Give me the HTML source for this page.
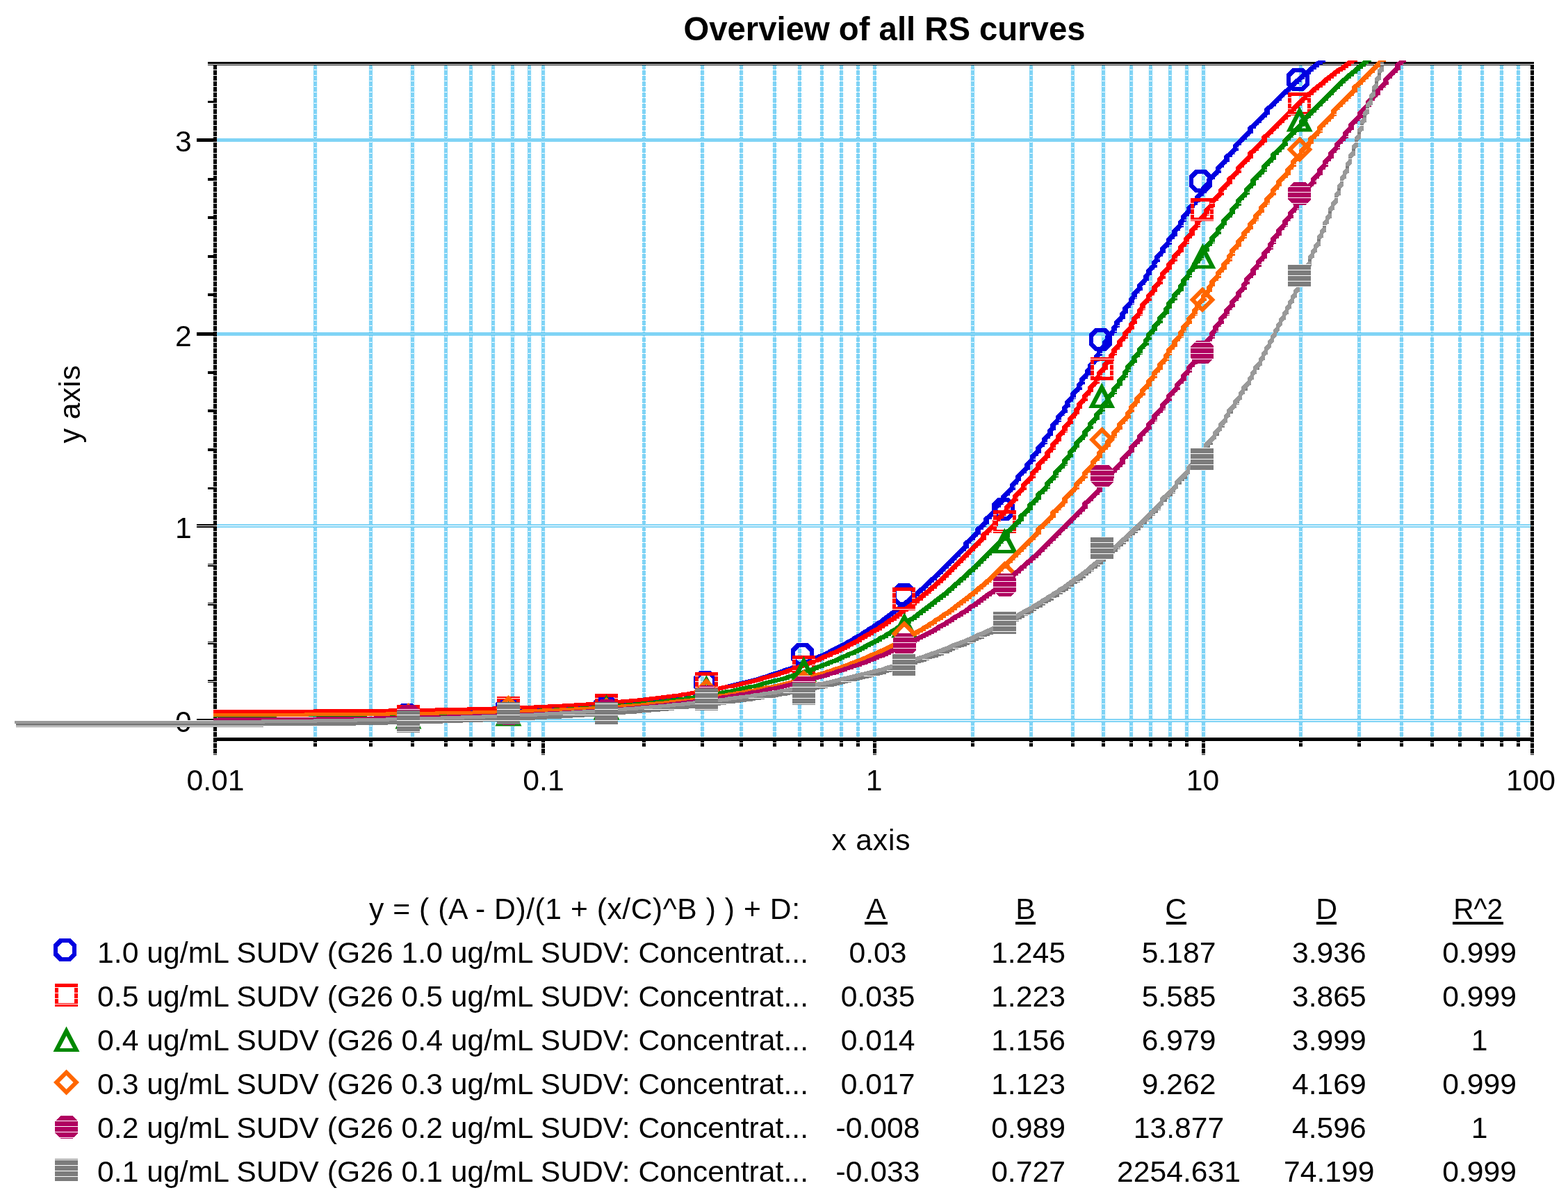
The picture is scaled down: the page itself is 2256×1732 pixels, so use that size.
<!DOCTYPE html>
<html lang="en"><head><meta charset="utf-8"><title>Overview of all RS curves</title>
<style>html,body{margin:0;padding:0;background:#fff}body{width:2256px;height:1732px;overflow:hidden}svg{display:block}text{font-family:"Liberation Sans", Arial, Helvetica, sans-serif;fill:#000}</style></head><body>
<svg xmlns="http://www.w3.org/2000/svg" width="2256" height="1732" viewBox="0 0 2256 1732">
<defs>
<pattern id="pg" width="2" height="8" patternUnits="userSpaceOnUse"><g fill="#00a8ec" shape-rendering="crispEdges"><rect x="0" y="0" width="1" height="1"/><rect x="1" y="1" width="1" height="1"/><rect x="0" y="2" width="1" height="1"/><rect x="1" y="3" width="1" height="1"/><rect x="1" y="5" width="1" height="1"/><rect x="0" y="6" width="1" height="1"/><rect x="1" y="7" width="1" height="1"/></g></pattern>
<pattern id="hk" width="8" height="8" patternUnits="userSpaceOnUse"><g shape-rendering="crispEdges"><rect width="8" height="8" fill="#fff"/><rect width="8" height="4" fill="#000"/><rect y="5" width="8" height="3" fill="#000"/></g></pattern>
<pattern id="hred" width="8" height="8" patternUnits="userSpaceOnUse"><g shape-rendering="crispEdges"><rect width="8" height="8" fill="#fff"/><rect width="8" height="4" fill="#ff0000"/><rect y="5" width="8" height="3" fill="#ff0000"/></g></pattern>
<pattern id="hpurple" width="8" height="8" patternUnits="userSpaceOnUse"><g shape-rendering="crispEdges"><rect width="8" height="8" fill="#fff"/><rect width="8" height="4" fill="#b00060"/><rect y="5" width="8" height="3" fill="#b00060"/></g></pattern>
<pattern id="hgray" width="8" height="8" patternUnits="userSpaceOnUse"><g shape-rendering="crispEdges"><rect width="8" height="8" fill="#fff"/><rect width="8" height="4" fill="#7c7c7c"/><rect y="5" width="8" height="3" fill="#7c7c7c"/></g></pattern>
<clipPath id="cp"><rect x="0" y="87" width="2256" height="1000"/></clipPath>
</defs>
<rect width="2256" height="1732" fill="#fff"/>
<g fill="url(#pg)" shape-rendering="crispEdges">
<rect x="451" y="94" width="5" height="967"/>
<rect x="531" y="94" width="5" height="967"/>
<rect x="591" y="94" width="5" height="967"/>
<rect x="639" y="94" width="5" height="967"/>
<rect x="675" y="94" width="5" height="967"/>
<rect x="707" y="94" width="5" height="967"/>
<rect x="735" y="94" width="5" height="967"/>
<rect x="759" y="94" width="5" height="967"/>
<rect x="779" y="94" width="5" height="967"/>
<rect x="924" y="94" width="5" height="967"/>
<rect x="1008" y="94" width="5" height="967"/>
<rect x="1064" y="94" width="5" height="967"/>
<rect x="1112" y="94" width="5" height="967"/>
<rect x="1148" y="94" width="5" height="967"/>
<rect x="1180" y="94" width="5" height="967"/>
<rect x="1208" y="94" width="5" height="967"/>
<rect x="1232" y="94" width="5" height="967"/>
<rect x="1256" y="94" width="5" height="967"/>
<rect x="1397" y="94" width="5" height="967"/>
<rect x="1481" y="94" width="5" height="967"/>
<rect x="1541" y="94" width="5" height="967"/>
<rect x="1585" y="94" width="5" height="967"/>
<rect x="1625" y="94" width="5" height="967"/>
<rect x="1653" y="94" width="5" height="967"/>
<rect x="1681" y="94" width="5" height="967"/>
<rect x="1705" y="94" width="5" height="967"/>
<rect x="1729" y="94" width="5" height="967"/>
<rect x="1869" y="94" width="5" height="967"/>
<rect x="1953" y="94" width="5" height="967"/>
<rect x="2014" y="94" width="5" height="967"/>
<rect x="2058" y="94" width="5" height="967"/>
<rect x="2098" y="94" width="5" height="967"/>
<rect x="2130" y="94" width="5" height="967"/>
<rect x="2158" y="94" width="5" height="967"/>
<rect x="2182" y="94" width="5" height="967"/>
<rect x="312" y="199" width="1890" height="5"/>
<rect x="312" y="478" width="1890" height="5"/>
<rect x="312" y="754" width="1890" height="5"/>
<rect x="312" y="1034" width="1890" height="5"/>
</g>
<g fill="url(#hk)" shape-rendering="crispEdges">
<rect x="299" y="89" width="1908" height="5"/>
<rect x="307" y="94" width="5" height="992"/>
<rect x="2202" y="94" width="5" height="992"/>
<rect x="307" y="1061" width="1900" height="5"/>
<rect x="283" y="1034" width="24" height="5"/>
<rect x="299" y="978" width="8" height="4"/>
<rect x="299" y="923" width="8" height="4"/>
<rect x="299" y="867" width="8" height="4"/>
<rect x="299" y="811" width="8" height="4"/>
<rect x="283" y="754" width="24" height="5"/>
<rect x="299" y="700" width="8" height="4"/>
<rect x="299" y="645" width="8" height="4"/>
<rect x="299" y="589" width="8" height="4"/>
<rect x="299" y="534" width="8" height="4"/>
<rect x="283" y="478" width="24" height="5"/>
<rect x="299" y="422" width="8" height="4"/>
<rect x="299" y="367" width="8" height="4"/>
<rect x="299" y="311" width="8" height="4"/>
<rect x="299" y="256" width="8" height="4"/>
<rect x="283" y="199" width="24" height="5"/>
<rect x="299" y="145" width="8" height="4"/>
<rect x="451" y="1066" width="5" height="8"/>
<rect x="531" y="1066" width="5" height="8"/>
<rect x="591" y="1066" width="5" height="8"/>
<rect x="639" y="1066" width="5" height="8"/>
<rect x="675" y="1066" width="5" height="8"/>
<rect x="707" y="1066" width="5" height="8"/>
<rect x="735" y="1066" width="5" height="8"/>
<rect x="759" y="1066" width="5" height="8"/>
<rect x="779" y="1066" width="5" height="20"/>
<rect x="924" y="1066" width="5" height="8"/>
<rect x="1008" y="1066" width="5" height="8"/>
<rect x="1064" y="1066" width="5" height="8"/>
<rect x="1112" y="1066" width="5" height="8"/>
<rect x="1148" y="1066" width="5" height="8"/>
<rect x="1180" y="1066" width="5" height="8"/>
<rect x="1208" y="1066" width="5" height="8"/>
<rect x="1232" y="1066" width="5" height="8"/>
<rect x="1256" y="1066" width="5" height="20"/>
<rect x="1397" y="1066" width="5" height="8"/>
<rect x="1481" y="1066" width="5" height="8"/>
<rect x="1541" y="1066" width="5" height="8"/>
<rect x="1585" y="1066" width="5" height="8"/>
<rect x="1625" y="1066" width="5" height="8"/>
<rect x="1653" y="1066" width="5" height="8"/>
<rect x="1681" y="1066" width="5" height="8"/>
<rect x="1705" y="1066" width="5" height="8"/>
<rect x="1729" y="1066" width="5" height="20"/>
<rect x="1869" y="1066" width="5" height="8"/>
<rect x="1953" y="1066" width="5" height="8"/>
<rect x="2014" y="1066" width="5" height="8"/>
<rect x="2058" y="1066" width="5" height="8"/>
<rect x="2098" y="1066" width="5" height="8"/>
<rect x="2130" y="1066" width="5" height="8"/>
<rect x="2158" y="1066" width="5" height="8"/>
<rect x="2182" y="1066" width="5" height="8"/>
</g>
<g font-size="42.67">
<text x="275.7" y="218" text-anchor="end">3</text>
<text x="275.7" y="498" text-anchor="end">2</text>
<text x="275.7" y="774" text-anchor="end">1</text>
<text x="275.7" y="1053" text-anchor="end">0</text>
</g>
<g>
<g clip-path="url(#cp)" shape-rendering="crispEdges">
<path d="M307 1023h8v5h-8zM311 1023h8v5h-8zM315 1023h8v5h-8zM319 1022h8v5h-8zM324 1022h8v5h-8zM328 1022h8v5h-8zM332 1022h8v5h-8zM336 1022h8v5h-8zM340 1022h8v5h-8zM345 1022h8v5h-8zM349 1022h8v5h-8zM353 1022h8v5h-8zM357 1022h8v5h-8zM361 1022h8v5h-8zM365 1022h8v5h-8zM370 1022h8v5h-8zM374 1022h8v5h-8zM378 1022h8v5h-8zM382 1022h8v5h-8zM386 1022h8v5h-8zM390 1022h8v5h-8zM395 1022h8v5h-8zM399 1022h8v5h-8zM403 1022h8v5h-8zM407 1022h8v5h-8zM411 1022h8v5h-8zM415 1022h8v5h-8zM420 1022h8v5h-8zM424 1022h8v5h-8zM428 1022h8v5h-8zM432 1022h8v5h-8zM436 1022h8v5h-8zM440 1022h8v5h-8zM445 1022h8v5h-8zM449 1022h8v5h-8zM453 1022h8v5h-8zM457 1022h8v5h-8zM461 1022h8v5h-8zM465 1022h8v5h-8zM469 1022h8v5h-8zM474 1022h8v5h-8zM478 1022h8v5h-8zM482 1022h8v5h-8zM486 1022h8v5h-8zM490 1022h8v5h-8zM495 1022h8v5h-8zM499 1022h8v5h-8zM503 1021h8v5h-8zM507 1021h8v5h-8zM511 1021h8v5h-8zM515 1021h8v5h-8zM520 1021h8v5h-8zM524 1021h8v5h-8zM528 1021h8v5h-8zM532 1021h8v5h-8zM536 1021h8v5h-8zM540 1021h8v5h-8zM545 1021h8v5h-8zM549 1021h8v5h-8zM553 1021h8v5h-8zM557 1021h8v5h-8zM561 1021h8v5h-8zM565 1021h8v5h-8zM569 1021h8v5h-8zM574 1021h8v5h-8zM578 1021h8v5h-8zM582 1021h8v5h-8zM586 1021h8v5h-8zM590 1020h8v5h-8zM595 1020h8v5h-8zM599 1020h8v5h-8zM603 1020h8v5h-8zM607 1020h8v5h-8zM611 1020h8v5h-8zM615 1020h8v5h-8zM619 1020h8v5h-8zM624 1020h8v5h-8zM628 1020h8v5h-8zM632 1020h8v5h-8zM636 1020h8v5h-8zM640 1020h8v5h-8zM645 1019h8v5h-8zM649 1019h8v5h-8zM653 1019h8v5h-8zM657 1019h8v5h-8zM661 1019h8v5h-8zM665 1019h8v5h-8zM669 1019h8v5h-8zM674 1019h8v5h-8zM678 1019h8v5h-8zM682 1019h8v5h-8zM686 1019h8v5h-8zM690 1018h8v5h-8zM695 1018h8v5h-8zM699 1018h8v5h-8zM703 1018h8v5h-8zM707 1018h8v5h-8zM711 1018h8v5h-8zM715 1018h8v5h-8zM720 1017h8v5h-8zM724 1017h8v5h-8zM728 1017h8v5h-8zM732 1017h8v5h-8zM736 1017h8v5h-8zM740 1017h8v5h-8zM745 1017h8v5h-8zM749 1016h8v5h-8zM753 1016h8v5h-8zM757 1016h8v5h-8zM761 1016h8v5h-8zM765 1016h8v5h-8zM770 1016h8v5h-8zM774 1015h8v5h-8zM778 1015h8v5h-8zM782 1015h8v5h-8zM786 1015h8v5h-8zM790 1015h8v5h-8zM795 1014h8v5h-8zM799 1014h8v5h-8zM803 1014h8v5h-8zM807 1014h8v5h-8zM811 1013h8v5h-8zM815 1013h8v5h-8zM819 1013h8v5h-8zM824 1013h8v5h-8zM828 1012h8v5h-8zM832 1012h8v5h-8zM836 1012h8v5h-8zM840 1012h8v5h-8zM845 1011h8v5h-8zM849 1011h8v5h-8zM853 1011h8v5h-8zM857 1010h8v5h-8zM861 1010h8v5h-8zM865 1010h8v5h-8zM869 1010h8v5h-8zM874 1009h8v5h-8zM878 1009h8v5h-8zM882 1008h8v5h-8zM886 1008h8v5h-8zM890 1008h8v5h-8zM895 1007h8v5h-8zM899 1007h8v5h-8zM903 1007h8v5h-8zM907 1006h8v5h-8zM911 1006h8v5h-8zM915 1005h8v5h-8zM919 1005h8v5h-8zM924 1004h8v5h-8zM928 1004h8v5h-8zM932 1003h8v5h-8zM936 1003h8v5h-8zM940 1002h8v5h-8zM945 1002h8v5h-8zM949 1001h8v5h-8zM953 1001h8v5h-8zM957 1000h8v5h-8zM961 1000h8v5h-8zM965 999h8v5h-8zM969 999h8v5h-8zM974 998h8v5h-8zM978 997h8v5h-8zM982 997h8v5h-8zM986 996h8v5h-8zM990 995h8v5h-8zM995 995h8v5h-8zM999 994h8v5h-8zM1003 993h8v5h-8zM1007 992h8v5h-8zM1011 992h8v5h-8zM1015 991h8v5h-8zM1019 990h8v5h-8zM1024 989h8v5h-8zM1028 988h8v5h-8zM1032 988h8v5h-8zM1036 987h8v5h-8zM1040 986h8v5h-8zM1045 985h8v5h-8zM1049 984h8v5h-8zM1053 983h8v5h-8zM1057 982h8v5h-8zM1061 981h8v5h-8zM1065 980h8v5h-8zM1069 979h8v5h-8zM1074 978h8v5h-8zM1078 977h8v5h-8zM1082 976h8v5h-8zM1086 975h8v5h-8zM1090 974h8v5h-8zM1095 972h8v5h-8zM1099 971h8v5h-8zM1103 970h8v5h-8zM1107 968h8v5h-8zM1111 967h8v5h-8zM1115 966h8v5h-8zM1120 964h8v5h-8zM1124 963h8v5h-8zM1128 961h8v5h-8zM1132 960h8v5h-8zM1136 959h8v5h-8zM1140 957h8v5h-8zM1145 955h8v5h-8zM1149 954h8v5h-8zM1153 952h8v5h-8zM1157 950h8v5h-8zM1161 949h8v5h-8zM1165 947h8v5h-8zM1170 945h8v5h-8zM1174 943h8v5h-8zM1178 941h8v5h-8zM1182 940h8v5h-8zM1186 938h8v5h-8zM1190 936h8v5h-8zM1195 933h8v5h-8zM1199 931h8v5h-8zM1203 929h8v5h-8zM1207 927h8v5h-8zM1211 925h8v5h-8zM1215 923h8v5h-8zM1220 920h8v5h-8zM1224 918h8v5h-8zM1228 915h8v5h-8zM1232 913h8v5h-8zM1236 911h8v5h-8zM1240 908h8v5h-8zM1245 905h8v5h-8zM1249 902h8v5h-8zM1253 900h8v5h-8zM1257 897h8v5h-8zM1261 894h8v5h-8zM1265 892h8v5h-8zM1270 888h8v5h-8zM1274 885h8v5h-8zM1278 882h8v5h-8zM1282 879h8v5h-8zM1286 876h8v5h-8zM1290 873h8v5h-8zM1295 869h8v5h-8zM1299 866h8v5h-8zM1303 863h8v5h-8zM1307 859h8v5h-8zM1311 856h8v5h-8zM1315 853h8v5h-8zM1320 848h8v5h-8zM1324 845h8v5h-8zM1328 841h8v5h-8zM1332 837h8v5h-8zM1336 833h8v5h-8zM1340 830h8v5h-8zM1345 825h8v5h-8zM1349 821h8v5h-8zM1353 817h8v5h-8zM1357 813h8v5h-8zM1361 809h8v5h-8zM1365 805h8v5h-8zM1369 801h8v5h-8zM1374 796h8v5h-8zM1378 792h8v5h-8zM1382 788h8v5h-8zM1386 780h8v9h-8zM1390 777h8v5h-8zM1395 772h8v5h-8zM1399 768h8v5h-8zM1403 760h8v9h-8zM1407 757h8v5h-8zM1411 753h8v5h-8zM1415 745h8v9h-8zM1419 742h8v5h-8zM1424 737h8v5h-8zM1428 729h8v9h-8zM1432 725h8v5h-8zM1436 721h8v5h-8zM1440 713h8v9h-8zM1445 708h8v5h-8zM1449 704h8v5h-8zM1453 696h8v9h-8zM1457 692h8v5h-8zM1461 684h8v9h-8zM1465 680h8v5h-8zM1469 676h8v5h-8zM1474 667h8v9h-8zM1478 663h8v5h-8zM1482 655h8v9h-8zM1486 651h8v5h-8zM1490 643h8v9h-8zM1495 638h8v5h-8zM1499 630h8v9h-8zM1503 626h8v5h-8zM1507 618h8v9h-8zM1511 610h8v9h-8zM1515 606h8v5h-8zM1519 598h8v9h-8zM1524 593h8v5h-8zM1528 585h8v9h-8zM1532 577h8v9h-8zM1536 573h8v5h-8zM1540 565h8v9h-8zM1545 560h8v5h-8zM1549 552h8v9h-8zM1553 544h8v9h-8zM1557 540h8v5h-8zM1561 532h8v9h-8zM1565 524h8v9h-8zM1569 520h8v5h-8zM1574 511h8v9h-8zM1578 503h8v9h-8zM1582 499h8v5h-8zM1586 491h8v9h-8zM1590 483h8v9h-8zM1595 478h8v5h-8zM1599 470h8v9h-8zM1603 462h8v9h-8zM1607 458h8v5h-8zM1611 450h8v9h-8zM1615 442h8v9h-8zM1619 438h8v5h-8zM1624 429h8v9h-8zM1628 421h8v9h-8zM1632 417h8v5h-8zM1636 409h8v9h-8zM1640 405h8v5h-8zM1645 396h8v9h-8zM1649 388h8v9h-8zM1653 384h8v5h-8zM1657 376h8v9h-8zM1661 368h8v9h-8zM1665 364h8v5h-8zM1669 356h8v9h-8zM1674 351h8v5h-8zM1678 343h8v9h-8zM1682 339h8v5h-8zM1686 331h8v9h-8zM1690 327h8v5h-8zM1695 318h8v9h-8zM1699 310h8v9h-8zM1703 306h8v5h-8zM1707 298h8v9h-8zM1711 294h8v5h-8zM1715 290h8v5h-8zM1719 282h8v9h-8zM1724 277h8v5h-8zM1728 269h8v9h-8zM1732 265h8v5h-8zM1736 257h8v9h-8zM1740 253h8v5h-8zM1745 248h8v5h-8zM1749 240h8v9h-8zM1753 236h8v5h-8zM1757 232h8v5h-8zM1761 224h8v9h-8zM1765 221h8v5h-8zM1769 217h8v5h-8zM1774 208h8v9h-8zM1778 204h8v5h-8zM1782 200h8v5h-8zM1786 196h8v5h-8zM1790 192h8v5h-8zM1795 183h8v9h-8zM1799 180h8v5h-8zM1803 176h8v5h-8zM1807 172h8v5h-8zM1811 168h8v5h-8zM1815 164h8v5h-8zM1819 156h8v9h-8zM1824 152h8v5h-8zM1828 148h8v5h-8zM1832 144h8v5h-8zM1836 140h8v5h-8zM1840 136h8v5h-8zM1845 131h8v5h-8zM1849 128h8v5h-8zM1853 124h8v5h-8zM1857 120h8v5h-8zM1861 116h8v5h-8zM1865 113h8v5h-8zM1869 109h8v5h-8zM1874 105h8v5h-8zM1878 102h8v5h-8zM1882 98h8v5h-8zM1886 95h8v5h-8zM1890 92h8v5h-8zM1895 88h8v5h-8zM1899 85h8v5h-8z" fill="#0000e0"/>
<path d="M590 1020h5v1h-5zM595 1020h4v1h-4zM599 1020h4v1h-4zM603 1020h4v1h-4zM607 1020h4v1h-4zM611 1020h4v1h-4zM615 1020h4v1h-4zM619 1020h5v1h-5zM624 1020h4v1h-4zM628 1020h4v1h-4zM632 1020h4v1h-4zM636 1020h4v1h-4zM645 1020h4v1h-4zM649 1020h4v1h-4zM653 1020h4v1h-4zM657 1020h4v1h-4zM661 1020h4v1h-4zM665 1020h4v1h-4zM669 1020h5v1h-5zM674 1020h4v1h-4zM678 1020h4v1h-4zM682 1020h4v1h-4zM690 1020h5v1h-5zM695 1020h4v1h-4zM699 1020h4v1h-4zM703 1020h4v1h-4zM707 1020h4v1h-4zM711 1020h4v1h-4zM720 1020h4v1h-4zM724 1020h4v1h-4zM728 1020h4v1h-4zM732 1020h4v1h-4zM736 1020h4v1h-4zM740 1020h5v1h-5zM749 1020h4v1h-4zM753 1020h4v1h-4zM757 1020h4v1h-4zM761 1020h4v1h-4zM765 1020h5v1h-5zM828 1012h4v1h-4zM832 1012h4v1h-4zM836 1012h4v1h-4zM845 1012h4v1h-4zM849 1012h4v1h-4zM857 1012h4v1h-4zM861 1012h4v1h-4zM865 1012h4v1h-4zM874 1012h4v1h-4zM882 1012h4v1h-4zM886 1012h4v1h-4zM924 1004h4v1h-4zM932 1004h4v1h-4zM940 1004h5v1h-5zM949 1004h4v1h-4zM957 1004h4v1h-4zM990 996h5v1h-5zM1007 996h4v1h-4zM1028 988h4v1h-4zM1330 844h6v1h-6zM1347 828h6v1h-6zM1355 820h6v1h-6zM1363 812h6v1h-6zM1371 804h6v1h-6zM1379 796h7v1h-7zM1392 780h6v1h-6zM1400 772h7v1h-7zM1413 756h6v1h-6zM1426 740h6v1h-6zM1430 732h6v1h-6zM1438 724h6v1h-6zM1442 716h6v1h-6zM1450 708h7v1h-7zM1454 700h7v1h-7zM1461 692h8v1h-8zM1466 684h7v1h-7zM1482 660h8v1h-8zM1494 644h4v1h-4zM1499 636h8v1h-8zM1506 628h5v1h-5zM1510 620h5v1h-5zM1514 612h5v1h-5zM1519 604h8v1h-8zM1526 596h6v1h-6zM1530 588h6v1h-6zM1534 580h6v1h-6zM1540 572h8v1h-8zM1546 564h7v1h-7zM1550 556h7v1h-7zM1554 548h7v1h-7zM1561 540h8v1h-8zM1565 532h8v1h-8zM1570 524h7v1h-7zM1574 516h8v1h-8zM1578 508h8v1h-8zM1594 484h4v1h-4zM1599 476h8v1h-8zM1603 468h8v1h-8zM1610 460h5v1h-5zM1614 452h5v1h-5zM1618 444h5v1h-5zM1624 436h8v1h-8zM1628 428h8v1h-8zM1634 420h6v1h-6zM1638 412h6v1h-6zM1645 404h8v1h-8zM1649 396h8v1h-8zM1654 388h7v1h-7zM1658 380h7v1h-7zM1662 372h7v1h-7zM1669 364h8v1h-8zM1678 348h8v1h-8zM1695 324h8v1h-8zM1699 316h8v1h-8zM1706 308h5v1h-5zM1710 300h5v1h-5zM1718 292h5v1h-5zM1722 284h5v1h-5zM1728 276h8v1h-8zM1734 268h6v1h-6zM1738 260h6v1h-6zM1746 252h7v1h-7zM1750 244h7v1h-7zM1758 236h7v1h-7zM1771 220h6v1h-6zM1775 212h7v1h-7zM1783 204h7v1h-7zM1791 196h7v1h-7zM1804 180h7v1h-7zM1812 172h7v1h-7zM1825 156h7v1h-7zM1833 148h7v1h-7zM1841 140h7v1h-7zM1850 132h7v1h-7zM1858 124h7v1h-7zM1867 116h6v1h-6z" fill="#fff"/>
<path d="M307 1023h9v5h-9zM311 1023h9v5h-9zM315 1023l4 -1h5v5l-4 1h-5zM319 1022h10v5h-10zM324 1022h9v5h-9zM328 1022h9v5h-9zM332 1022h9v5h-9zM336 1022h9v5h-9zM340 1022h10v5h-10zM345 1022h9v5h-9zM349 1022h9v5h-9zM353 1022h9v5h-9zM357 1022h9v5h-9zM361 1022h9v5h-9zM365 1022h10v5h-10zM370 1022h9v5h-9zM374 1022h9v5h-9zM378 1022h9v5h-9zM382 1022h9v5h-9zM386 1022h9v5h-9zM390 1022h10v5h-10zM395 1022h9v5h-9zM399 1022h9v5h-9zM403 1022h9v5h-9zM407 1022h9v5h-9zM411 1022h9v5h-9zM415 1022h10v5h-10zM420 1022h9v5h-9zM424 1022h9v5h-9zM428 1022h9v5h-9zM432 1022h9v5h-9zM436 1022h9v5h-9zM440 1022h10v5h-10zM445 1022h9v5h-9zM449 1022h9v5h-9zM453 1022h9v5h-9zM457 1022h9v5h-9zM461 1022h9v5h-9zM465 1022h9v5h-9zM469 1022h10v5h-10zM474 1022h9v5h-9zM478 1022h9v5h-9zM482 1022h9v5h-9zM486 1022h9v5h-9zM490 1022h10v5h-10zM495 1022h9v5h-9zM499 1022l4 -1h5v5l-4 1h-5zM503 1021h9v5h-9zM507 1021h9v5h-9zM511 1021h9v5h-9zM515 1021h10v5h-10zM520 1021h9v5h-9zM524 1021h9v5h-9zM528 1021h9v5h-9zM532 1021h9v5h-9zM536 1021h9v5h-9zM540 1021h10v5h-10zM545 1021h9v5h-9zM549 1021h9v5h-9zM553 1021h9v5h-9zM557 1021h9v5h-9zM561 1021h9v5h-9zM565 1021h9v5h-9zM569 1021h10v5h-10zM574 1021h9v5h-9zM578 1021h9v5h-9zM582 1021h9v5h-9zM586 1021l4 -1h5v5l-4 1h-5zM590 1020h10v5h-10zM595 1020h9v5h-9zM599 1020h9v5h-9zM603 1020h9v5h-9zM607 1020h9v5h-9zM611 1020h9v5h-9zM615 1020h9v5h-9zM619 1020h10v5h-10zM624 1020h9v5h-9zM628 1020h9v5h-9zM632 1020h9v5h-9zM636 1020h9v5h-9zM640 1020l5 -1h5v5l-5 1h-5zM645 1019h9v5h-9zM649 1019h9v5h-9zM653 1019h9v5h-9zM657 1019h9v5h-9zM661 1019h9v5h-9zM665 1019h9v5h-9zM669 1019h10v5h-10zM674 1019h9v5h-9zM678 1019h9v5h-9zM682 1019h9v5h-9zM686 1019l4 -1h5v5l-4 1h-5zM690 1018h10v5h-10zM695 1018h9v5h-9zM699 1018h9v5h-9zM703 1018h9v5h-9zM707 1018h9v5h-9zM711 1018h9v5h-9zM715 1018l5 -1h5v5l-5 1h-5zM720 1017h9v5h-9zM724 1017h9v5h-9zM728 1017h9v5h-9zM732 1017h9v5h-9zM736 1017h9v5h-9zM740 1017h10v5h-10zM745 1017l4 -1h5v5l-4 1h-5zM749 1016h9v5h-9zM753 1016h9v5h-9zM757 1016h9v5h-9zM761 1016h9v5h-9zM765 1016h10v5h-10zM770 1016l4 -1h5v5l-4 1h-5zM774 1015h9v5h-9zM778 1015h9v5h-9zM782 1015h9v5h-9zM786 1015h9v5h-9zM790 1015l5 -1h5v5l-5 1h-5zM795 1014h9v5h-9zM799 1014h9v5h-9zM803 1014h9v5h-9zM807 1014l4 -1h5v5l-4 1h-5zM811 1013h9v5h-9zM815 1013h9v5h-9zM819 1013h10v5h-10zM824 1013l4 -1h5v5l-4 1h-5zM828 1012h9v5h-9zM832 1012h9v5h-9zM836 1012h9v5h-9zM840 1012l5 -1h5v5l-5 1h-5zM845 1011h9v5h-9zM849 1011h9v5h-9zM853 1011l4 -1h5v5l-4 1h-5zM857 1010h9v5h-9zM861 1010h9v5h-9zM865 1010h9v5h-9zM869 1010l5 -1h5v5l-5 1h-5zM874 1009h9v5h-9zM878 1009l4 -1h5v5l-4 1h-5zM882 1008h9v5h-9zM886 1008h9v5h-9zM890 1008l5 -1h5v5l-5 1h-5zM895 1007h9v5h-9zM899 1007h9v5h-9zM903 1007l4 -1h5v5l-4 1h-5zM907 1006h9v5h-9zM911 1006l4 -1h5v5l-4 1h-5zM915 1005h9v5h-9zM919 1005l5 -1h5v5l-5 1h-5zM924 1004h9v5h-9zM928 1004l4 -1h5v5l-4 1h-5zM932 1003h9v5h-9zM936 1003l4 -1h5v5l-4 1h-5zM940 1002h10v5h-10zM945 1002l4 -1h5v5l-4 1h-5zM949 1001h9v5h-9zM953 1001l4 -1h5v5l-4 1h-5zM957 1000h9v5h-9zM961 1000l4 -1h5v5l-4 1h-5zM965 999h9v5h-9zM969 999l5 -1h5v5l-5 1h-5zM974 998l4 -1h5v5l-4 1h-5zM978 997h9v5h-9zM982 997l4 -1h5v5l-4 1h-5zM986 996l4 -1h5v5l-4 1h-5zM990 995h10v5h-10zM995 995l4 -1h5v5l-4 1h-5zM999 994l4 -1h5v5l-4 1h-5zM1003 993l4 -1h5v5l-4 1h-5zM1007 992h9v5h-9zM1011 992l4 -1h5v5l-4 1h-5zM1015 991l4 -1h5v5l-4 1h-5zM1019 990l5 -1h5v5l-5 1h-5zM1024 989l4 -1h5v5l-4 1h-5zM1028 988h9v5h-9zM1032 988l4 -1h5v5l-4 1h-5zM1036 987l4 -1h5v5l-4 1h-5zM1040 986l5 -1h5v5l-5 1h-5zM1045 985l4 -1h5v5l-4 1h-5zM1049 984l4 -1h5v5l-4 1h-5zM1053 983l4 -1h5v5l-4 1h-5zM1057 982l4 -1h5v5l-4 1h-5zM1061 981l4 -1h5v5l-4 1h-5zM1065 980l4 -1h5v5l-4 1h-5zM1069 979l5 -1h5v5l-5 1h-5zM1074 978l4 -1h5v5l-4 1h-5zM1078 977l4 -1h5v5l-4 1h-5zM1082 976l4 -1h5v5l-4 1h-5zM1086 975l4 -1h5v5l-4 1h-5zM1090 974l5 -2h5v5l-5 2h-5zM1095 972l4 -1h5v5l-4 1h-5zM1099 971l4 -1h5v5l-4 1h-5zM1103 970l4 -2h5v5l-4 2h-5zM1107 968l4 -1h5v5l-4 1h-5zM1111 967l4 -1h5v5l-4 1h-5zM1115 966l5 -2h5v5l-5 2h-5zM1120 964l4 -1h5v5l-4 1h-5zM1124 963l4 -2h5v5l-4 2h-5zM1128 961l4 -1h5v5l-4 1h-5zM1132 960l4 -1h5v5l-4 1h-5zM1136 959l4 -2h5v5l-4 2h-5zM1140 957l5 -2h5v5l-5 2h-5zM1145 955l4 -1h5v5l-4 1h-5zM1149 954l4 -2h5v5l-4 2h-5zM1153 952l4 -2h5v5l-4 2h-5zM1157 950l4 -1h5v5l-4 1h-5zM1161 949l4 -2h5v5l-4 2h-5zM1165 947l5 -2h5v5l-5 2h-5zM1170 945l4 -2h5v5l-4 2h-5zM1174 943l4 -2h5v5l-4 2h-5zM1178 941l4 -1h5v5l-4 1h-5zM1182 940l4 -2h5v5l-4 2h-5zM1186 938l4 -2h5v5l-4 2h-5zM1190 936l5 -3h5v5l-5 3h-5zM1195 933l4 -2h5v5l-4 2h-5zM1199 931l4 -2h5v5l-4 2h-5zM1203 929l4 -2h5v5l-4 2h-5zM1207 927l4 -2h5v5l-4 2h-5zM1211 925l4 -2h5v5l-4 2h-5zM1215 923l5 -3h5v5l-5 3h-5zM1220 920l4 -2h5v5l-4 2h-5zM1224 918l4 -3h5v5l-4 3h-5zM1228 915l4 -2h5v5l-4 2h-5zM1232 913l4 -2h5v5l-4 2h-5zM1236 911l4 -3h5v5l-4 3h-5zM1240 908l5 -3h5v5l-5 3h-5zM1245 905l4 -3h5v5l-4 3h-5zM1249 902l4 -2h5v5l-4 2h-5zM1253 900l4 -3h5v5l-4 3h-5zM1257 897l4 -3h5v5l-4 3h-5zM1261 894l4 -2h5v5l-4 2h-5zM1265 892l5 -4h5v5l-5 4h-5zM1270 888l4 -3h5v5l-4 3h-5zM1274 885l4 -3h5v5l-4 3h-5zM1278 882l4 -3h5v5l-4 3h-5zM1282 879l4 -3h5v5l-4 3h-5zM1286 876l4 -3h5v5l-4 3h-5zM1290 873l5 -4h5v5l-5 4h-5zM1295 869l4 -3h5v5l-4 3h-5zM1299 866l4 -3h5v5l-4 3h-5zM1303 863l4 -4h5v5l-4 4h-5zM1307 859l4 -3h5v5l-4 3h-5zM1311 856l4 -3h5v5l-4 3h-5zM1315 853l5 -5h5v5l-5 5h-5zM1320 848l4 -3h5v5l-4 3h-5zM1324 845l4 -4h5v5l-4 4h-5zM1328 841l4 -4h5v5l-4 4h-5zM1332 837l4 -4h5v5l-4 4h-5zM1336 833l4 -3h5v5l-4 3h-5zM1340 830l5 -5h5v5l-5 5h-5zM1345 825l4 -4h5v5l-4 4h-5zM1349 821l4 -4h5v5l-4 4h-5zM1353 817l4 -4h5v5l-4 4h-5zM1357 813l4 -4h5v5l-4 4h-5zM1361 809l4 -4h5v5l-4 4h-5zM1365 805l4 -4h5v5l-4 4h-5zM1369 801l5 -5h5v5l-5 5h-5zM1374 796l4 -4h5v5l-4 4h-5zM1378 792l4 -4h5v5l-4 4h-5zM1382 788l4 -4h5v5l-4 4h-5zM1386 780l4 -3h5v5l-4 3h-5zM1390 777l5 -5h5v5l-5 5h-5zM1395 772l4 -4h5v5l-4 4h-5zM1399 768l4 -4h5v5l-4 4h-5zM1403 760l4 -3h5v5l-4 3h-5zM1407 757l4 -4h5v5l-4 4h-5zM1411 753l4 -4h5v5l-4 4h-5zM1415 745l4 -3h5v5l-4 3h-5zM1419 742l5 -5h5v5l-5 5h-5zM1424 737l4 -4h5v5l-4 4h-5zM1428 729l4 -4h5v5l-4 4h-5zM1432 725l4 -4h5v5l-4 4h-5zM1436 721l4 -4h5v5l-4 4h-5zM1440 713l5 -5h5v5l-5 5h-5zM1445 708l4 -4h5v5l-4 4h-5zM1449 704l4 -4h5v5l-4 4h-5zM1453 696l4 -4h5v5l-4 4h-5zM1457 692l4 -4h5v5l-4 4h-5zM1461 684l4 -4h5v5l-4 4h-5zM1465 680l4 -4h5v5l-4 4h-5zM1469 676l5 -5h5v5l-5 5h-5zM1474 667l4 -4h5v5l-4 4h-5zM1478 663l4 -4h5v5l-4 4h-5zM1482 655l4 -4h5v5l-4 4h-5zM1486 651l4 -4h5v5l-4 4h-5zM1490 643l5 -5h5v5l-5 5h-5zM1495 638l4 -4h5v5l-4 4h-5zM1499 630l4 -4h5v5l-4 4h-5zM1503 626l4 -4h5v5l-4 4h-5zM1507 618l4 -4h5v5l-4 4h-5zM1511 610l4 -4h5v5l-4 4h-5zM1515 606l4 -4h5v5l-4 4h-5zM1519 598l5 -5h5v5l-5 5h-5zM1524 593l4 -4h5v5l-4 4h-5zM1528 585l4 -4h5v5l-4 4h-5zM1532 577l4 -4h5v5l-4 4h-5zM1536 573l4 -4h5v5l-4 4h-5zM1540 565l5 -5h5v5l-5 5h-5zM1545 560l4 -4h5v5l-4 4h-5zM1549 552l4 -4h5v5l-4 4h-5zM1553 544l4 -4h5v5l-4 4h-5zM1557 540l4 -4h5v5l-4 4h-5zM1561 532l4 -4h5v5l-4 4h-5zM1565 524l4 -4h5v5l-4 4h-5zM1569 520l5 -5h5v5l-5 5h-5zM1574 511l4 -4h5v5l-4 4h-5zM1578 503l4 -4h5v5l-4 4h-5zM1582 499l4 -4h5v5l-4 4h-5zM1586 491l4 -4h5v5l-4 4h-5zM1590 483l5 -5h5v5l-5 5h-5zM1595 478l4 -4h5v5l-4 4h-5zM1599 470l4 -4h5v5l-4 4h-5zM1603 462l4 -4h5v5l-4 4h-5zM1607 458l4 -4h5v5l-4 4h-5zM1611 450l4 -4h5v5l-4 4h-5zM1615 442l4 -4h5v5l-4 4h-5zM1619 438l5 -5h5v5l-5 5h-5zM1624 429l4 -4h5v5l-4 4h-5zM1628 421l4 -4h5v5l-4 4h-5zM1632 417l4 -4h5v5l-4 4h-5zM1636 409l4 -4h5v5l-4 4h-5zM1640 405l5 -5h5v5l-5 5h-5zM1645 396l4 -4h5v5l-4 4h-5zM1649 388l4 -4h5v5l-4 4h-5zM1653 384l4 -4h5v5l-4 4h-5zM1657 376l4 -4h5v5l-4 4h-5zM1661 368l4 -4h5v5l-4 4h-5zM1665 364l4 -4h5v5l-4 4h-5zM1669 356l5 -5h5v5l-5 5h-5zM1674 351l4 -4h5v5l-4 4h-5zM1678 343l4 -4h5v5l-4 4h-5zM1682 339l4 -4h5v5l-4 4h-5zM1686 331l4 -4h5v5l-4 4h-5zM1690 327l5 -5h5v5l-5 5h-5zM1695 318l4 -4h5v5l-4 4h-5zM1699 310l4 -4h5v5l-4 4h-5zM1703 306l4 -4h5v5l-4 4h-5zM1707 298l4 -4h5v5l-4 4h-5zM1711 294l4 -4h5v5l-4 4h-5zM1715 290l4 -4h5v5l-4 4h-5zM1719 282l5 -5h5v5l-5 5h-5zM1724 277l4 -4h5v5l-4 4h-5zM1728 269l4 -4h5v5l-4 4h-5zM1732 265l4 -4h5v5l-4 4h-5zM1736 257l4 -4h5v5l-4 4h-5zM1740 253l5 -5h5v5l-5 5h-5zM1745 248l4 -4h5v5l-4 4h-5zM1749 240l4 -4h5v5l-4 4h-5zM1753 236l4 -4h5v5l-4 4h-5zM1757 232l4 -4h5v5l-4 4h-5zM1761 224l4 -3h5v5l-4 3h-5zM1765 221l4 -4h5v5l-4 4h-5zM1769 217l5 -5h5v5l-5 5h-5zM1774 208l4 -4h5v5l-4 4h-5zM1778 204l4 -4h5v5l-4 4h-5zM1782 200l4 -4h5v5l-4 4h-5zM1786 196l4 -4h5v5l-4 4h-5zM1790 192l5 -5h5v5l-5 5h-5zM1795 183l4 -3h5v5l-4 3h-5zM1799 180l4 -4h5v5l-4 4h-5zM1803 176l4 -4h5v5l-4 4h-5zM1807 172l4 -4h5v5l-4 4h-5zM1811 168l4 -4h5v5l-4 4h-5zM1815 164l4 -4h5v5l-4 4h-5zM1819 156l5 -4h5v5l-5 4h-5zM1824 152l4 -4h5v5l-4 4h-5zM1828 148l4 -4h5v5l-4 4h-5zM1832 144l4 -4h5v5l-4 4h-5zM1836 140l4 -4h5v5l-4 4h-5zM1840 136l5 -5h5v5l-5 5h-5zM1845 131l4 -3h5v5l-4 3h-5zM1849 128l4 -4h5v5l-4 4h-5zM1853 124l4 -4h5v5l-4 4h-5zM1857 120l4 -4h5v5l-4 4h-5zM1861 116l4 -3h5v5l-4 3h-5zM1865 113l4 -4h5v5l-4 4h-5zM1869 109l5 -4h5v5l-5 4h-5zM1874 105l4 -3h5v5l-4 3h-5zM1878 102l4 -4h5v5l-4 4h-5zM1882 98l4 -3h5v5l-4 3h-5zM1886 95l4 -3h5v5l-4 3h-5zM1890 92l5 -4h5v5l-5 4h-5zM1895 88l4 -3h5v5l-4 3h-5z" fill="#0000e0"/>
</g>
<path fill="#0000e0" fill-rule="evenodd" shape-rendering="crispEdges" d="M1859.5 98h16l8.5 8.5v16l-8.5 8.5h-16l-8.5 -8.5v-16zM1863 104h9l6 6v9l-6 6h-9l-6 -6v-9z"/>
<path fill="#0000e0" fill-rule="evenodd" shape-rendering="crispEdges" d="M1719.7 244.3h16l8.5 8.5v16l-8.5 8.5h-16l-8.5 -8.5v-16zM1723.2 250.3h9l6 6v9l-6 6h-9l-6 -6v-9z"/>
<path fill="#0000e0" fill-rule="evenodd" shape-rendering="crispEdges" d="M1575.7 472.3h16l8.5 8.5v16l-8.5 8.5h-16l-8.5 -8.5v-16zM1579.2 478.3h9l6 6v9l-6 6h-9l-6 -6v-9z"/>
<path fill="#0000e0" fill-rule="evenodd" shape-rendering="crispEdges" d="M1435.5 716h16l8.5 8.5v16l-8.5 8.5h-16l-8.5 -8.5v-16zM1439 722h9l6 6v9l-6 6h-9l-6 -6v-9z"/>
<path fill="#0000e0" fill-rule="evenodd" shape-rendering="crispEdges" d="M1292 839h16l8.5 8.5v16l-8.5 8.5h-16l-8.5 -8.5v-16zM1295.5 845h9l6 6v9l-6 6h-9l-6 -6v-9z"/>
<path fill="#0000e0" fill-rule="evenodd" shape-rendering="crispEdges" d="M1146.6 925.2h16l8.5 8.5v16l-8.5 8.5h-16l-8.5 -8.5v-16zM1150.1 931.2h9l6 6v9l-6 6h-9l-6 -6v-9z"/>
<path fill="#0000e0" fill-rule="evenodd" shape-rendering="crispEdges" d="M1006.6 965.1h16l8.5 8.5v16l-8.5 8.5h-16l-8.5 -8.5v-16zM1010.1 971.1h9l6 6v9l-6 6h-9l-6 -6v-9z"/>
<path fill="#0000e0" fill-rule="evenodd" shape-rendering="crispEdges" d="M862.6 999.5h16l8.5 8.5v16l-8.5 8.5h-16l-8.5 -8.5v-16zM866.1 1005.5h9l6 6v9l-6 6h-9l-6 -6v-9z"/>
<path fill="#0000e0" fill-rule="evenodd" shape-rendering="crispEdges" d="M721.5 1002.5h16l8.5 8.5v16l-8.5 8.5h-16l-8.5 -8.5v-16zM725 1008.5h9l6 6v9l-6 6h-9l-6 -6v-9z"/>
<path fill="#0000e0" fill-rule="evenodd" shape-rendering="crispEdges" d="M577.5 1012.1h16l8.5 8.5v16l-8.5 8.5h-16l-8.5 -8.5v-16zM581 1018.1h9l6 6v9l-6 6h-9l-6 -6v-9z"/>
</g>
<g>
<g clip-path="url(#cp)" shape-rendering="crispEdges">
<path d="M307 1021h8v5h-8zM311 1021h8v5h-8zM315 1021h8v5h-8zM319 1021h8v5h-8zM324 1021h8v5h-8zM328 1021h8v5h-8zM332 1021h8v5h-8zM336 1021h8v5h-8zM340 1021h8v5h-8zM345 1021h8v5h-8zM349 1021h8v5h-8zM353 1021h8v5h-8zM357 1021h8v5h-8zM361 1021h8v5h-8zM365 1021h8v5h-8zM370 1021h8v5h-8zM374 1021h8v5h-8zM378 1021h8v5h-8zM382 1021h8v5h-8zM386 1021h8v5h-8zM390 1021h8v5h-8zM395 1021h8v5h-8zM399 1021h8v5h-8zM403 1021h8v5h-8zM407 1021h8v5h-8zM411 1021h8v5h-8zM415 1021h8v5h-8zM420 1021h8v5h-8zM424 1021h8v5h-8zM428 1021h8v5h-8zM432 1021h8v5h-8zM436 1021h8v5h-8zM440 1021h8v5h-8zM445 1021h8v5h-8zM449 1021h8v5h-8zM453 1020h8v5h-8zM457 1020h8v5h-8zM461 1020h8v5h-8zM465 1020h8v5h-8zM469 1020h8v5h-8zM474 1020h8v5h-8zM478 1020h8v5h-8zM482 1020h8v5h-8zM486 1020h8v5h-8zM490 1020h8v5h-8zM495 1020h8v5h-8zM499 1020h8v5h-8zM503 1020h8v5h-8zM507 1020h8v5h-8zM511 1020h8v5h-8zM515 1020h8v5h-8zM520 1020h8v5h-8zM524 1020h8v5h-8zM528 1020h8v5h-8zM532 1020h8v5h-8zM536 1020h8v5h-8zM540 1020h8v5h-8zM545 1020h8v5h-8zM549 1020h8v5h-8zM553 1020h8v5h-8zM557 1020h8v5h-8zM561 1019h8v5h-8zM565 1019h8v5h-8zM569 1019h8v5h-8zM574 1019h8v5h-8zM578 1019h8v5h-8zM582 1019h8v5h-8zM586 1019h8v5h-8zM590 1019h8v5h-8zM595 1019h8v5h-8zM599 1019h8v5h-8zM603 1019h8v5h-8zM607 1019h8v5h-8zM611 1019h8v5h-8zM615 1019h8v5h-8zM619 1019h8v5h-8zM624 1019h8v5h-8zM628 1018h8v5h-8zM632 1018h8v5h-8zM636 1018h8v5h-8zM640 1018h8v5h-8zM645 1018h8v5h-8zM649 1018h8v5h-8zM653 1018h8v5h-8zM657 1018h8v5h-8zM661 1018h8v5h-8zM665 1018h8v5h-8zM669 1018h8v5h-8zM674 1017h8v5h-8zM678 1017h8v5h-8zM682 1017h8v5h-8zM686 1017h8v5h-8zM690 1017h8v5h-8zM695 1017h8v5h-8zM699 1017h8v5h-8zM703 1017h8v5h-8zM707 1017h8v5h-8zM711 1016h8v5h-8zM715 1016h8v5h-8zM720 1016h8v5h-8zM724 1016h8v5h-8zM728 1016h8v5h-8zM732 1016h8v5h-8zM736 1016h8v5h-8zM740 1016h8v5h-8zM745 1015h8v5h-8zM749 1015h8v5h-8zM753 1015h8v5h-8zM757 1015h8v5h-8zM761 1015h8v5h-8zM765 1015h8v5h-8zM770 1014h8v5h-8zM774 1014h8v5h-8zM778 1014h8v5h-8zM782 1014h8v5h-8zM786 1014h8v5h-8zM790 1013h8v5h-8zM795 1013h8v5h-8zM799 1013h8v5h-8zM803 1013h8v5h-8zM807 1013h8v5h-8zM811 1012h8v5h-8zM815 1012h8v5h-8zM819 1012h8v5h-8zM824 1012h8v5h-8zM828 1011h8v5h-8zM832 1011h8v5h-8zM836 1011h8v5h-8zM840 1011h8v5h-8zM845 1010h8v5h-8zM849 1010h8v5h-8zM853 1010h8v5h-8zM857 1009h8v5h-8zM861 1009h8v5h-8zM865 1009h8v5h-8zM869 1009h8v5h-8zM874 1008h8v5h-8zM878 1008h8v5h-8zM882 1008h8v5h-8zM886 1007h8v5h-8zM890 1007h8v5h-8zM895 1006h8v5h-8zM899 1006h8v5h-8zM903 1006h8v5h-8zM907 1005h8v5h-8zM911 1005h8v5h-8zM915 1005h8v5h-8zM919 1004h8v5h-8zM924 1004h8v5h-8zM928 1003h8v5h-8zM932 1003h8v5h-8zM936 1002h8v5h-8zM940 1002h8v5h-8zM945 1001h8v5h-8zM949 1001h8v5h-8zM953 1000h8v5h-8zM957 1000h8v5h-8zM961 999h8v5h-8zM965 999h8v5h-8zM969 998h8v5h-8zM974 998h8v5h-8zM978 997h8v5h-8zM982 996h8v5h-8zM986 996h8v5h-8zM990 995h8v5h-8zM995 994h8v5h-8zM999 994h8v5h-8zM1003 993h8v5h-8zM1007 992h8v5h-8zM1011 992h8v5h-8zM1015 991h8v5h-8zM1019 990h8v5h-8zM1024 989h8v5h-8zM1028 989h8v5h-8zM1032 988h8v5h-8zM1036 987h8v5h-8zM1040 986h8v5h-8zM1045 985h8v5h-8zM1049 985h8v5h-8zM1053 984h8v5h-8zM1057 983h8v5h-8zM1061 982h8v5h-8zM1065 981h8v5h-8zM1069 980h8v5h-8zM1074 979h8v5h-8zM1078 978h8v5h-8zM1082 977h8v5h-8zM1086 976h8v5h-8zM1090 975h8v5h-8zM1095 973h8v5h-8zM1099 972h8v5h-8zM1103 971h8v5h-8zM1107 970h8v5h-8zM1111 969h8v5h-8zM1115 968h8v5h-8zM1120 966h8v5h-8zM1124 965h8v5h-8zM1128 964h8v5h-8zM1132 962h8v5h-8zM1136 961h8v5h-8zM1140 960h8v5h-8zM1145 958h8v5h-8zM1149 956h8v5h-8zM1153 955h8v5h-8zM1157 953h8v5h-8zM1161 952h8v5h-8zM1165 950h8v5h-8zM1170 948h8v5h-8zM1174 947h8v5h-8zM1178 945h8v5h-8zM1182 943h8v5h-8zM1186 941h8v5h-8zM1190 940h8v5h-8zM1195 937h8v5h-8zM1199 936h8v5h-8zM1203 934h8v5h-8zM1207 932h8v5h-8zM1211 930h8v5h-8zM1215 928h8v5h-8zM1220 925h8v5h-8zM1224 923h8v5h-8zM1228 921h8v5h-8zM1232 919h8v5h-8zM1236 916h8v5h-8zM1240 914h8v5h-8zM1245 911h8v5h-8zM1249 909h8v5h-8zM1253 906h8v5h-8zM1257 904h8v5h-8zM1261 902h8v5h-8zM1265 899h8v5h-8zM1270 896h8v5h-8zM1274 893h8v5h-8zM1278 890h8v5h-8zM1282 888h8v5h-8zM1286 885h8v5h-8zM1290 882h8v5h-8zM1295 878h8v5h-8zM1299 875h8v5h-8zM1303 872h8v5h-8zM1307 869h8v5h-8zM1311 866h8v5h-8zM1315 863h8v5h-8zM1320 859h8v5h-8zM1324 855h8v5h-8zM1328 852h8v5h-8zM1332 849h8v5h-8zM1336 845h8v5h-8zM1340 842h8v5h-8zM1345 837h8v5h-8zM1349 834h8v5h-8zM1353 830h8v5h-8zM1357 826h8v5h-8zM1361 822h8v5h-8zM1365 818h8v5h-8zM1369 814h8v5h-8zM1374 809h8v5h-8zM1378 805h8v5h-8zM1382 801h8v5h-8zM1386 797h8v5h-8zM1390 793h8v5h-8zM1395 788h8v5h-8zM1399 784h8v5h-8zM1403 780h8v5h-8zM1407 776h8v5h-8zM1411 768h8v9h-8zM1415 765h8v5h-8zM1419 761h8v5h-8zM1424 756h8v5h-8zM1428 748h8v9h-8zM1432 745h8v5h-8zM1436 741h8v5h-8zM1440 737h8v5h-8zM1445 728h8v9h-8zM1449 724h8v5h-8zM1453 720h8v5h-8zM1457 712h8v9h-8zM1461 708h8v5h-8zM1465 704h8v5h-8zM1469 696h8v9h-8zM1474 691h8v5h-8zM1478 687h8v5h-8zM1482 679h8v9h-8zM1486 675h8v5h-8zM1490 667h8v9h-8zM1495 662h8v5h-8zM1499 658h8v5h-8zM1503 650h8v9h-8zM1507 646h8v5h-8zM1511 638h8v9h-8zM1515 634h8v5h-8zM1519 626h8v9h-8zM1524 621h8v5h-8zM1528 613h8v9h-8zM1532 609h8v5h-8zM1536 601h8v9h-8zM1540 597h8v5h-8zM1545 588h8v9h-8zM1549 580h8v9h-8zM1553 576h8v5h-8zM1557 568h8v9h-8zM1561 564h8v5h-8zM1565 556h8v9h-8zM1569 552h8v5h-8zM1574 543h8v9h-8zM1578 535h8v9h-8zM1582 531h8v5h-8zM1586 523h8v9h-8zM1590 519h8v5h-8zM1595 510h8v9h-8zM1599 502h8v9h-8zM1603 498h8v5h-8zM1607 490h8v9h-8zM1611 486h8v5h-8zM1615 478h8v9h-8zM1619 474h8v5h-8zM1624 465h8v9h-8zM1628 457h8v9h-8zM1632 453h8v5h-8zM1636 445h8v9h-8zM1640 437h8v9h-8zM1645 432h8v5h-8zM1649 424h8v9h-8zM1653 420h8v5h-8zM1657 412h8v9h-8zM1661 408h8v5h-8zM1665 400h8v9h-8zM1669 392h8v9h-8zM1674 387h8v5h-8zM1678 379h8v9h-8zM1682 375h8v5h-8zM1686 367h8v9h-8zM1690 363h8v5h-8zM1695 354h8v9h-8zM1699 350h8v5h-8zM1703 342h8v9h-8zM1707 338h8v5h-8zM1711 330h8v9h-8zM1715 326h8v5h-8zM1719 318h8v9h-8zM1724 313h8v5h-8zM1728 309h8v5h-8zM1732 301h8v9h-8zM1736 297h8v5h-8zM1740 289h8v9h-8zM1745 284h8v5h-8zM1749 280h8v5h-8zM1753 272h8v9h-8zM1757 268h8v5h-8zM1761 264h8v5h-8zM1765 256h8v9h-8zM1769 253h8v5h-8zM1774 248h8v5h-8zM1778 240h8v9h-8zM1782 236h8v5h-8zM1786 232h8v5h-8zM1790 228h8v5h-8zM1795 219h8v9h-8zM1799 216h8v5h-8zM1803 212h8v5h-8zM1807 208h8v5h-8zM1811 204h8v5h-8zM1815 196h8v9h-8zM1819 193h8v5h-8zM1824 188h8v5h-8zM1828 184h8v5h-8zM1832 180h8v5h-8zM1836 176h8v5h-8zM1840 172h8v5h-8zM1845 167h8v5h-8zM1849 163h8v5h-8zM1853 159h8v5h-8zM1857 155h8v5h-8zM1861 151h8v5h-8zM1865 147h8v5h-8zM1869 143h8v5h-8zM1874 139h8v5h-8zM1878 135h8v5h-8zM1882 132h8v5h-8zM1886 128h8v5h-8zM1890 125h8v5h-8zM1895 121h8v5h-8zM1899 118h8v5h-8zM1903 114h8v5h-8zM1907 111h8v5h-8zM1911 108h8v5h-8zM1915 105h8v5h-8zM1920 101h8v5h-8zM1924 98h8v5h-8zM1928 96h8v5h-8zM1932 93h8v5h-8zM1936 90h8v5h-8zM1940 87h8v5h-8zM1945 84h8v5h-8z" fill="#ff0000"/>
<path d="M453 1020h4v1h-4zM457 1020h4v1h-4zM461 1020h4v1h-4zM465 1020h4v1h-4zM469 1020h5v1h-5zM474 1020h4v1h-4zM478 1020h4v1h-4zM482 1020h4v1h-4zM486 1020h4v1h-4zM490 1020h5v1h-5zM495 1020h4v1h-4zM499 1020h4v1h-4zM503 1020h4v1h-4zM507 1020h4v1h-4zM511 1020h4v1h-4zM515 1020h5v1h-5zM520 1020h4v1h-4zM524 1020h4v1h-4zM528 1020h4v1h-4zM532 1020h4v1h-4zM536 1020h4v1h-4zM540 1020h5v1h-5zM545 1020h4v1h-4zM549 1020h4v1h-4zM553 1020h4v1h-4zM561 1020h4v1h-4zM565 1020h4v1h-4zM569 1020h5v1h-5zM574 1020h4v1h-4zM578 1020h4v1h-4zM582 1020h4v1h-4zM586 1020h4v1h-4zM590 1020h5v1h-5zM595 1020h4v1h-4zM599 1020h4v1h-4zM603 1020h4v1h-4zM607 1020h4v1h-4zM611 1020h4v1h-4zM615 1020h4v1h-4zM619 1020h5v1h-5zM628 1020h4v1h-4zM632 1020h4v1h-4zM636 1020h4v1h-4zM640 1020h5v1h-5zM645 1020h4v1h-4zM649 1020h4v1h-4zM653 1020h4v1h-4zM657 1020h4v1h-4zM661 1020h4v1h-4zM665 1020h4v1h-4zM674 1020h4v1h-4zM678 1020h4v1h-4zM682 1020h4v1h-4zM686 1020h4v1h-4zM690 1020h5v1h-5zM695 1020h4v1h-4zM699 1020h4v1h-4zM703 1020h4v1h-4zM711 1020h4v1h-4zM715 1020h5v1h-5zM720 1020h4v1h-4zM724 1020h4v1h-4zM728 1020h4v1h-4zM732 1020h4v1h-4zM736 1020h4v1h-4zM811 1012h4v1h-4zM815 1012h4v1h-4zM819 1012h5v1h-5zM828 1012h4v1h-4zM832 1012h4v1h-4zM836 1012h4v1h-4zM845 1012h4v1h-4zM849 1012h4v1h-4zM857 1012h4v1h-4zM861 1012h4v1h-4zM865 1012h4v1h-4zM874 1012h4v1h-4zM878 1012h4v1h-4zM919 1004h5v1h-5zM928 1004h4v1h-4zM936 1004h4v1h-4zM945 1004h4v1h-4zM953 1004h4v1h-4zM982 996h4v1h-4zM995 996h4v1h-4zM1007 996h4v1h-4zM1045 988h4v1h-4zM1334 852h6v1h-6zM1343 844h5v1h-5zM1352 836h5v1h-5zM1360 828h5v1h-5zM1368 820h5v1h-5zM1376 812h6v1h-6zM1384 804h6v1h-6zM1392 796h6v1h-6zM1400 788h7v1h-7zM1408 780h7v1h-7zM1421 764h6v1h-6zM1434 748h6v1h-6zM1442 740h6v1h-6zM1446 732h7v1h-7zM1454 724h7v1h-7zM1458 716h7v1h-7zM1466 708h7v1h-7zM1470 700h7v1h-7zM1482 684h8v1h-8zM1494 668h4v1h-4zM1502 660h5v1h-5zM1506 652h5v1h-5zM1511 644h8v1h-8zM1518 636h5v1h-5zM1522 628h5v1h-5zM1528 620h8v1h-8zM1534 612h6v1h-6zM1538 604h6v1h-6zM1545 596h8v1h-8zM1549 588h8v1h-8zM1554 580h7v1h-7zM1558 572h7v1h-7zM1565 564h8v1h-8zM1570 556h7v1h-7zM1574 548h8v1h-8zM1578 540h8v1h-8zM1595 516h8v1h-8zM1599 508h8v1h-8zM1606 500h5v1h-5zM1610 492h5v1h-5zM1615 484h8v1h-8zM1622 476h5v1h-5zM1626 468h6v1h-6zM1630 460h6v1h-6zM1636 452h8v1h-8zM1640 444h8v1h-8zM1646 436h7v1h-7zM1650 428h7v1h-7zM1657 420h8v1h-8zM1662 412h7v1h-7zM1666 404h7v1h-7zM1670 396h7v1h-7zM1686 372h8v1h-8zM1694 364h4v1h-4zM1698 356h5v1h-5zM1703 348h8v1h-8zM1710 340h5v1h-5zM1714 332h5v1h-5zM1719 324h8v1h-8zM1726 316h6v1h-6zM1732 308h8v1h-8zM1738 300h6v1h-6zM1742 292h6v1h-6zM1750 284h7v1h-7zM1754 276h7v1h-7zM1762 268h7v1h-7zM1775 252h7v1h-7zM1779 244h7v1h-7zM1787 236h7v1h-7zM1800 220h7v1h-7zM1808 212h7v1h-7zM1821 196h6v1h-6zM1829 188h7v1h-7zM1837 180h7v1h-7zM1945 84h8v1h-8z" fill="#fff"/>
<path d="M307 1021h9v5h-9zM311 1021h9v5h-9zM315 1021h9v5h-9zM319 1021h10v5h-10zM324 1021h9v5h-9zM328 1021h9v5h-9zM332 1021h9v5h-9zM336 1021h9v5h-9zM340 1021h10v5h-10zM345 1021h9v5h-9zM349 1021h9v5h-9zM353 1021h9v5h-9zM357 1021h9v5h-9zM361 1021h9v5h-9zM365 1021h10v5h-10zM370 1021h9v5h-9zM374 1021h9v5h-9zM378 1021h9v5h-9zM382 1021h9v5h-9zM386 1021h9v5h-9zM390 1021h10v5h-10zM395 1021h9v5h-9zM399 1021h9v5h-9zM403 1021h9v5h-9zM407 1021h9v5h-9zM411 1021h9v5h-9zM415 1021h10v5h-10zM420 1021h9v5h-9zM424 1021h9v5h-9zM428 1021h9v5h-9zM432 1021h9v5h-9zM436 1021h9v5h-9zM440 1021h10v5h-10zM445 1021h9v5h-9zM449 1021l4 -1h5v5l-4 1h-5zM453 1020h9v5h-9zM457 1020h9v5h-9zM461 1020h9v5h-9zM465 1020h9v5h-9zM469 1020h10v5h-10zM474 1020h9v5h-9zM478 1020h9v5h-9zM482 1020h9v5h-9zM486 1020h9v5h-9zM490 1020h10v5h-10zM495 1020h9v5h-9zM499 1020h9v5h-9zM503 1020h9v5h-9zM507 1020h9v5h-9zM511 1020h9v5h-9zM515 1020h10v5h-10zM520 1020h9v5h-9zM524 1020h9v5h-9zM528 1020h9v5h-9zM532 1020h9v5h-9zM536 1020h9v5h-9zM540 1020h10v5h-10zM545 1020h9v5h-9zM549 1020h9v5h-9zM553 1020h9v5h-9zM557 1020l4 -1h5v5l-4 1h-5zM561 1019h9v5h-9zM565 1019h9v5h-9zM569 1019h10v5h-10zM574 1019h9v5h-9zM578 1019h9v5h-9zM582 1019h9v5h-9zM586 1019h9v5h-9zM590 1019h10v5h-10zM595 1019h9v5h-9zM599 1019h9v5h-9zM603 1019h9v5h-9zM607 1019h9v5h-9zM611 1019h9v5h-9zM615 1019h9v5h-9zM619 1019h10v5h-10zM624 1019l4 -1h5v5l-4 1h-5zM628 1018h9v5h-9zM632 1018h9v5h-9zM636 1018h9v5h-9zM640 1018h10v5h-10zM645 1018h9v5h-9zM649 1018h9v5h-9zM653 1018h9v5h-9zM657 1018h9v5h-9zM661 1018h9v5h-9zM665 1018h9v5h-9zM669 1018l5 -1h5v5l-5 1h-5zM674 1017h9v5h-9zM678 1017h9v5h-9zM682 1017h9v5h-9zM686 1017h9v5h-9zM690 1017h10v5h-10zM695 1017h9v5h-9zM699 1017h9v5h-9zM703 1017h9v5h-9zM707 1017l4 -1h5v5l-4 1h-5zM711 1016h9v5h-9zM715 1016h10v5h-10zM720 1016h9v5h-9zM724 1016h9v5h-9zM728 1016h9v5h-9zM732 1016h9v5h-9zM736 1016h9v5h-9zM740 1016l5 -1h5v5l-5 1h-5zM745 1015h9v5h-9zM749 1015h9v5h-9zM753 1015h9v5h-9zM757 1015h9v5h-9zM761 1015h9v5h-9zM765 1015l5 -1h5v5l-5 1h-5zM770 1014h9v5h-9zM774 1014h9v5h-9zM778 1014h9v5h-9zM782 1014h9v5h-9zM786 1014l4 -1h5v5l-4 1h-5zM790 1013h10v5h-10zM795 1013h9v5h-9zM799 1013h9v5h-9zM803 1013h9v5h-9zM807 1013l4 -1h5v5l-4 1h-5zM811 1012h9v5h-9zM815 1012h9v5h-9zM819 1012h10v5h-10zM824 1012l4 -1h5v5l-4 1h-5zM828 1011h9v5h-9zM832 1011h9v5h-9zM836 1011h9v5h-9zM840 1011l5 -1h5v5l-5 1h-5zM845 1010h9v5h-9zM849 1010h9v5h-9zM853 1010l4 -1h5v5l-4 1h-5zM857 1009h9v5h-9zM861 1009h9v5h-9zM865 1009h9v5h-9zM869 1009l5 -1h5v5l-5 1h-5zM874 1008h9v5h-9zM878 1008h9v5h-9zM882 1008l4 -1h5v5l-4 1h-5zM886 1007h9v5h-9zM890 1007l5 -1h5v5l-5 1h-5zM895 1006h9v5h-9zM899 1006h9v5h-9zM903 1006l4 -1h5v5l-4 1h-5zM907 1005h9v5h-9zM911 1005h9v5h-9zM915 1005l4 -1h5v5l-4 1h-5zM919 1004h10v5h-10zM924 1004l4 -1h5v5l-4 1h-5zM928 1003h9v5h-9zM932 1003l4 -1h5v5l-4 1h-5zM936 1002h9v5h-9zM940 1002l5 -1h5v5l-5 1h-5zM945 1001h9v5h-9zM949 1001l4 -1h5v5l-4 1h-5zM953 1000h9v5h-9zM957 1000l4 -1h5v5l-4 1h-5zM961 999h9v5h-9zM965 999l4 -1h5v5l-4 1h-5zM969 998h10v5h-10zM974 998l4 -1h5v5l-4 1h-5zM978 997l4 -1h5v5l-4 1h-5zM982 996h9v5h-9zM986 996l4 -1h5v5l-4 1h-5zM990 995l5 -1h5v5l-5 1h-5zM995 994h9v5h-9zM999 994l4 -1h5v5l-4 1h-5zM1003 993l4 -1h5v5l-4 1h-5zM1007 992h9v5h-9zM1011 992l4 -1h5v5l-4 1h-5zM1015 991l4 -1h5v5l-4 1h-5zM1019 990l5 -1h5v5l-5 1h-5zM1024 989h9v5h-9zM1028 989l4 -1h5v5l-4 1h-5zM1032 988l4 -1h5v5l-4 1h-5zM1036 987l4 -1h5v5l-4 1h-5zM1040 986l5 -1h5v5l-5 1h-5zM1045 985h9v5h-9zM1049 985l4 -1h5v5l-4 1h-5zM1053 984l4 -1h5v5l-4 1h-5zM1057 983l4 -1h5v5l-4 1h-5zM1061 982l4 -1h5v5l-4 1h-5zM1065 981l4 -1h5v5l-4 1h-5zM1069 980l5 -1h5v5l-5 1h-5zM1074 979l4 -1h5v5l-4 1h-5zM1078 978l4 -1h5v5l-4 1h-5zM1082 977l4 -1h5v5l-4 1h-5zM1086 976l4 -1h5v5l-4 1h-5zM1090 975l5 -2h5v5l-5 2h-5zM1095 973l4 -1h5v5l-4 1h-5zM1099 972l4 -1h5v5l-4 1h-5zM1103 971l4 -1h5v5l-4 1h-5zM1107 970l4 -1h5v5l-4 1h-5zM1111 969l4 -1h5v5l-4 1h-5zM1115 968l5 -2h5v5l-5 2h-5zM1120 966l4 -1h5v5l-4 1h-5zM1124 965l4 -1h5v5l-4 1h-5zM1128 964l4 -2h5v5l-4 2h-5zM1132 962l4 -1h5v5l-4 1h-5zM1136 961l4 -1h5v5l-4 1h-5zM1140 960l5 -2h5v5l-5 2h-5zM1145 958l4 -2h5v5l-4 2h-5zM1149 956l4 -1h5v5l-4 1h-5zM1153 955l4 -2h5v5l-4 2h-5zM1157 953l4 -1h5v5l-4 1h-5zM1161 952l4 -2h5v5l-4 2h-5zM1165 950l5 -2h5v5l-5 2h-5zM1170 948l4 -1h5v5l-4 1h-5zM1174 947l4 -2h5v5l-4 2h-5zM1178 945l4 -2h5v5l-4 2h-5zM1182 943l4 -2h5v5l-4 2h-5zM1186 941l4 -1h5v5l-4 1h-5zM1190 940l5 -3h5v5l-5 3h-5zM1195 937l4 -1h5v5l-4 1h-5zM1199 936l4 -2h5v5l-4 2h-5zM1203 934l4 -2h5v5l-4 2h-5zM1207 932l4 -2h5v5l-4 2h-5zM1211 930l4 -2h5v5l-4 2h-5zM1215 928l5 -3h5v5l-5 3h-5zM1220 925l4 -2h5v5l-4 2h-5zM1224 923l4 -2h5v5l-4 2h-5zM1228 921l4 -2h5v5l-4 2h-5zM1232 919l4 -3h5v5l-4 3h-5zM1236 916l4 -2h5v5l-4 2h-5zM1240 914l5 -3h5v5l-5 3h-5zM1245 911l4 -2h5v5l-4 2h-5zM1249 909l4 -3h5v5l-4 3h-5zM1253 906l4 -2h5v5l-4 2h-5zM1257 904l4 -2h5v5l-4 2h-5zM1261 902l4 -3h5v5l-4 3h-5zM1265 899l5 -3h5v5l-5 3h-5zM1270 896l4 -3h5v5l-4 3h-5zM1274 893l4 -3h5v5l-4 3h-5zM1278 890l4 -2h5v5l-4 2h-5zM1282 888l4 -3h5v5l-4 3h-5zM1286 885l4 -3h5v5l-4 3h-5zM1290 882l5 -4h5v5l-5 4h-5zM1295 878l4 -3h5v5l-4 3h-5zM1299 875l4 -3h5v5l-4 3h-5zM1303 872l4 -3h5v5l-4 3h-5zM1307 869l4 -3h5v5l-4 3h-5zM1311 866l4 -3h5v5l-4 3h-5zM1315 863l5 -4h5v5l-5 4h-5zM1320 859l4 -4h5v5l-4 4h-5zM1324 855l4 -3h5v5l-4 3h-5zM1328 852l4 -3h5v5l-4 3h-5zM1332 849l4 -4h5v5l-4 4h-5zM1336 845l4 -3h5v5l-4 3h-5zM1340 842l5 -5h5v5l-5 5h-5zM1345 837l4 -3h5v5l-4 3h-5zM1349 834l4 -4h5v5l-4 4h-5zM1353 830l4 -4h5v5l-4 4h-5zM1357 826l4 -4h5v5l-4 4h-5zM1361 822l4 -4h5v5l-4 4h-5zM1365 818l4 -4h5v5l-4 4h-5zM1369 814l5 -5h5v5l-5 5h-5zM1374 809l4 -4h5v5l-4 4h-5zM1378 805l4 -4h5v5l-4 4h-5zM1382 801l4 -4h5v5l-4 4h-5zM1386 797l4 -4h5v5l-4 4h-5zM1390 793l5 -5h5v5l-5 5h-5zM1395 788l4 -4h5v5l-4 4h-5zM1399 784l4 -4h5v5l-4 4h-5zM1403 780l4 -4h5v5l-4 4h-5zM1407 776l4 -4h5v5l-4 4h-5zM1411 768l4 -3h5v5l-4 3h-5zM1415 765l4 -4h5v5l-4 4h-5zM1419 761l5 -5h5v5l-5 5h-5zM1424 756l4 -4h5v5l-4 4h-5zM1428 748l4 -3h5v5l-4 3h-5zM1432 745l4 -4h5v5l-4 4h-5zM1436 741l4 -4h5v5l-4 4h-5zM1440 737l5 -5h5v5l-5 5h-5zM1445 728l4 -4h5v5l-4 4h-5zM1449 724l4 -4h5v5l-4 4h-5zM1453 720l4 -4h5v5l-4 4h-5zM1457 712l4 -4h5v5l-4 4h-5zM1461 708l4 -4h5v5l-4 4h-5zM1465 704l4 -4h5v5l-4 4h-5zM1469 696l5 -5h5v5l-5 5h-5zM1474 691l4 -4h5v5l-4 4h-5zM1478 687l4 -4h5v5l-4 4h-5zM1482 679l4 -4h5v5l-4 4h-5zM1486 675l4 -4h5v5l-4 4h-5zM1490 667l5 -5h5v5l-5 5h-5zM1495 662l4 -4h5v5l-4 4h-5zM1499 658l4 -4h5v5l-4 4h-5zM1503 650l4 -4h5v5l-4 4h-5zM1507 646l4 -4h5v5l-4 4h-5zM1511 638l4 -4h5v5l-4 4h-5zM1515 634l4 -4h5v5l-4 4h-5zM1519 626l5 -5h5v5l-5 5h-5zM1524 621l4 -4h5v5l-4 4h-5zM1528 613l4 -4h5v5l-4 4h-5zM1532 609l4 -4h5v5l-4 4h-5zM1536 601l4 -4h5v5l-4 4h-5zM1540 597l5 -5h5v5l-5 5h-5zM1545 588l4 -4h5v5l-4 4h-5zM1549 580l4 -4h5v5l-4 4h-5zM1553 576l4 -4h5v5l-4 4h-5zM1557 568l4 -4h5v5l-4 4h-5zM1561 564l4 -4h5v5l-4 4h-5zM1565 556l4 -4h5v5l-4 4h-5zM1569 552l5 -5h5v5l-5 5h-5zM1574 543l4 -4h5v5l-4 4h-5zM1578 535l4 -4h5v5l-4 4h-5zM1582 531l4 -4h5v5l-4 4h-5zM1586 523l4 -4h5v5l-4 4h-5zM1590 519l5 -5h5v5l-5 5h-5zM1595 510l4 -4h5v5l-4 4h-5zM1599 502l4 -4h5v5l-4 4h-5zM1603 498l4 -4h5v5l-4 4h-5zM1607 490l4 -4h5v5l-4 4h-5zM1611 486l4 -4h5v5l-4 4h-5zM1615 478l4 -4h5v5l-4 4h-5zM1619 474l5 -5h5v5l-5 5h-5zM1624 465l4 -4h5v5l-4 4h-5zM1628 457l4 -4h5v5l-4 4h-5zM1632 453l4 -4h5v5l-4 4h-5zM1636 445l4 -4h5v5l-4 4h-5zM1640 437l5 -5h5v5l-5 5h-5zM1645 432l4 -4h5v5l-4 4h-5zM1649 424l4 -4h5v5l-4 4h-5zM1653 420l4 -4h5v5l-4 4h-5zM1657 412l4 -4h5v5l-4 4h-5zM1661 408l4 -4h5v5l-4 4h-5zM1665 400l4 -4h5v5l-4 4h-5zM1669 392l5 -5h5v5l-5 5h-5zM1674 387l4 -4h5v5l-4 4h-5zM1678 379l4 -4h5v5l-4 4h-5zM1682 375l4 -4h5v5l-4 4h-5zM1686 367l4 -4h5v5l-4 4h-5zM1690 363l5 -5h5v5l-5 5h-5zM1695 354l4 -4h5v5l-4 4h-5zM1699 350l4 -4h5v5l-4 4h-5zM1703 342l4 -4h5v5l-4 4h-5zM1707 338l4 -4h5v5l-4 4h-5zM1711 330l4 -4h5v5l-4 4h-5zM1715 326l4 -4h5v5l-4 4h-5zM1719 318l5 -5h5v5l-5 5h-5zM1724 313l4 -4h5v5l-4 4h-5zM1728 309l4 -4h5v5l-4 4h-5zM1732 301l4 -4h5v5l-4 4h-5zM1736 297l4 -4h5v5l-4 4h-5zM1740 289l5 -5h5v5l-5 5h-5zM1745 284l4 -4h5v5l-4 4h-5zM1749 280l4 -4h5v5l-4 4h-5zM1753 272l4 -4h5v5l-4 4h-5zM1757 268l4 -4h5v5l-4 4h-5zM1761 264l4 -4h5v5l-4 4h-5zM1765 256l4 -3h5v5l-4 3h-5zM1769 253l5 -5h5v5l-5 5h-5zM1774 248l4 -4h5v5l-4 4h-5zM1778 240l4 -4h5v5l-4 4h-5zM1782 236l4 -4h5v5l-4 4h-5zM1786 232l4 -4h5v5l-4 4h-5zM1790 228l5 -5h5v5l-5 5h-5zM1795 219l4 -3h5v5l-4 3h-5zM1799 216l4 -4h5v5l-4 4h-5zM1803 212l4 -4h5v5l-4 4h-5zM1807 208l4 -4h5v5l-4 4h-5zM1811 204l4 -4h5v5l-4 4h-5zM1815 196l4 -3h5v5l-4 3h-5zM1819 193l5 -5h5v5l-5 5h-5zM1824 188l4 -4h5v5l-4 4h-5zM1828 184l4 -4h5v5l-4 4h-5zM1832 180l4 -4h5v5l-4 4h-5zM1836 176l4 -4h5v5l-4 4h-5zM1840 172l5 -5h5v5l-5 5h-5zM1845 167l4 -4h5v5l-4 4h-5zM1849 163l4 -4h5v5l-4 4h-5zM1853 159l4 -4h5v5l-4 4h-5zM1857 155l4 -4h5v5l-4 4h-5zM1861 151l4 -4h5v5l-4 4h-5zM1865 147l4 -4h5v5l-4 4h-5zM1869 143l5 -4h5v5l-5 4h-5zM1874 139l4 -4h5v5l-4 4h-5zM1878 135l4 -3h5v5l-4 3h-5zM1882 132l4 -4h5v5l-4 4h-5zM1886 128l4 -3h5v5l-4 3h-5zM1890 125l5 -4h5v5l-5 4h-5zM1895 121l4 -3h5v5l-4 3h-5zM1899 118l4 -4h5v5l-4 4h-5zM1903 114l4 -3h5v5l-4 3h-5zM1907 111l4 -3h5v5l-4 3h-5zM1911 108l4 -3h5v5l-4 3h-5zM1915 105l5 -4h5v5l-5 4h-5zM1920 101l4 -3h5v5l-4 3h-5zM1924 98l4 -2h5v5l-4 2h-5zM1928 96l4 -3h5v5l-4 3h-5zM1932 93l4 -3h5v5l-4 3h-5zM1936 90l4 -3h5v5l-4 3h-5zM1940 87l5 -3h5v5l-5 3h-5z" fill="#ff0000"/>
</g>
<path fill="url(#hred)" fill-rule="evenodd" shape-rendering="crispEdges" d="M1853 133h33v33h-33zM1858 138h23v23h-23z"/>
<path fill="url(#hred)" fill-rule="evenodd" shape-rendering="crispEdges" d="M1713 285h33v33h-33zM1718 290h23v23h-23z"/>
<path fill="url(#hred)" fill-rule="evenodd" shape-rendering="crispEdges" d="M1569 514h33v33h-33zM1574 519h23v23h-23z"/>
<path fill="url(#hred)" fill-rule="evenodd" shape-rendering="crispEdges" d="M1429 734h33v33h-33zM1434 739h23v23h-23z"/>
<path fill="url(#hred)" fill-rule="evenodd" shape-rendering="crispEdges" d="M1284 845h33v33h-33zM1289 850h23v23h-23z"/>
<path fill="url(#hred)" fill-rule="evenodd" shape-rendering="crispEdges" d="M1140 943h33v33h-33zM1145 948h23v23h-23z"/>
<path fill="url(#hred)" fill-rule="evenodd" shape-rendering="crispEdges" d="M1000 967h33v33h-33zM1005 972h23v23h-23z"/>
<path fill="url(#hred)" fill-rule="evenodd" shape-rendering="crispEdges" d="M856 998h33v33h-33zM861 1003h23v23h-23z"/>
<path fill="url(#hred)" fill-rule="evenodd" shape-rendering="crispEdges" d="M715 1002h33v33h-33zM720 1007h23v23h-23z"/>
<path fill="url(#hred)" fill-rule="evenodd" shape-rendering="crispEdges" d="M571 1014h33v33h-33zM576 1019h23v23h-23z"/>
</g>
<g>
<g clip-path="url(#cp)" shape-rendering="crispEdges">
<path d="M307 1027h8v5h-8zM311 1027h8v5h-8zM315 1027h8v5h-8zM319 1027h8v5h-8zM324 1027h8v5h-8zM328 1027h8v5h-8zM332 1027h8v5h-8zM336 1027h8v5h-8zM340 1027h8v5h-8zM345 1027h8v5h-8zM349 1027h8v5h-8zM353 1027h8v5h-8zM357 1027h8v5h-8zM361 1027h8v5h-8zM365 1027h8v5h-8zM370 1027h8v5h-8zM374 1027h8v5h-8zM378 1027h8v5h-8zM382 1027h8v5h-8zM386 1027h8v5h-8zM390 1027h8v5h-8zM395 1026h8v5h-8zM399 1026h8v5h-8zM403 1026h8v5h-8zM407 1026h8v5h-8zM411 1026h8v5h-8zM415 1026h8v5h-8zM420 1026h8v5h-8zM424 1026h8v5h-8zM428 1026h8v5h-8zM432 1026h8v5h-8zM436 1026h8v5h-8zM440 1026h8v5h-8zM445 1026h8v5h-8zM449 1026h8v5h-8zM453 1026h8v5h-8zM457 1026h8v5h-8zM461 1026h8v5h-8zM465 1026h8v5h-8zM469 1026h8v5h-8zM474 1026h8v5h-8zM478 1026h8v5h-8zM482 1026h8v5h-8zM486 1026h8v5h-8zM490 1026h8v5h-8zM495 1026h8v5h-8zM499 1026h8v5h-8zM503 1026h8v5h-8zM507 1026h8v5h-8zM511 1026h8v5h-8zM515 1026h8v5h-8zM520 1026h8v5h-8zM524 1025h8v5h-8zM528 1025h8v5h-8zM532 1025h8v5h-8zM536 1025h8v5h-8zM540 1025h8v5h-8zM545 1025h8v5h-8zM549 1025h8v5h-8zM553 1025h8v5h-8zM557 1025h8v5h-8zM561 1025h8v5h-8zM565 1025h8v5h-8zM569 1025h8v5h-8zM574 1025h8v5h-8zM578 1025h8v5h-8zM582 1025h8v5h-8zM586 1025h8v5h-8zM590 1025h8v5h-8zM595 1025h8v5h-8zM599 1024h8v5h-8zM603 1024h8v5h-8zM607 1024h8v5h-8zM611 1024h8v5h-8zM615 1024h8v5h-8zM619 1024h8v5h-8zM624 1024h8v5h-8zM628 1024h8v5h-8zM632 1024h8v5h-8zM636 1024h8v5h-8zM640 1024h8v5h-8zM645 1024h8v5h-8zM649 1024h8v5h-8zM653 1023h8v5h-8zM657 1023h8v5h-8zM661 1023h8v5h-8zM665 1023h8v5h-8zM669 1023h8v5h-8zM674 1023h8v5h-8zM678 1023h8v5h-8zM682 1023h8v5h-8zM686 1023h8v5h-8zM690 1023h8v5h-8zM695 1022h8v5h-8zM699 1022h8v5h-8zM703 1022h8v5h-8zM707 1022h8v5h-8zM711 1022h8v5h-8zM715 1022h8v5h-8zM720 1022h8v5h-8zM724 1021h8v5h-8zM728 1021h8v5h-8zM732 1021h8v5h-8zM736 1021h8v5h-8zM740 1021h8v5h-8zM745 1021h8v5h-8zM749 1021h8v5h-8zM753 1020h8v5h-8zM757 1020h8v5h-8zM761 1020h8v5h-8zM765 1020h8v5h-8zM770 1020h8v5h-8zM774 1020h8v5h-8zM778 1019h8v5h-8zM782 1019h8v5h-8zM786 1019h8v5h-8zM790 1019h8v5h-8zM795 1019h8v5h-8zM799 1018h8v5h-8zM803 1018h8v5h-8zM807 1018h8v5h-8zM811 1018h8v5h-8zM815 1018h8v5h-8zM819 1017h8v5h-8zM824 1017h8v5h-8zM828 1017h8v5h-8zM832 1017h8v5h-8zM836 1016h8v5h-8zM840 1016h8v5h-8zM845 1016h8v5h-8zM849 1016h8v5h-8zM853 1015h8v5h-8zM857 1015h8v5h-8zM861 1015h8v5h-8zM865 1014h8v5h-8zM869 1014h8v5h-8zM874 1014h8v5h-8zM878 1013h8v5h-8zM882 1013h8v5h-8zM886 1013h8v5h-8zM890 1012h8v5h-8zM895 1012h8v5h-8zM899 1012h8v5h-8zM903 1011h8v5h-8zM907 1011h8v5h-8zM911 1011h8v5h-8zM915 1010h8v5h-8zM919 1010h8v5h-8zM924 1009h8v5h-8zM928 1009h8v5h-8zM932 1009h8v5h-8zM936 1008h8v5h-8zM940 1008h8v5h-8zM945 1007h8v5h-8zM949 1007h8v5h-8zM953 1006h8v5h-8zM957 1006h8v5h-8zM961 1005h8v5h-8zM965 1005h8v5h-8zM969 1004h8v5h-8zM974 1004h8v5h-8zM978 1003h8v5h-8zM982 1003h8v5h-8zM986 1002h8v5h-8zM990 1001h8v5h-8zM995 1001h8v5h-8zM999 1000h8v5h-8zM1003 1000h8v5h-8zM1007 999h8v5h-8zM1011 998h8v5h-8zM1015 998h8v5h-8zM1019 997h8v5h-8zM1024 996h8v5h-8zM1028 995h8v5h-8zM1032 995h8v5h-8zM1036 994h8v5h-8zM1040 993h8v5h-8zM1045 992h8v5h-8zM1049 992h8v5h-8zM1053 991h8v5h-8zM1057 990h8v5h-8zM1061 989h8v5h-8zM1065 988h8v5h-8zM1069 987h8v5h-8zM1074 986h8v5h-8zM1078 985h8v5h-8zM1082 985h8v5h-8zM1086 984h8v5h-8zM1090 983h8v5h-8zM1095 981h8v5h-8zM1099 980h8v5h-8zM1103 979h8v5h-8zM1107 978h8v5h-8zM1111 977h8v5h-8zM1115 976h8v5h-8zM1120 975h8v5h-8zM1124 974h8v5h-8zM1128 973h8v5h-8zM1132 971h8v5h-8zM1136 970h8v5h-8zM1140 969h8v5h-8zM1145 967h8v5h-8zM1149 966h8v5h-8zM1153 965h8v5h-8zM1157 963h8v5h-8zM1161 962h8v5h-8zM1165 961h8v5h-8zM1170 959h8v5h-8zM1174 957h8v5h-8zM1178 956h8v5h-8zM1182 954h8v5h-8zM1186 953h8v5h-8zM1190 951h8v5h-8zM1195 949h8v5h-8zM1199 948h8v5h-8zM1203 946h8v5h-8zM1207 944h8v5h-8zM1211 942h8v5h-8zM1215 941h8v5h-8zM1220 938h8v5h-8zM1224 937h8v5h-8zM1228 935h8v5h-8zM1232 933h8v5h-8zM1236 931h8v5h-8zM1240 929h8v5h-8zM1245 926h8v5h-8zM1249 924h8v5h-8zM1253 922h8v5h-8zM1257 920h8v5h-8zM1261 918h8v5h-8zM1265 915h8v5h-8zM1270 913h8v5h-8zM1274 910h8v5h-8zM1278 908h8v5h-8zM1282 905h8v5h-8zM1286 903h8v5h-8zM1290 900h8v5h-8zM1295 897h8v5h-8zM1299 895h8v5h-8zM1303 892h8v5h-8zM1307 889h8v5h-8zM1311 887h8v5h-8zM1315 884h8v5h-8zM1320 880h8v5h-8zM1324 877h8v5h-8zM1328 874h8v5h-8zM1332 871h8v5h-8zM1336 868h8v5h-8zM1340 865h8v5h-8zM1345 861h8v5h-8zM1349 858h8v5h-8zM1353 855h8v5h-8zM1357 852h8v5h-8zM1361 848h8v5h-8zM1365 845h8v5h-8zM1369 841h8v5h-8zM1374 837h8v5h-8zM1378 833h8v5h-8zM1382 830h8v5h-8zM1386 826h8v5h-8zM1390 822h8v5h-8zM1395 818h8v5h-8zM1399 814h8v5h-8zM1403 810h8v5h-8zM1407 806h8v5h-8zM1411 802h8v5h-8zM1415 798h8v5h-8zM1419 794h8v5h-8zM1424 789h8v5h-8zM1428 785h8v5h-8zM1432 781h8v5h-8zM1436 777h8v5h-8zM1440 773h8v5h-8zM1445 764h8v9h-8zM1449 761h8v5h-8zM1453 757h8v5h-8zM1457 753h8v5h-8zM1461 749h8v5h-8zM1465 741h8v9h-8zM1469 738h8v5h-8zM1474 733h8v5h-8zM1478 725h8v9h-8zM1482 722h8v5h-8zM1486 718h8v5h-8zM1490 710h8v9h-8zM1495 706h8v5h-8zM1499 702h8v5h-8zM1503 694h8v9h-8zM1507 690h8v5h-8zM1511 686h8v5h-8zM1515 678h8v9h-8zM1519 674h8v5h-8zM1524 669h8v5h-8zM1528 661h8v9h-8zM1532 657h8v5h-8zM1536 649h8v9h-8zM1540 645h8v5h-8zM1545 636h8v9h-8zM1549 632h8v5h-8zM1553 628h8v5h-8zM1557 620h8v9h-8zM1561 616h8v5h-8zM1565 608h8v9h-8zM1569 604h8v5h-8zM1574 595h8v9h-8zM1578 591h8v5h-8zM1582 583h8v9h-8zM1586 579h8v5h-8zM1590 571h8v9h-8zM1595 566h8v5h-8zM1599 558h8v9h-8zM1603 554h8v5h-8zM1607 546h8v9h-8zM1611 542h8v5h-8zM1615 534h8v9h-8zM1619 526h8v9h-8zM1624 521h8v5h-8zM1628 513h8v9h-8zM1632 509h8v5h-8zM1636 501h8v9h-8zM1640 497h8v5h-8zM1645 488h8v9h-8zM1649 480h8v9h-8zM1653 476h8v5h-8zM1657 468h8v9h-8zM1661 464h8v5h-8zM1665 456h8v9h-8zM1669 452h8v5h-8zM1674 443h8v9h-8zM1678 435h8v9h-8zM1682 431h8v5h-8zM1686 423h8v9h-8zM1690 419h8v5h-8zM1695 410h8v9h-8zM1699 402h8v9h-8zM1703 398h8v5h-8zM1707 390h8v9h-8zM1711 386h8v5h-8zM1715 378h8v9h-8zM1719 374h8v5h-8zM1724 365h8v9h-8zM1728 361h8v5h-8zM1732 353h8v9h-8zM1736 349h8v5h-8zM1740 341h8v9h-8zM1745 336h8v5h-8zM1749 328h8v9h-8zM1753 324h8v5h-8zM1757 316h8v9h-8zM1761 312h8v5h-8zM1765 308h8v5h-8zM1769 300h8v9h-8zM1774 295h8v5h-8zM1778 287h8v9h-8zM1782 283h8v5h-8zM1786 279h8v5h-8zM1790 271h8v9h-8zM1795 266h8v5h-8zM1799 258h8v9h-8zM1803 254h8v5h-8zM1807 250h8v5h-8zM1811 246h8v5h-8zM1815 238h8v9h-8zM1819 234h8v5h-8zM1824 229h8v5h-8zM1828 221h8v9h-8zM1832 218h8v5h-8zM1836 214h8v5h-8zM1840 210h8v5h-8zM1845 201h8v9h-8zM1849 197h8v5h-8zM1853 193h8v5h-8zM1857 189h8v5h-8zM1861 185h8v5h-8zM1865 181h8v5h-8zM1869 173h8v9h-8zM1874 169h8v5h-8zM1878 165h8v5h-8zM1882 161h8v5h-8zM1886 157h8v5h-8zM1890 153h8v5h-8zM1895 148h8v5h-8zM1899 144h8v5h-8zM1903 140h8v5h-8zM1907 136h8v5h-8zM1911 132h8v5h-8zM1915 128h8v5h-8zM1920 123h8v5h-8zM1924 119h8v5h-8zM1928 115h8v5h-8zM1932 112h8v5h-8zM1936 108h8v5h-8zM1940 105h8v5h-8zM1945 101h8v5h-8zM1949 97h8v5h-8zM1953 94h8v5h-8zM1957 91h8v5h-8zM1961 87h8v5h-8zM1965 84h8v5h-8z" fill="#008800"/>
<path d="M307 1028h4v1h-4zM311 1028h4v1h-4zM315 1028h4v1h-4zM319 1028h5v1h-5zM324 1028h4v1h-4zM328 1028h4v1h-4zM332 1028h4v1h-4zM336 1028h4v1h-4zM340 1028h5v1h-5zM345 1028h4v1h-4zM349 1028h4v1h-4zM353 1028h4v1h-4zM357 1028h4v1h-4zM361 1028h4v1h-4zM365 1028h5v1h-5zM370 1028h4v1h-4zM374 1028h4v1h-4zM378 1028h4v1h-4zM382 1028h4v1h-4zM386 1028h4v1h-4zM395 1028h4v1h-4zM399 1028h4v1h-4zM403 1028h4v1h-4zM407 1028h4v1h-4zM411 1028h4v1h-4zM415 1028h5v1h-5zM420 1028h4v1h-4zM424 1028h4v1h-4zM428 1028h4v1h-4zM432 1028h4v1h-4zM436 1028h4v1h-4zM440 1028h5v1h-5zM445 1028h4v1h-4zM449 1028h4v1h-4zM453 1028h4v1h-4zM457 1028h4v1h-4zM461 1028h4v1h-4zM465 1028h4v1h-4zM469 1028h5v1h-5zM474 1028h4v1h-4zM478 1028h4v1h-4zM482 1028h4v1h-4zM486 1028h4v1h-4zM490 1028h5v1h-5zM495 1028h4v1h-4zM499 1028h4v1h-4zM503 1028h4v1h-4zM507 1028h4v1h-4zM511 1028h4v1h-4zM515 1028h5v1h-5zM524 1028h4v1h-4zM528 1028h4v1h-4zM532 1028h4v1h-4zM536 1028h4v1h-4zM540 1028h5v1h-5zM545 1028h4v1h-4zM549 1028h4v1h-4zM553 1028h4v1h-4zM557 1028h4v1h-4zM561 1028h4v1h-4zM565 1028h4v1h-4zM569 1028h5v1h-5zM574 1028h4v1h-4zM578 1028h4v1h-4zM582 1028h4v1h-4zM586 1028h4v1h-4zM590 1028h5v1h-5zM599 1028h4v1h-4zM603 1028h4v1h-4zM607 1028h4v1h-4zM611 1028h4v1h-4zM615 1028h4v1h-4zM619 1028h5v1h-5zM624 1028h4v1h-4zM628 1028h4v1h-4zM632 1028h4v1h-4zM636 1028h4v1h-4zM640 1028h5v1h-5zM645 1028h4v1h-4zM753 1020h4v1h-4zM757 1020h4v1h-4zM761 1020h4v1h-4zM765 1020h5v1h-5zM770 1020h4v1h-4zM778 1020h4v1h-4zM782 1020h4v1h-4zM786 1020h4v1h-4zM790 1020h5v1h-5zM799 1020h4v1h-4zM803 1020h4v1h-4zM807 1020h4v1h-4zM811 1020h4v1h-4zM819 1020h5v1h-5zM824 1020h4v1h-4zM828 1020h4v1h-4zM836 1020h4v1h-4zM840 1020h5v1h-5zM845 1020h4v1h-4zM890 1012h5v1h-5zM895 1012h4v1h-4zM903 1012h4v1h-4zM907 1012h4v1h-4zM915 1012h4v1h-4zM924 1012h4v1h-4zM928 1012h4v1h-4zM936 1012h4v1h-4zM969 1004h5v1h-5zM978 1004h4v1h-4zM990 1004h5v1h-5zM999 1004h4v1h-4zM1028 996h4v1h-4zM1045 996h4v1h-4zM1078 988h4v1h-4zM1389 828h5v1h-5zM1398 820h5v1h-5zM1406 812h5v1h-5zM1414 804h5v1h-5zM1422 796h5v1h-5zM1430 788h6v1h-6zM1438 780h6v1h-6zM1451 764h6v1h-6zM1459 756h6v1h-6zM1472 740h5v1h-5zM1485 724h5v1h-5zM1498 708h5v1h-5zM1503 700h8v1h-8zM1510 692h5v1h-5zM1515 684h8v1h-8zM1522 676h5v1h-5zM1528 668h8v1h-8zM1534 660h6v1h-6zM1538 652h6v1h-6zM1545 644h8v1h-8zM1550 636h7v1h-7zM1557 628h8v1h-8zM1562 620h7v1h-7zM1566 612h7v1h-7zM1582 588h8v1h-8zM1594 572h4v1h-4zM1599 564h8v1h-8zM1606 556h5v1h-5zM1610 548h5v1h-5zM1615 540h8v1h-8zM1619 532h8v1h-8zM1626 524h6v1h-6zM1630 516h6v1h-6zM1636 508h8v1h-8zM1642 500h6v1h-6zM1646 492h7v1h-7zM1650 484h7v1h-7zM1657 476h8v1h-8zM1662 468h7v1h-7zM1666 460h7v1h-7zM1686 428h8v1h-8zM1694 420h4v1h-4zM1698 412h5v1h-5zM1702 404h5v1h-5zM1707 396h8v1h-8zM1714 388h5v1h-5zM1718 380h5v1h-5zM1724 372h8v1h-8zM1730 364h6v1h-6zM1734 356h6v1h-6zM1740 348h8v1h-8zM1746 340h7v1h-7zM1750 332h7v1h-7zM1757 324h8v1h-8zM1762 316h7v1h-7zM1769 308h8v1h-8zM1778 292h8v1h-8zM1790 276h8v1h-8zM1798 268h5v1h-5zM1802 260h5v1h-5zM1810 252h5v1h-5zM1815 244h8v1h-8zM1822 236h5v1h-5zM1835 220h5v1h-5zM1843 212h5v1h-5zM1847 204h6v1h-6zM1855 196h6v1h-6zM1863 188h6v1h-6zM1876 172h6v1h-6zM1884 164h6v1h-6zM1892 156h6v1h-6zM1900 148h7v1h-7zM1908 140h7v1h-7zM1916 132h7v1h-7zM1933 116h7v1h-7zM1965 84h8v1h-8z" fill="#fff"/>
<path d="M307 1027h9v5h-9zM311 1027h9v5h-9zM315 1027h9v5h-9zM319 1027h10v5h-10zM324 1027h9v5h-9zM328 1027h9v5h-9zM332 1027h9v5h-9zM336 1027h9v5h-9zM340 1027h10v5h-10zM345 1027h9v5h-9zM349 1027h9v5h-9zM353 1027h9v5h-9zM357 1027h9v5h-9zM361 1027h9v5h-9zM365 1027h10v5h-10zM370 1027h9v5h-9zM374 1027h9v5h-9zM378 1027h9v5h-9zM382 1027h9v5h-9zM386 1027h9v5h-9zM390 1027l5 -1h5v5l-5 1h-5zM395 1026h9v5h-9zM399 1026h9v5h-9zM403 1026h9v5h-9zM407 1026h9v5h-9zM411 1026h9v5h-9zM415 1026h10v5h-10zM420 1026h9v5h-9zM424 1026h9v5h-9zM428 1026h9v5h-9zM432 1026h9v5h-9zM436 1026h9v5h-9zM440 1026h10v5h-10zM445 1026h9v5h-9zM449 1026h9v5h-9zM453 1026h9v5h-9zM457 1026h9v5h-9zM461 1026h9v5h-9zM465 1026h9v5h-9zM469 1026h10v5h-10zM474 1026h9v5h-9zM478 1026h9v5h-9zM482 1026h9v5h-9zM486 1026h9v5h-9zM490 1026h10v5h-10zM495 1026h9v5h-9zM499 1026h9v5h-9zM503 1026h9v5h-9zM507 1026h9v5h-9zM511 1026h9v5h-9zM515 1026h10v5h-10zM520 1026l4 -1h5v5l-4 1h-5zM524 1025h9v5h-9zM528 1025h9v5h-9zM532 1025h9v5h-9zM536 1025h9v5h-9zM540 1025h10v5h-10zM545 1025h9v5h-9zM549 1025h9v5h-9zM553 1025h9v5h-9zM557 1025h9v5h-9zM561 1025h9v5h-9zM565 1025h9v5h-9zM569 1025h10v5h-10zM574 1025h9v5h-9zM578 1025h9v5h-9zM582 1025h9v5h-9zM586 1025h9v5h-9zM590 1025h10v5h-10zM595 1025l4 -1h5v5l-4 1h-5zM599 1024h9v5h-9zM603 1024h9v5h-9zM607 1024h9v5h-9zM611 1024h9v5h-9zM615 1024h9v5h-9zM619 1024h10v5h-10zM624 1024h9v5h-9zM628 1024h9v5h-9zM632 1024h9v5h-9zM636 1024h9v5h-9zM640 1024h10v5h-10zM645 1024h9v5h-9zM649 1024l4 -1h5v5l-4 1h-5zM653 1023h9v5h-9zM657 1023h9v5h-9zM661 1023h9v5h-9zM665 1023h9v5h-9zM669 1023h10v5h-10zM674 1023h9v5h-9zM678 1023h9v5h-9zM682 1023h9v5h-9zM686 1023h9v5h-9zM690 1023l5 -1h5v5l-5 1h-5zM695 1022h9v5h-9zM699 1022h9v5h-9zM703 1022h9v5h-9zM707 1022h9v5h-9zM711 1022h9v5h-9zM715 1022h10v5h-10zM720 1022l4 -1h5v5l-4 1h-5zM724 1021h9v5h-9zM728 1021h9v5h-9zM732 1021h9v5h-9zM736 1021h9v5h-9zM740 1021h10v5h-10zM745 1021h9v5h-9zM749 1021l4 -1h5v5l-4 1h-5zM753 1020h9v5h-9zM757 1020h9v5h-9zM761 1020h9v5h-9zM765 1020h10v5h-10zM770 1020h9v5h-9zM774 1020l4 -1h5v5l-4 1h-5zM778 1019h9v5h-9zM782 1019h9v5h-9zM786 1019h9v5h-9zM790 1019h10v5h-10zM795 1019l4 -1h5v5l-4 1h-5zM799 1018h9v5h-9zM803 1018h9v5h-9zM807 1018h9v5h-9zM811 1018h9v5h-9zM815 1018l4 -1h5v5l-4 1h-5zM819 1017h10v5h-10zM824 1017h9v5h-9zM828 1017h9v5h-9zM832 1017l4 -1h5v5l-4 1h-5zM836 1016h9v5h-9zM840 1016h10v5h-10zM845 1016h9v5h-9zM849 1016l4 -1h5v5l-4 1h-5zM853 1015h9v5h-9zM857 1015h9v5h-9zM861 1015l4 -1h5v5l-4 1h-5zM865 1014h9v5h-9zM869 1014h10v5h-10zM874 1014l4 -1h5v5l-4 1h-5zM878 1013h9v5h-9zM882 1013h9v5h-9zM886 1013l4 -1h5v5l-4 1h-5zM890 1012h10v5h-10zM895 1012h9v5h-9zM899 1012l4 -1h5v5l-4 1h-5zM903 1011h9v5h-9zM907 1011h9v5h-9zM911 1011l4 -1h5v5l-4 1h-5zM915 1010h9v5h-9zM919 1010l5 -1h5v5l-5 1h-5zM924 1009h9v5h-9zM928 1009h9v5h-9zM932 1009l4 -1h5v5l-4 1h-5zM936 1008h9v5h-9zM940 1008l5 -1h5v5l-5 1h-5zM945 1007h9v5h-9zM949 1007l4 -1h5v5l-4 1h-5zM953 1006h9v5h-9zM957 1006l4 -1h5v5l-4 1h-5zM961 1005h9v5h-9zM965 1005l4 -1h5v5l-4 1h-5zM969 1004h10v5h-10zM974 1004l4 -1h5v5l-4 1h-5zM978 1003h9v5h-9zM982 1003l4 -1h5v5l-4 1h-5zM986 1002l4 -1h5v5l-4 1h-5zM990 1001h10v5h-10zM995 1001l4 -1h5v5l-4 1h-5zM999 1000h9v5h-9zM1003 1000l4 -1h5v5l-4 1h-5zM1007 999l4 -1h5v5l-4 1h-5zM1011 998h9v5h-9zM1015 998l4 -1h5v5l-4 1h-5zM1019 997l5 -1h5v5l-5 1h-5zM1024 996l4 -1h5v5l-4 1h-5zM1028 995h9v5h-9zM1032 995l4 -1h5v5l-4 1h-5zM1036 994l4 -1h5v5l-4 1h-5zM1040 993l5 -1h5v5l-5 1h-5zM1045 992h9v5h-9zM1049 992l4 -1h5v5l-4 1h-5zM1053 991l4 -1h5v5l-4 1h-5zM1057 990l4 -1h5v5l-4 1h-5zM1061 989l4 -1h5v5l-4 1h-5zM1065 988l4 -1h5v5l-4 1h-5zM1069 987l5 -1h5v5l-5 1h-5zM1074 986l4 -1h5v5l-4 1h-5zM1078 985h9v5h-9zM1082 985l4 -1h5v5l-4 1h-5zM1086 984l4 -1h5v5l-4 1h-5zM1090 983l5 -2h5v5l-5 2h-5zM1095 981l4 -1h5v5l-4 1h-5zM1099 980l4 -1h5v5l-4 1h-5zM1103 979l4 -1h5v5l-4 1h-5zM1107 978l4 -1h5v5l-4 1h-5zM1111 977l4 -1h5v5l-4 1h-5zM1115 976l5 -1h5v5l-5 1h-5zM1120 975l4 -1h5v5l-4 1h-5zM1124 974l4 -1h5v5l-4 1h-5zM1128 973l4 -2h5v5l-4 2h-5zM1132 971l4 -1h5v5l-4 1h-5zM1136 970l4 -1h5v5l-4 1h-5zM1140 969l5 -2h5v5l-5 2h-5zM1145 967l4 -1h5v5l-4 1h-5zM1149 966l4 -1h5v5l-4 1h-5zM1153 965l4 -2h5v5l-4 2h-5zM1157 963l4 -1h5v5l-4 1h-5zM1161 962l4 -1h5v5l-4 1h-5zM1165 961l5 -2h5v5l-5 2h-5zM1170 959l4 -2h5v5l-4 2h-5zM1174 957l4 -1h5v5l-4 1h-5zM1178 956l4 -2h5v5l-4 2h-5zM1182 954l4 -1h5v5l-4 1h-5zM1186 953l4 -2h5v5l-4 2h-5zM1190 951l5 -2h5v5l-5 2h-5zM1195 949l4 -1h5v5l-4 1h-5zM1199 948l4 -2h5v5l-4 2h-5zM1203 946l4 -2h5v5l-4 2h-5zM1207 944l4 -2h5v5l-4 2h-5zM1211 942l4 -1h5v5l-4 1h-5zM1215 941l5 -3h5v5l-5 3h-5zM1220 938l4 -1h5v5l-4 1h-5zM1224 937l4 -2h5v5l-4 2h-5zM1228 935l4 -2h5v5l-4 2h-5zM1232 933l4 -2h5v5l-4 2h-5zM1236 931l4 -2h5v5l-4 2h-5zM1240 929l5 -3h5v5l-5 3h-5zM1245 926l4 -2h5v5l-4 2h-5zM1249 924l4 -2h5v5l-4 2h-5zM1253 922l4 -2h5v5l-4 2h-5zM1257 920l4 -2h5v5l-4 2h-5zM1261 918l4 -3h5v5l-4 3h-5zM1265 915l5 -2h5v5l-5 2h-5zM1270 913l4 -3h5v5l-4 3h-5zM1274 910l4 -2h5v5l-4 2h-5zM1278 908l4 -3h5v5l-4 3h-5zM1282 905l4 -2h5v5l-4 2h-5zM1286 903l4 -3h5v5l-4 3h-5zM1290 900l5 -3h5v5l-5 3h-5zM1295 897l4 -2h5v5l-4 2h-5zM1299 895l4 -3h5v5l-4 3h-5zM1303 892l4 -3h5v5l-4 3h-5zM1307 889l4 -2h5v5l-4 2h-5zM1311 887l4 -3h5v5l-4 3h-5zM1315 884l5 -4h5v5l-5 4h-5zM1320 880l4 -3h5v5l-4 3h-5zM1324 877l4 -3h5v5l-4 3h-5zM1328 874l4 -3h5v5l-4 3h-5zM1332 871l4 -3h5v5l-4 3h-5zM1336 868l4 -3h5v5l-4 3h-5zM1340 865l5 -4h5v5l-5 4h-5zM1345 861l4 -3h5v5l-4 3h-5zM1349 858l4 -3h5v5l-4 3h-5zM1353 855l4 -3h5v5l-4 3h-5zM1357 852l4 -4h5v5l-4 4h-5zM1361 848l4 -3h5v5l-4 3h-5zM1365 845l4 -4h5v5l-4 4h-5zM1369 841l5 -4h5v5l-5 4h-5zM1374 837l4 -4h5v5l-4 4h-5zM1378 833l4 -3h5v5l-4 3h-5zM1382 830l4 -4h5v5l-4 4h-5zM1386 826l4 -4h5v5l-4 4h-5zM1390 822l5 -4h5v5l-5 4h-5zM1395 818l4 -4h5v5l-4 4h-5zM1399 814l4 -4h5v5l-4 4h-5zM1403 810l4 -4h5v5l-4 4h-5zM1407 806l4 -4h5v5l-4 4h-5zM1411 802l4 -4h5v5l-4 4h-5zM1415 798l4 -4h5v5l-4 4h-5zM1419 794l5 -5h5v5l-5 5h-5zM1424 789l4 -4h5v5l-4 4h-5zM1428 785l4 -4h5v5l-4 4h-5zM1432 781l4 -4h5v5l-4 4h-5zM1436 777l4 -4h5v5l-4 4h-5zM1440 773l5 -5h5v5l-5 5h-5zM1445 764l4 -3h5v5l-4 3h-5zM1449 761l4 -4h5v5l-4 4h-5zM1453 757l4 -4h5v5l-4 4h-5zM1457 753l4 -4h5v5l-4 4h-5zM1461 749l4 -4h5v5l-4 4h-5zM1465 741l4 -3h5v5l-4 3h-5zM1469 738l5 -5h5v5l-5 5h-5zM1474 733l4 -4h5v5l-4 4h-5zM1478 725l4 -3h5v5l-4 3h-5zM1482 722l4 -4h5v5l-4 4h-5zM1486 718l4 -4h5v5l-4 4h-5zM1490 710l5 -4h5v5l-5 4h-5zM1495 706l4 -4h5v5l-4 4h-5zM1499 702l4 -4h5v5l-4 4h-5zM1503 694l4 -4h5v5l-4 4h-5zM1507 690l4 -4h5v5l-4 4h-5zM1511 686l4 -4h5v5l-4 4h-5zM1515 678l4 -4h5v5l-4 4h-5zM1519 674l5 -5h5v5l-5 5h-5zM1524 669l4 -4h5v5l-4 4h-5zM1528 661l4 -4h5v5l-4 4h-5zM1532 657l4 -4h5v5l-4 4h-5zM1536 649l4 -4h5v5l-4 4h-5zM1540 645l5 -5h5v5l-5 5h-5zM1545 636l4 -4h5v5l-4 4h-5zM1549 632l4 -4h5v5l-4 4h-5zM1553 628l4 -4h5v5l-4 4h-5zM1557 620l4 -4h5v5l-4 4h-5zM1561 616l4 -4h5v5l-4 4h-5zM1565 608l4 -4h5v5l-4 4h-5zM1569 604l5 -5h5v5l-5 5h-5zM1574 595l4 -4h5v5l-4 4h-5zM1578 591l4 -4h5v5l-4 4h-5zM1582 583l4 -4h5v5l-4 4h-5zM1586 579l4 -4h5v5l-4 4h-5zM1590 571l5 -5h5v5l-5 5h-5zM1595 566l4 -4h5v5l-4 4h-5zM1599 558l4 -4h5v5l-4 4h-5zM1603 554l4 -4h5v5l-4 4h-5zM1607 546l4 -4h5v5l-4 4h-5zM1611 542l4 -4h5v5l-4 4h-5zM1615 534l4 -4h5v5l-4 4h-5zM1619 526l5 -5h5v5l-5 5h-5zM1624 521l4 -4h5v5l-4 4h-5zM1628 513l4 -4h5v5l-4 4h-5zM1632 509l4 -4h5v5l-4 4h-5zM1636 501l4 -4h5v5l-4 4h-5zM1640 497l5 -5h5v5l-5 5h-5zM1645 488l4 -4h5v5l-4 4h-5zM1649 480l4 -4h5v5l-4 4h-5zM1653 476l4 -4h5v5l-4 4h-5zM1657 468l4 -4h5v5l-4 4h-5zM1661 464l4 -4h5v5l-4 4h-5zM1665 456l4 -4h5v5l-4 4h-5zM1669 452l5 -5h5v5l-5 5h-5zM1674 443l4 -4h5v5l-4 4h-5zM1678 435l4 -4h5v5l-4 4h-5zM1682 431l4 -4h5v5l-4 4h-5zM1686 423l4 -4h5v5l-4 4h-5zM1690 419l5 -5h5v5l-5 5h-5zM1695 410l4 -4h5v5l-4 4h-5zM1699 402l4 -4h5v5l-4 4h-5zM1703 398l4 -4h5v5l-4 4h-5zM1707 390l4 -4h5v5l-4 4h-5zM1711 386l4 -4h5v5l-4 4h-5zM1715 378l4 -4h5v5l-4 4h-5zM1719 374l5 -5h5v5l-5 5h-5zM1724 365l4 -4h5v5l-4 4h-5zM1728 361l4 -4h5v5l-4 4h-5zM1732 353l4 -4h5v5l-4 4h-5zM1736 349l4 -4h5v5l-4 4h-5zM1740 341l5 -5h5v5l-5 5h-5zM1745 336l4 -4h5v5l-4 4h-5zM1749 328l4 -4h5v5l-4 4h-5zM1753 324l4 -4h5v5l-4 4h-5zM1757 316l4 -4h5v5l-4 4h-5zM1761 312l4 -4h5v5l-4 4h-5zM1765 308l4 -4h5v5l-4 4h-5zM1769 300l5 -5h5v5l-5 5h-5zM1774 295l4 -4h5v5l-4 4h-5zM1778 287l4 -4h5v5l-4 4h-5zM1782 283l4 -4h5v5l-4 4h-5zM1786 279l4 -4h5v5l-4 4h-5zM1790 271l5 -5h5v5l-5 5h-5zM1795 266l4 -4h5v5l-4 4h-5zM1799 258l4 -4h5v5l-4 4h-5zM1803 254l4 -4h5v5l-4 4h-5zM1807 250l4 -4h5v5l-4 4h-5zM1811 246l4 -4h5v5l-4 4h-5zM1815 238l4 -4h5v5l-4 4h-5zM1819 234l5 -5h5v5l-5 5h-5zM1824 229l4 -4h5v5l-4 4h-5zM1828 221l4 -3h5v5l-4 3h-5zM1832 218l4 -4h5v5l-4 4h-5zM1836 214l4 -4h5v5l-4 4h-5zM1840 210l5 -5h5v5l-5 5h-5zM1845 201l4 -4h5v5l-4 4h-5zM1849 197l4 -4h5v5l-4 4h-5zM1853 193l4 -4h5v5l-4 4h-5zM1857 189l4 -4h5v5l-4 4h-5zM1861 185l4 -4h5v5l-4 4h-5zM1865 181l4 -4h5v5l-4 4h-5zM1869 173l5 -4h5v5l-5 4h-5zM1874 169l4 -4h5v5l-4 4h-5zM1878 165l4 -4h5v5l-4 4h-5zM1882 161l4 -4h5v5l-4 4h-5zM1886 157l4 -4h5v5l-4 4h-5zM1890 153l5 -5h5v5l-5 5h-5zM1895 148l4 -4h5v5l-4 4h-5zM1899 144l4 -4h5v5l-4 4h-5zM1903 140l4 -4h5v5l-4 4h-5zM1907 136l4 -4h5v5l-4 4h-5zM1911 132l4 -4h5v5l-4 4h-5zM1915 128l5 -5h5v5l-5 5h-5zM1920 123l4 -4h5v5l-4 4h-5zM1924 119l4 -4h5v5l-4 4h-5zM1928 115l4 -3h5v5l-4 3h-5zM1932 112l4 -4h5v5l-4 4h-5zM1936 108l4 -3h5v5l-4 3h-5zM1940 105l5 -4h5v5l-5 4h-5zM1945 101l4 -4h5v5l-4 4h-5zM1949 97l4 -3h5v5l-4 3h-5zM1953 94l4 -3h5v5l-4 3h-5zM1957 91l4 -4h5v5l-4 4h-5zM1961 87l4 -3h5v5l-4 3h-5z" fill="#008800"/>
</g>
<path fill="#008800" fill-rule="evenodd" d="M1869.7 153.1L1888.7 189.6L1850.7 189.6zM1869.7 166.6L1860.2 184.6L1879.2 184.6z"/>
<path fill="#008800" fill-rule="evenodd" d="M1730.4 350.1L1749.4 386.6L1711.4 386.6zM1730.4 363.6L1720.9 381.6L1739.9 381.6z"/>
<path fill="#008800" fill-rule="evenodd" d="M1585.2 550.5L1604.2 587L1566.2 587zM1585.2 564L1575.7 582L1594.7 582z"/>
<path fill="#008800" fill-rule="evenodd" d="M1445.4 759.5L1464.4 796L1426.4 796zM1445.4 773L1435.9 791L1454.9 791z"/>
<path fill="#008800" fill-rule="evenodd" d="M1301.2 881L1320.2 917.5L1282.2 917.5zM1301.2 894.5L1291.7 912.5L1310.7 912.5z"/>
<path fill="#008800" fill-rule="evenodd" d="M1156.4 944L1175.4 980.5L1137.4 980.5zM1156.4 957.5L1146.9 975.5L1165.9 975.5z"/>
<path fill="#008800" fill-rule="evenodd" d="M1016.4 971L1035.4 1007.5L997.4 1007.5zM1016.4 984.5L1006.9 1002.5L1025.9 1002.5z"/>
<path fill="#008800" fill-rule="evenodd" d="M872.5 999L891.5 1035.5L853.5 1035.5zM872.5 1012.5L863 1030.5L882 1030.5z"/>
<path fill="#008800" fill-rule="evenodd" d="M731.5 1008L750.5 1044.5L712.5 1044.5zM731.5 1021.5L722 1039.5L741 1039.5z"/>
<path fill="#008800" fill-rule="evenodd" d="M587.5 1012L606.5 1048.5L568.5 1048.5zM587.5 1025.5L578 1043.5L597 1043.5z"/>
</g>
<g>
<g clip-path="url(#cp)" shape-rendering="crispEdges">
<path d="M307 1026h8v5h-8zM311 1026h8v5h-8zM315 1026h8v5h-8zM319 1026h8v5h-8zM324 1026h8v5h-8zM328 1026h8v5h-8zM332 1026h8v5h-8zM336 1026h8v5h-8zM340 1026h8v5h-8zM345 1026h8v5h-8zM349 1026h8v5h-8zM353 1026h8v5h-8zM357 1026h8v5h-8zM361 1026h8v5h-8zM365 1026h8v5h-8zM370 1026h8v5h-8zM374 1026h8v5h-8zM378 1026h8v5h-8zM382 1026h8v5h-8zM386 1026h8v5h-8zM390 1026h8v5h-8zM395 1026h8v5h-8zM399 1026h8v5h-8zM403 1026h8v5h-8zM407 1026h8v5h-8zM411 1026h8v5h-8zM415 1026h8v5h-8zM420 1026h8v5h-8zM424 1026h8v5h-8zM428 1026h8v5h-8zM432 1026h8v5h-8zM436 1026h8v5h-8zM440 1025h8v5h-8zM445 1025h8v5h-8zM449 1025h8v5h-8zM453 1025h8v5h-8zM457 1025h8v5h-8zM461 1025h8v5h-8zM465 1025h8v5h-8zM469 1025h8v5h-8zM474 1025h8v5h-8zM478 1025h8v5h-8zM482 1025h8v5h-8zM486 1025h8v5h-8zM490 1025h8v5h-8zM495 1025h8v5h-8zM499 1025h8v5h-8zM503 1025h8v5h-8zM507 1025h8v5h-8zM511 1025h8v5h-8zM515 1025h8v5h-8zM520 1025h8v5h-8zM524 1025h8v5h-8zM528 1025h8v5h-8zM532 1025h8v5h-8zM536 1025h8v5h-8zM540 1025h8v5h-8zM545 1025h8v5h-8zM549 1025h8v5h-8zM553 1025h8v5h-8zM557 1024h8v5h-8zM561 1024h8v5h-8zM565 1024h8v5h-8zM569 1024h8v5h-8zM574 1024h8v5h-8zM578 1024h8v5h-8zM582 1024h8v5h-8zM586 1024h8v5h-8zM590 1024h8v5h-8zM595 1024h8v5h-8zM599 1024h8v5h-8zM603 1024h8v5h-8zM607 1024h8v5h-8zM611 1024h8v5h-8zM615 1024h8v5h-8zM619 1024h8v5h-8zM624 1024h8v5h-8zM628 1023h8v5h-8zM632 1023h8v5h-8zM636 1023h8v5h-8zM640 1023h8v5h-8zM645 1023h8v5h-8zM649 1023h8v5h-8zM653 1023h8v5h-8zM657 1023h8v5h-8zM661 1023h8v5h-8zM665 1023h8v5h-8zM669 1023h8v5h-8zM674 1023h8v5h-8zM678 1023h8v5h-8zM682 1022h8v5h-8zM686 1022h8v5h-8zM690 1022h8v5h-8zM695 1022h8v5h-8zM699 1022h8v5h-8zM703 1022h8v5h-8zM707 1022h8v5h-8zM711 1022h8v5h-8zM715 1022h8v5h-8zM720 1021h8v5h-8zM724 1021h8v5h-8zM728 1021h8v5h-8zM732 1021h8v5h-8zM736 1021h8v5h-8zM740 1021h8v5h-8zM745 1021h8v5h-8zM749 1021h8v5h-8zM753 1020h8v5h-8zM757 1020h8v5h-8zM761 1020h8v5h-8zM765 1020h8v5h-8zM770 1020h8v5h-8zM774 1020h8v5h-8zM778 1020h8v5h-8zM782 1019h8v5h-8zM786 1019h8v5h-8zM790 1019h8v5h-8zM795 1019h8v5h-8zM799 1019h8v5h-8zM803 1019h8v5h-8zM807 1018h8v5h-8zM811 1018h8v5h-8zM815 1018h8v5h-8zM819 1018h8v5h-8zM824 1018h8v5h-8zM828 1017h8v5h-8zM832 1017h8v5h-8zM836 1017h8v5h-8zM840 1017h8v5h-8zM845 1017h8v5h-8zM849 1016h8v5h-8zM853 1016h8v5h-8zM857 1016h8v5h-8zM861 1016h8v5h-8zM865 1015h8v5h-8zM869 1015h8v5h-8zM874 1015h8v5h-8zM878 1015h8v5h-8zM882 1014h8v5h-8zM886 1014h8v5h-8zM890 1014h8v5h-8zM895 1013h8v5h-8zM899 1013h8v5h-8zM903 1013h8v5h-8zM907 1013h8v5h-8zM911 1012h8v5h-8zM915 1012h8v5h-8zM919 1012h8v5h-8zM924 1011h8v5h-8zM928 1011h8v5h-8zM932 1010h8v5h-8zM936 1010h8v5h-8zM940 1010h8v5h-8zM945 1009h8v5h-8zM949 1009h8v5h-8zM953 1009h8v5h-8zM957 1008h8v5h-8zM961 1008h8v5h-8zM965 1007h8v5h-8zM969 1007h8v5h-8zM974 1006h8v5h-8zM978 1006h8v5h-8zM982 1006h8v5h-8zM986 1005h8v5h-8zM990 1005h8v5h-8zM995 1004h8v5h-8zM999 1004h8v5h-8zM1003 1003h8v5h-8zM1007 1003h8v5h-8zM1011 1002h8v5h-8zM1015 1001h8v5h-8zM1019 1001h8v5h-8zM1024 1000h8v5h-8zM1028 1000h8v5h-8zM1032 999h8v5h-8zM1036 998h8v5h-8zM1040 998h8v5h-8zM1045 997h8v5h-8zM1049 996h8v5h-8zM1053 996h8v5h-8zM1057 995h8v5h-8zM1061 994h8v5h-8zM1065 994h8v5h-8zM1069 993h8v5h-8zM1074 992h8v5h-8zM1078 991h8v5h-8zM1082 991h8v5h-8zM1086 990h8v5h-8zM1090 989h8v5h-8zM1095 988h8v5h-8zM1099 987h8v5h-8zM1103 986h8v5h-8zM1107 986h8v5h-8zM1111 985h8v5h-8zM1115 984h8v5h-8zM1120 983h8v5h-8zM1124 982h8v5h-8zM1128 981h8v5h-8zM1132 980h8v5h-8zM1136 979h8v5h-8zM1140 978h8v5h-8zM1145 977h8v5h-8zM1149 976h8v5h-8zM1153 974h8v5h-8zM1157 973h8v5h-8zM1161 972h8v5h-8zM1165 971h8v5h-8zM1170 970h8v5h-8zM1174 968h8v5h-8zM1178 967h8v5h-8zM1182 966h8v5h-8zM1186 965h8v5h-8zM1190 963h8v5h-8zM1195 962h8v5h-8zM1199 960h8v5h-8zM1203 959h8v5h-8zM1207 958h8v5h-8zM1211 956h8v5h-8zM1215 955h8v5h-8zM1220 953h8v5h-8zM1224 951h8v5h-8zM1228 950h8v5h-8zM1232 948h8v5h-8zM1236 947h8v5h-8zM1240 945h8v5h-8zM1245 943h8v5h-8zM1249 941h8v5h-8zM1253 939h8v5h-8zM1257 938h8v5h-8zM1261 936h8v5h-8zM1265 934h8v5h-8zM1270 932h8v5h-8zM1274 930h8v5h-8zM1278 928h8v5h-8zM1282 926h8v5h-8zM1286 924h8v5h-8zM1290 922h8v5h-8zM1295 919h8v5h-8zM1299 917h8v5h-8zM1303 915h8v5h-8zM1307 913h8v5h-8zM1311 910h8v5h-8zM1315 908h8v5h-8zM1320 905h8v5h-8zM1324 903h8v5h-8zM1328 900h8v5h-8zM1332 898h8v5h-8zM1336 895h8v5h-8zM1340 893h8v5h-8zM1345 889h8v5h-8zM1349 887h8v5h-8zM1353 884h8v5h-8zM1357 881h8v5h-8zM1361 879h8v5h-8zM1365 876h8v5h-8zM1369 873h8v5h-8zM1374 869h8v5h-8zM1378 866h8v5h-8zM1382 863h8v5h-8zM1386 860h8v5h-8zM1390 857h8v5h-8zM1395 853h8v5h-8zM1399 850h8v5h-8zM1403 846h8v5h-8zM1407 843h8v5h-8zM1411 840h8v5h-8zM1415 836h8v5h-8zM1419 833h8v5h-8zM1424 828h8v5h-8zM1428 825h8v5h-8zM1432 821h8v5h-8zM1436 817h8v5h-8zM1440 813h8v5h-8zM1445 809h8v5h-8zM1449 805h8v5h-8zM1453 801h8v5h-8zM1457 797h8v5h-8zM1461 793h8v5h-8zM1465 789h8v5h-8zM1469 785h8v5h-8zM1474 780h8v5h-8zM1478 776h8v5h-8zM1482 772h8v5h-8zM1486 768h8v5h-8zM1490 760h8v9h-8zM1495 756h8v5h-8zM1499 752h8v5h-8zM1503 748h8v5h-8zM1507 744h8v5h-8zM1511 736h8v9h-8zM1515 733h8v5h-8zM1519 729h8v5h-8zM1524 724h8v5h-8zM1528 716h8v9h-8zM1532 712h8v5h-8zM1536 708h8v5h-8zM1540 704h8v5h-8zM1545 695h8v9h-8zM1549 691h8v5h-8zM1553 687h8v5h-8zM1557 679h8v9h-8zM1561 675h8v5h-8zM1565 671h8v5h-8zM1569 663h8v9h-8zM1574 658h8v5h-8zM1578 650h8v9h-8zM1582 646h8v5h-8zM1586 642h8v5h-8zM1590 634h8v9h-8zM1595 629h8v5h-8zM1599 621h8v9h-8zM1603 617h8v5h-8zM1607 609h8v9h-8zM1611 605h8v5h-8zM1615 601h8v5h-8zM1619 593h8v9h-8zM1624 584h8v9h-8zM1628 580h8v5h-8zM1632 572h8v9h-8zM1636 568h8v5h-8zM1640 560h8v9h-8zM1645 555h8v5h-8zM1649 547h8v9h-8zM1653 543h8v5h-8zM1657 535h8v9h-8zM1661 531h8v5h-8zM1665 523h8v9h-8zM1669 519h8v5h-8zM1674 510h8v9h-8zM1678 502h8v9h-8zM1682 498h8v5h-8zM1686 490h8v9h-8zM1690 486h8v5h-8zM1695 477h8v9h-8zM1699 469h8v9h-8zM1703 465h8v5h-8zM1707 457h8v9h-8zM1711 453h8v5h-8zM1715 445h8v9h-8zM1719 437h8v9h-8zM1724 432h8v5h-8zM1728 424h8v9h-8zM1732 420h8v5h-8zM1736 412h8v9h-8zM1740 404h8v9h-8zM1745 399h8v5h-8zM1749 391h8v9h-8zM1753 387h8v5h-8zM1757 379h8v9h-8zM1761 375h8v5h-8zM1765 367h8v9h-8zM1769 359h8v9h-8zM1774 354h8v5h-8zM1778 346h8v9h-8zM1782 342h8v5h-8zM1786 334h8v9h-8zM1790 330h8v5h-8zM1795 321h8v9h-8zM1799 317h8v5h-8zM1803 309h8v9h-8zM1807 305h8v5h-8zM1811 297h8v9h-8zM1815 293h8v5h-8zM1819 285h8v9h-8zM1824 280h8v5h-8zM1828 272h8v9h-8zM1832 268h8v5h-8zM1836 260h8v9h-8zM1840 256h8v5h-8zM1845 251h8v5h-8zM1849 243h8v9h-8zM1853 239h8v5h-8zM1857 231h8v9h-8zM1861 227h8v5h-8zM1865 223h8v5h-8zM1869 215h8v9h-8zM1874 210h8v5h-8zM1878 206h8v5h-8zM1882 198h8v9h-8zM1886 195h8v5h-8zM1890 191h8v5h-8zM1895 182h8v9h-8zM1899 178h8v5h-8zM1903 174h8v5h-8zM1907 170h8v5h-8zM1911 166h8v5h-8zM1915 158h8v9h-8zM1920 153h8v5h-8zM1924 149h8v5h-8zM1928 145h8v5h-8zM1932 141h8v5h-8zM1936 137h8v5h-8zM1940 133h8v5h-8zM1945 124h8v9h-8zM1949 121h8v5h-8zM1953 117h8v5h-8zM1957 113h8v5h-8zM1961 109h8v5h-8zM1965 105h8v5h-8zM1970 100h8v5h-8zM1974 96h8v5h-8zM1978 92h8v5h-8zM1982 88h8v5h-8zM1986 84h8v5h-8z" fill="#ff6600"/>
<path d="M307 1028h4v1h-4zM311 1028h4v1h-4zM315 1028h4v1h-4zM319 1028h5v1h-5zM324 1028h4v1h-4zM328 1028h4v1h-4zM332 1028h4v1h-4zM336 1028h4v1h-4zM340 1028h5v1h-5zM345 1028h4v1h-4zM349 1028h4v1h-4zM353 1028h4v1h-4zM357 1028h4v1h-4zM361 1028h4v1h-4zM365 1028h5v1h-5zM370 1028h4v1h-4zM374 1028h4v1h-4zM378 1028h4v1h-4zM382 1028h4v1h-4zM386 1028h4v1h-4zM390 1028h5v1h-5zM395 1028h4v1h-4zM399 1028h4v1h-4zM403 1028h4v1h-4zM407 1028h4v1h-4zM411 1028h4v1h-4zM415 1028h5v1h-5zM420 1028h4v1h-4zM424 1028h4v1h-4zM428 1028h4v1h-4zM432 1028h4v1h-4zM440 1028h5v1h-5zM445 1028h4v1h-4zM449 1028h4v1h-4zM453 1028h4v1h-4zM457 1028h4v1h-4zM461 1028h4v1h-4zM465 1028h4v1h-4zM469 1028h5v1h-5zM474 1028h4v1h-4zM478 1028h4v1h-4zM482 1028h4v1h-4zM486 1028h4v1h-4zM490 1028h5v1h-5zM495 1028h4v1h-4zM499 1028h4v1h-4zM503 1028h4v1h-4zM507 1028h4v1h-4zM511 1028h4v1h-4zM515 1028h5v1h-5zM520 1028h4v1h-4zM524 1028h4v1h-4zM528 1028h4v1h-4zM532 1028h4v1h-4zM536 1028h4v1h-4zM540 1028h5v1h-5zM545 1028h4v1h-4zM549 1028h4v1h-4zM557 1028h4v1h-4zM561 1028h4v1h-4zM565 1028h4v1h-4zM569 1028h5v1h-5zM574 1028h4v1h-4zM578 1028h4v1h-4zM582 1028h4v1h-4zM586 1028h4v1h-4zM590 1028h5v1h-5zM595 1028h4v1h-4zM599 1028h4v1h-4zM603 1028h4v1h-4zM607 1028h4v1h-4zM611 1028h4v1h-4zM615 1028h4v1h-4zM619 1028h5v1h-5zM753 1020h4v1h-4zM757 1020h4v1h-4zM761 1020h4v1h-4zM765 1020h5v1h-5zM770 1020h4v1h-4zM774 1020h4v1h-4zM782 1020h4v1h-4zM786 1020h4v1h-4zM790 1020h5v1h-5zM795 1020h4v1h-4zM799 1020h4v1h-4zM807 1020h4v1h-4zM811 1020h4v1h-4zM815 1020h4v1h-4zM819 1020h5v1h-5zM828 1020h4v1h-4zM832 1020h4v1h-4zM836 1020h4v1h-4zM840 1020h5v1h-5zM849 1020h4v1h-4zM853 1020h4v1h-4zM857 1020h4v1h-4zM911 1012h4v1h-4zM915 1012h4v1h-4zM924 1012h4v1h-4zM932 1012h4v1h-4zM936 1012h4v1h-4zM945 1012h4v1h-4zM949 1012h4v1h-4zM957 1012h4v1h-4zM995 1004h4v1h-4zM1003 1004h4v1h-4zM1015 1004h4v1h-4zM1024 1004h4v1h-4zM1049 996h4v1h-4zM1061 996h4v1h-4zM1103 988h4v1h-4zM1402 852h5v1h-5zM1412 844h7v1h-7zM1421 836h6v1h-6zM1430 828h6v1h-6zM1438 820h6v1h-6zM1447 812h6v1h-6zM1455 804h6v1h-6zM1463 796h6v1h-6zM1471 788h6v1h-6zM1479 780h7v1h-7zM1487 772h7v1h-7zM1500 756h7v1h-7zM1508 748h7v1h-7zM1521 732h6v1h-6zM1528 724h8v1h-8zM1533 716h7v1h-7zM1541 708h7v1h-7zM1545 700h8v1h-8zM1557 684h8v1h-8zM1569 668h8v1h-8zM1577 660h5v1h-5zM1581 652h5v1h-5zM1589 644h5v1h-5zM1593 636h5v1h-5zM1599 628h8v1h-8zM1605 620h6v1h-6zM1609 612h6v1h-6zM1617 604h6v1h-6zM1621 596h6v1h-6zM1625 588h7v1h-7zM1632 580h8v1h-8zM1637 572h7v1h-7zM1641 564h7v1h-7zM1657 540h8v1h-8zM1674 516h8v1h-8zM1678 508h8v1h-8zM1685 500h5v1h-5zM1689 492h5v1h-5zM1695 484h8v1h-8zM1699 476h8v1h-8zM1705 468h6v1h-6zM1709 460h6v1h-6zM1715 452h8v1h-8zM1719 444h8v1h-8zM1725 436h7v1h-7zM1729 428h7v1h-7zM1736 420h8v1h-8zM1740 412h8v1h-8zM1749 396h8v1h-8zM1765 372h8v1h-8zM1769 364h8v1h-8zM1777 356h5v1h-5zM1781 348h5v1h-5zM1786 340h8v1h-8zM1793 332h5v1h-5zM1797 324h6v1h-6zM1803 316h8v1h-8zM1809 308h6v1h-6zM1813 300h6v1h-6zM1819 292h8v1h-8zM1825 284h7v1h-7zM1829 276h7v1h-7zM1836 268h8v1h-8zM1841 260h7v1h-7zM1857 236h8v1h-8zM1869 220h8v1h-8zM1877 212h5v1h-5zM1895 188h8v1h-8zM1902 180h5v1h-5zM1910 172h5v1h-5zM1915 164h8v1h-8zM1922 156h6v1h-6zM1930 148h6v1h-6zM1938 140h6v1h-6zM1951 124h6v1h-6zM1959 116h6v1h-6zM1967 108h6v1h-6zM1975 100h7v1h-7zM1983 92h7v1h-7zM1986 84h8v1h-8z" fill="#fff"/>
<path d="M307 1026h9v5h-9zM311 1026h9v5h-9zM315 1026h9v5h-9zM319 1026h10v5h-10zM324 1026h9v5h-9zM328 1026h9v5h-9zM332 1026h9v5h-9zM336 1026h9v5h-9zM340 1026h10v5h-10zM345 1026h9v5h-9zM349 1026h9v5h-9zM353 1026h9v5h-9zM357 1026h9v5h-9zM361 1026h9v5h-9zM365 1026h10v5h-10zM370 1026h9v5h-9zM374 1026h9v5h-9zM378 1026h9v5h-9zM382 1026h9v5h-9zM386 1026h9v5h-9zM390 1026h10v5h-10zM395 1026h9v5h-9zM399 1026h9v5h-9zM403 1026h9v5h-9zM407 1026h9v5h-9zM411 1026h9v5h-9zM415 1026h10v5h-10zM420 1026h9v5h-9zM424 1026h9v5h-9zM428 1026h9v5h-9zM432 1026h9v5h-9zM436 1026l4 -1h5v5l-4 1h-5zM440 1025h10v5h-10zM445 1025h9v5h-9zM449 1025h9v5h-9zM453 1025h9v5h-9zM457 1025h9v5h-9zM461 1025h9v5h-9zM465 1025h9v5h-9zM469 1025h10v5h-10zM474 1025h9v5h-9zM478 1025h9v5h-9zM482 1025h9v5h-9zM486 1025h9v5h-9zM490 1025h10v5h-10zM495 1025h9v5h-9zM499 1025h9v5h-9zM503 1025h9v5h-9zM507 1025h9v5h-9zM511 1025h9v5h-9zM515 1025h10v5h-10zM520 1025h9v5h-9zM524 1025h9v5h-9zM528 1025h9v5h-9zM532 1025h9v5h-9zM536 1025h9v5h-9zM540 1025h10v5h-10zM545 1025h9v5h-9zM549 1025h9v5h-9zM553 1025l4 -1h5v5l-4 1h-5zM557 1024h9v5h-9zM561 1024h9v5h-9zM565 1024h9v5h-9zM569 1024h10v5h-10zM574 1024h9v5h-9zM578 1024h9v5h-9zM582 1024h9v5h-9zM586 1024h9v5h-9zM590 1024h10v5h-10zM595 1024h9v5h-9zM599 1024h9v5h-9zM603 1024h9v5h-9zM607 1024h9v5h-9zM611 1024h9v5h-9zM615 1024h9v5h-9zM619 1024h10v5h-10zM624 1024l4 -1h5v5l-4 1h-5zM628 1023h9v5h-9zM632 1023h9v5h-9zM636 1023h9v5h-9zM640 1023h10v5h-10zM645 1023h9v5h-9zM649 1023h9v5h-9zM653 1023h9v5h-9zM657 1023h9v5h-9zM661 1023h9v5h-9zM665 1023h9v5h-9zM669 1023h10v5h-10zM674 1023h9v5h-9zM678 1023l4 -1h5v5l-4 1h-5zM682 1022h9v5h-9zM686 1022h9v5h-9zM690 1022h10v5h-10zM695 1022h9v5h-9zM699 1022h9v5h-9zM703 1022h9v5h-9zM707 1022h9v5h-9zM711 1022h9v5h-9zM715 1022l5 -1h5v5l-5 1h-5zM720 1021h9v5h-9zM724 1021h9v5h-9zM728 1021h9v5h-9zM732 1021h9v5h-9zM736 1021h9v5h-9zM740 1021h10v5h-10zM745 1021h9v5h-9zM749 1021l4 -1h5v5l-4 1h-5zM753 1020h9v5h-9zM757 1020h9v5h-9zM761 1020h9v5h-9zM765 1020h10v5h-10zM770 1020h9v5h-9zM774 1020h9v5h-9zM778 1020l4 -1h5v5l-4 1h-5zM782 1019h9v5h-9zM786 1019h9v5h-9zM790 1019h10v5h-10zM795 1019h9v5h-9zM799 1019h9v5h-9zM803 1019l4 -1h5v5l-4 1h-5zM807 1018h9v5h-9zM811 1018h9v5h-9zM815 1018h9v5h-9zM819 1018h10v5h-10zM824 1018l4 -1h5v5l-4 1h-5zM828 1017h9v5h-9zM832 1017h9v5h-9zM836 1017h9v5h-9zM840 1017h10v5h-10zM845 1017l4 -1h5v5l-4 1h-5zM849 1016h9v5h-9zM853 1016h9v5h-9zM857 1016h9v5h-9zM861 1016l4 -1h5v5l-4 1h-5zM865 1015h9v5h-9zM869 1015h10v5h-10zM874 1015h9v5h-9zM878 1015l4 -1h5v5l-4 1h-5zM882 1014h9v5h-9zM886 1014h9v5h-9zM890 1014l5 -1h5v5l-5 1h-5zM895 1013h9v5h-9zM899 1013h9v5h-9zM903 1013h9v5h-9zM907 1013l4 -1h5v5l-4 1h-5zM911 1012h9v5h-9zM915 1012h9v5h-9zM919 1012l5 -1h5v5l-5 1h-5zM924 1011h9v5h-9zM928 1011l4 -1h5v5l-4 1h-5zM932 1010h9v5h-9zM936 1010h9v5h-9zM940 1010l5 -1h5v5l-5 1h-5zM945 1009h9v5h-9zM949 1009h9v5h-9zM953 1009l4 -1h5v5l-4 1h-5zM957 1008h9v5h-9zM961 1008l4 -1h5v5l-4 1h-5zM965 1007h9v5h-9zM969 1007l5 -1h5v5l-5 1h-5zM974 1006h9v5h-9zM978 1006h9v5h-9zM982 1006l4 -1h5v5l-4 1h-5zM986 1005h9v5h-9zM990 1005l5 -1h5v5l-5 1h-5zM995 1004h9v5h-9zM999 1004l4 -1h5v5l-4 1h-5zM1003 1003h9v5h-9zM1007 1003l4 -1h5v5l-4 1h-5zM1011 1002l4 -1h5v5l-4 1h-5zM1015 1001h9v5h-9zM1019 1001l5 -1h5v5l-5 1h-5zM1024 1000h9v5h-9zM1028 1000l4 -1h5v5l-4 1h-5zM1032 999l4 -1h5v5l-4 1h-5zM1036 998h9v5h-9zM1040 998l5 -1h5v5l-5 1h-5zM1045 997l4 -1h5v5l-4 1h-5zM1049 996h9v5h-9zM1053 996l4 -1h5v5l-4 1h-5zM1057 995l4 -1h5v5l-4 1h-5zM1061 994h9v5h-9zM1065 994l4 -1h5v5l-4 1h-5zM1069 993l5 -1h5v5l-5 1h-5zM1074 992l4 -1h5v5l-4 1h-5zM1078 991h9v5h-9zM1082 991l4 -1h5v5l-4 1h-5zM1086 990l4 -1h5v5l-4 1h-5zM1090 989l5 -1h5v5l-5 1h-5zM1095 988l4 -1h5v5l-4 1h-5zM1099 987l4 -1h5v5l-4 1h-5zM1103 986h9v5h-9zM1107 986l4 -1h5v5l-4 1h-5zM1111 985l4 -1h5v5l-4 1h-5zM1115 984l5 -1h5v5l-5 1h-5zM1120 983l4 -1h5v5l-4 1h-5zM1124 982l4 -1h5v5l-4 1h-5zM1128 981l4 -1h5v5l-4 1h-5zM1132 980l4 -1h5v5l-4 1h-5zM1136 979l4 -1h5v5l-4 1h-5zM1140 978l5 -1h5v5l-5 1h-5zM1145 977l4 -1h5v5l-4 1h-5zM1149 976l4 -2h5v5l-4 2h-5zM1153 974l4 -1h5v5l-4 1h-5zM1157 973l4 -1h5v5l-4 1h-5zM1161 972l4 -1h5v5l-4 1h-5zM1165 971l5 -1h5v5l-5 1h-5zM1170 970l4 -2h5v5l-4 2h-5zM1174 968l4 -1h5v5l-4 1h-5zM1178 967l4 -1h5v5l-4 1h-5zM1182 966l4 -1h5v5l-4 1h-5zM1186 965l4 -2h5v5l-4 2h-5zM1190 963l5 -1h5v5l-5 1h-5zM1195 962l4 -2h5v5l-4 2h-5zM1199 960l4 -1h5v5l-4 1h-5zM1203 959l4 -1h5v5l-4 1h-5zM1207 958l4 -2h5v5l-4 2h-5zM1211 956l4 -1h5v5l-4 1h-5zM1215 955l5 -2h5v5l-5 2h-5zM1220 953l4 -2h5v5l-4 2h-5zM1224 951l4 -1h5v5l-4 1h-5zM1228 950l4 -2h5v5l-4 2h-5zM1232 948l4 -1h5v5l-4 1h-5zM1236 947l4 -2h5v5l-4 2h-5zM1240 945l5 -2h5v5l-5 2h-5zM1245 943l4 -2h5v5l-4 2h-5zM1249 941l4 -2h5v5l-4 2h-5zM1253 939l4 -1h5v5l-4 1h-5zM1257 938l4 -2h5v5l-4 2h-5zM1261 936l4 -2h5v5l-4 2h-5zM1265 934l5 -2h5v5l-5 2h-5zM1270 932l4 -2h5v5l-4 2h-5zM1274 930l4 -2h5v5l-4 2h-5zM1278 928l4 -2h5v5l-4 2h-5zM1282 926l4 -2h5v5l-4 2h-5zM1286 924l4 -2h5v5l-4 2h-5zM1290 922l5 -3h5v5l-5 3h-5zM1295 919l4 -2h5v5l-4 2h-5zM1299 917l4 -2h5v5l-4 2h-5zM1303 915l4 -2h5v5l-4 2h-5zM1307 913l4 -3h5v5l-4 3h-5zM1311 910l4 -2h5v5l-4 2h-5zM1315 908l5 -3h5v5l-5 3h-5zM1320 905l4 -2h5v5l-4 2h-5zM1324 903l4 -3h5v5l-4 3h-5zM1328 900l4 -2h5v5l-4 2h-5zM1332 898l4 -3h5v5l-4 3h-5zM1336 895l4 -2h5v5l-4 2h-5zM1340 893l5 -4h5v5l-5 4h-5zM1345 889l4 -2h5v5l-4 2h-5zM1349 887l4 -3h5v5l-4 3h-5zM1353 884l4 -3h5v5l-4 3h-5zM1357 881l4 -2h5v5l-4 2h-5zM1361 879l4 -3h5v5l-4 3h-5zM1365 876l4 -3h5v5l-4 3h-5zM1369 873l5 -4h5v5l-5 4h-5zM1374 869l4 -3h5v5l-4 3h-5zM1378 866l4 -3h5v5l-4 3h-5zM1382 863l4 -3h5v5l-4 3h-5zM1386 860l4 -3h5v5l-4 3h-5zM1390 857l5 -4h5v5l-5 4h-5zM1395 853l4 -3h5v5l-4 3h-5zM1399 850l4 -4h5v5l-4 4h-5zM1403 846l4 -3h5v5l-4 3h-5zM1407 843l4 -3h5v5l-4 3h-5zM1411 840l4 -4h5v5l-4 4h-5zM1415 836l4 -3h5v5l-4 3h-5zM1419 833l5 -5h5v5l-5 5h-5zM1424 828l4 -3h5v5l-4 3h-5zM1428 825l4 -4h5v5l-4 4h-5zM1432 821l4 -4h5v5l-4 4h-5zM1436 817l4 -4h5v5l-4 4h-5zM1440 813l5 -4h5v5l-5 4h-5zM1445 809l4 -4h5v5l-4 4h-5zM1449 805l4 -4h5v5l-4 4h-5zM1453 801l4 -4h5v5l-4 4h-5zM1457 797l4 -4h5v5l-4 4h-5zM1461 793l4 -4h5v5l-4 4h-5zM1465 789l4 -4h5v5l-4 4h-5zM1469 785l5 -5h5v5l-5 5h-5zM1474 780l4 -4h5v5l-4 4h-5zM1478 776l4 -4h5v5l-4 4h-5zM1482 772l4 -4h5v5l-4 4h-5zM1486 768l4 -4h5v5l-4 4h-5zM1490 760l5 -4h5v5l-5 4h-5zM1495 756l4 -4h5v5l-4 4h-5zM1499 752l4 -4h5v5l-4 4h-5zM1503 748l4 -4h5v5l-4 4h-5zM1507 744l4 -4h5v5l-4 4h-5zM1511 736l4 -3h5v5l-4 3h-5zM1515 733l4 -4h5v5l-4 4h-5zM1519 729l5 -5h5v5l-5 5h-5zM1524 724l4 -4h5v5l-4 4h-5zM1528 716l4 -4h5v5l-4 4h-5zM1532 712l4 -4h5v5l-4 4h-5zM1536 708l4 -4h5v5l-4 4h-5zM1540 704l5 -5h5v5l-5 5h-5zM1545 695l4 -4h5v5l-4 4h-5zM1549 691l4 -4h5v5l-4 4h-5zM1553 687l4 -4h5v5l-4 4h-5zM1557 679l4 -4h5v5l-4 4h-5zM1561 675l4 -4h5v5l-4 4h-5zM1565 671l4 -4h5v5l-4 4h-5zM1569 663l5 -5h5v5l-5 5h-5zM1574 658l4 -4h5v5l-4 4h-5zM1578 650l4 -4h5v5l-4 4h-5zM1582 646l4 -4h5v5l-4 4h-5zM1586 642l4 -4h5v5l-4 4h-5zM1590 634l5 -5h5v5l-5 5h-5zM1595 629l4 -4h5v5l-4 4h-5zM1599 621l4 -4h5v5l-4 4h-5zM1603 617l4 -4h5v5l-4 4h-5zM1607 609l4 -4h5v5l-4 4h-5zM1611 605l4 -4h5v5l-4 4h-5zM1615 601l4 -4h5v5l-4 4h-5zM1619 593l5 -5h5v5l-5 5h-5zM1624 584l4 -4h5v5l-4 4h-5zM1628 580l4 -4h5v5l-4 4h-5zM1632 572l4 -4h5v5l-4 4h-5zM1636 568l4 -4h5v5l-4 4h-5zM1640 560l5 -5h5v5l-5 5h-5zM1645 555l4 -4h5v5l-4 4h-5zM1649 547l4 -4h5v5l-4 4h-5zM1653 543l4 -4h5v5l-4 4h-5zM1657 535l4 -4h5v5l-4 4h-5zM1661 531l4 -4h5v5l-4 4h-5zM1665 523l4 -4h5v5l-4 4h-5zM1669 519l5 -5h5v5l-5 5h-5zM1674 510l4 -4h5v5l-4 4h-5zM1678 502l4 -4h5v5l-4 4h-5zM1682 498l4 -4h5v5l-4 4h-5zM1686 490l4 -4h5v5l-4 4h-5zM1690 486l5 -5h5v5l-5 5h-5zM1695 477l4 -4h5v5l-4 4h-5zM1699 469l4 -4h5v5l-4 4h-5zM1703 465l4 -4h5v5l-4 4h-5zM1707 457l4 -4h5v5l-4 4h-5zM1711 453l4 -4h5v5l-4 4h-5zM1715 445l4 -4h5v5l-4 4h-5zM1719 437l5 -5h5v5l-5 5h-5zM1724 432l4 -4h5v5l-4 4h-5zM1728 424l4 -4h5v5l-4 4h-5zM1732 420l4 -4h5v5l-4 4h-5zM1736 412l4 -4h5v5l-4 4h-5zM1740 404l5 -5h5v5l-5 5h-5zM1745 399l4 -4h5v5l-4 4h-5zM1749 391l4 -4h5v5l-4 4h-5zM1753 387l4 -4h5v5l-4 4h-5zM1757 379l4 -4h5v5l-4 4h-5zM1761 375l4 -4h5v5l-4 4h-5zM1765 367l4 -4h5v5l-4 4h-5zM1769 359l5 -5h5v5l-5 5h-5zM1774 354l4 -4h5v5l-4 4h-5zM1778 346l4 -4h5v5l-4 4h-5zM1782 342l4 -4h5v5l-4 4h-5zM1786 334l4 -4h5v5l-4 4h-5zM1790 330l5 -5h5v5l-5 5h-5zM1795 321l4 -4h5v5l-4 4h-5zM1799 317l4 -4h5v5l-4 4h-5zM1803 309l4 -4h5v5l-4 4h-5zM1807 305l4 -4h5v5l-4 4h-5zM1811 297l4 -4h5v5l-4 4h-5zM1815 293l4 -4h5v5l-4 4h-5zM1819 285l5 -5h5v5l-5 5h-5zM1824 280l4 -4h5v5l-4 4h-5zM1828 272l4 -4h5v5l-4 4h-5zM1832 268l4 -4h5v5l-4 4h-5zM1836 260l4 -4h5v5l-4 4h-5zM1840 256l5 -5h5v5l-5 5h-5zM1845 251l4 -4h5v5l-4 4h-5zM1849 243l4 -4h5v5l-4 4h-5zM1853 239l4 -4h5v5l-4 4h-5zM1857 231l4 -4h5v5l-4 4h-5zM1861 227l4 -4h5v5l-4 4h-5zM1865 223l4 -4h5v5l-4 4h-5zM1869 215l5 -5h5v5l-5 5h-5zM1874 210l4 -4h5v5l-4 4h-5zM1878 206l4 -4h5v5l-4 4h-5zM1882 198l4 -3h5v5l-4 3h-5zM1886 195l4 -4h5v5l-4 4h-5zM1890 191l5 -5h5v5l-5 5h-5zM1895 182l4 -4h5v5l-4 4h-5zM1899 178l4 -4h5v5l-4 4h-5zM1903 174l4 -4h5v5l-4 4h-5zM1907 170l4 -4h5v5l-4 4h-5zM1911 166l4 -4h5v5l-4 4h-5zM1915 158l5 -5h5v5l-5 5h-5zM1920 153l4 -4h5v5l-4 4h-5zM1924 149l4 -4h5v5l-4 4h-5zM1928 145l4 -4h5v5l-4 4h-5zM1932 141l4 -4h5v5l-4 4h-5zM1936 137l4 -4h5v5l-4 4h-5zM1940 133l5 -5h5v5l-5 5h-5zM1945 124l4 -3h5v5l-4 3h-5zM1949 121l4 -4h5v5l-4 4h-5zM1953 117l4 -4h5v5l-4 4h-5zM1957 113l4 -4h5v5l-4 4h-5zM1961 109l4 -4h5v5l-4 4h-5zM1965 105l5 -5h5v5l-5 5h-5zM1970 100l4 -4h5v5l-4 4h-5zM1974 96l4 -4h5v5l-4 4h-5zM1978 92l4 -4h5v5l-4 4h-5zM1982 88l4 -4h5v5l-4 4h-5z" fill="#ff6600"/>
</g>
<path fill="#ff6600" fill-rule="evenodd" d="M1870 196.5L1888.5 215L1870 233.5L1851.5 215zM1870 205L1860 215L1870 225L1880 215z"/>
<path fill="#ff6600" fill-rule="evenodd" d="M1730 412.7L1748.5 431.2L1730 449.7L1711.5 431.2zM1730 421.2L1720 431.2L1730 441.2L1740 431.2z"/>
<path fill="#ff6600" fill-rule="evenodd" d="M1585.5 614L1604 632.5L1585.5 651L1567 632.5zM1585.5 622.5L1575.5 632.5L1585.5 642.5L1595.5 632.5z"/>
<path fill="#ff6600" fill-rule="evenodd" d="M1445.5 807L1464 825.5L1445.5 844L1427 825.5zM1445.5 815.5L1435.5 825.5L1445.5 835.5L1455.5 825.5z"/>
<path fill="#ff6600" fill-rule="evenodd" d="M1301 893L1319.5 911.5L1301 930L1282.5 911.5zM1301 901.5L1291 911.5L1301 921.5L1311 911.5z"/>
<path fill="#ff6600" fill-rule="evenodd" d="M1156.4 963.5L1174.9 982L1156.4 1000.5L1137.9 982zM1156.4 972L1146.4 982L1156.4 992L1166.4 982z"/>
<path fill="#ff6600" fill-rule="evenodd" d="M1016.4 975.5L1034.9 994L1016.4 1012.5L997.9 994zM1016.4 984L1006.4 994L1016.4 1004L1026.4 994z"/>
<path fill="#ff6600" fill-rule="evenodd" d="M872.5 1002.9L891 1021.4L872.5 1039.9L854 1021.4zM872.5 1011.4L862.5 1021.4L872.5 1031.4L882.5 1021.4z"/>
<path fill="#ff6600" fill-rule="evenodd" d="M731.5 1000L750 1018.5L731.5 1037L713 1018.5zM731.5 1008.5L721.5 1018.5L731.5 1028.5L741.5 1018.5z"/>
<path fill="#ff6600" fill-rule="evenodd" d="M587.5 1011L606 1029.5L587.5 1048L569 1029.5zM587.5 1019.5L577.5 1029.5L587.5 1039.5L597.5 1029.5z"/>
</g>
<g>
<g clip-path="url(#cp)" shape-rendering="crispEdges">
<path d="M307 1033h8v5h-8zM311 1033h8v5h-8zM315 1032h8v5h-8zM319 1032h8v5h-8zM324 1032h8v5h-8zM328 1032h8v5h-8zM332 1032h8v5h-8zM336 1032h8v5h-8zM340 1032h8v5h-8zM345 1032h8v5h-8zM349 1032h8v5h-8zM353 1032h8v5h-8zM357 1032h8v5h-8zM361 1032h8v5h-8zM365 1032h8v5h-8zM370 1032h8v5h-8zM374 1032h8v5h-8zM378 1032h8v5h-8zM382 1032h8v5h-8zM386 1032h8v5h-8zM390 1032h8v5h-8zM395 1032h8v5h-8zM399 1032h8v5h-8zM403 1032h8v5h-8zM407 1032h8v5h-8zM411 1032h8v5h-8zM415 1032h8v5h-8zM420 1032h8v5h-8zM424 1032h8v5h-8zM428 1032h8v5h-8zM432 1032h8v5h-8zM436 1032h8v5h-8zM440 1032h8v5h-8zM445 1032h8v5h-8zM449 1032h8v5h-8zM453 1032h8v5h-8zM457 1031h8v5h-8zM461 1031h8v5h-8zM465 1031h8v5h-8zM469 1031h8v5h-8zM474 1031h8v5h-8zM478 1031h8v5h-8zM482 1031h8v5h-8zM486 1031h8v5h-8zM490 1031h8v5h-8zM495 1031h8v5h-8zM499 1031h8v5h-8zM503 1031h8v5h-8zM507 1031h8v5h-8zM511 1031h8v5h-8zM515 1031h8v5h-8zM520 1031h8v5h-8zM524 1031h8v5h-8zM528 1031h8v5h-8zM532 1031h8v5h-8zM536 1031h8v5h-8zM540 1030h8v5h-8zM545 1030h8v5h-8zM549 1030h8v5h-8zM553 1030h8v5h-8zM557 1030h8v5h-8zM561 1030h8v5h-8zM565 1030h8v5h-8zM569 1030h8v5h-8zM574 1030h8v5h-8zM578 1030h8v5h-8zM582 1030h8v5h-8zM586 1030h8v5h-8zM590 1030h8v5h-8zM595 1030h8v5h-8zM599 1029h8v5h-8zM603 1029h8v5h-8zM607 1029h8v5h-8zM611 1029h8v5h-8zM615 1029h8v5h-8zM619 1029h8v5h-8zM624 1029h8v5h-8zM628 1029h8v5h-8zM632 1029h8v5h-8zM636 1029h8v5h-8zM640 1029h8v5h-8zM645 1028h8v5h-8zM649 1028h8v5h-8zM653 1028h8v5h-8zM657 1028h8v5h-8zM661 1028h8v5h-8zM665 1028h8v5h-8zM669 1028h8v5h-8zM674 1028h8v5h-8zM678 1028h8v5h-8zM682 1027h8v5h-8zM686 1027h8v5h-8zM690 1027h8v5h-8zM695 1027h8v5h-8zM699 1027h8v5h-8zM703 1027h8v5h-8zM707 1027h8v5h-8zM711 1027h8v5h-8zM715 1026h8v5h-8zM720 1026h8v5h-8zM724 1026h8v5h-8zM728 1026h8v5h-8zM732 1026h8v5h-8zM736 1026h8v5h-8zM740 1026h8v5h-8zM745 1025h8v5h-8zM749 1025h8v5h-8zM753 1025h8v5h-8zM757 1025h8v5h-8zM761 1025h8v5h-8zM765 1025h8v5h-8zM770 1024h8v5h-8zM774 1024h8v5h-8zM778 1024h8v5h-8zM782 1024h8v5h-8zM786 1024h8v5h-8zM790 1023h8v5h-8zM795 1023h8v5h-8zM799 1023h8v5h-8zM803 1023h8v5h-8zM807 1023h8v5h-8zM811 1022h8v5h-8zM815 1022h8v5h-8zM819 1022h8v5h-8zM824 1022h8v5h-8zM828 1021h8v5h-8zM832 1021h8v5h-8zM836 1021h8v5h-8zM840 1021h8v5h-8zM845 1020h8v5h-8zM849 1020h8v5h-8zM853 1020h8v5h-8zM857 1020h8v5h-8zM861 1019h8v5h-8zM865 1019h8v5h-8zM869 1019h8v5h-8zM874 1018h8v5h-8zM878 1018h8v5h-8zM882 1018h8v5h-8zM886 1018h8v5h-8zM890 1017h8v5h-8zM895 1017h8v5h-8zM899 1017h8v5h-8zM903 1016h8v5h-8zM907 1016h8v5h-8zM911 1016h8v5h-8zM915 1015h8v5h-8zM919 1015h8v5h-8zM924 1014h8v5h-8zM928 1014h8v5h-8zM932 1014h8v5h-8zM936 1013h8v5h-8zM940 1013h8v5h-8zM945 1012h8v5h-8zM949 1012h8v5h-8zM953 1012h8v5h-8zM957 1011h8v5h-8zM961 1011h8v5h-8zM965 1010h8v5h-8zM969 1010h8v5h-8zM974 1009h8v5h-8zM978 1009h8v5h-8zM982 1008h8v5h-8zM986 1008h8v5h-8zM990 1007h8v5h-8zM995 1007h8v5h-8zM999 1006h8v5h-8zM1003 1006h8v5h-8zM1007 1005h8v5h-8zM1011 1005h8v5h-8zM1015 1004h8v5h-8zM1019 1004h8v5h-8zM1024 1003h8v5h-8zM1028 1002h8v5h-8zM1032 1002h8v5h-8zM1036 1001h8v5h-8zM1040 1000h8v5h-8zM1045 1000h8v5h-8zM1049 999h8v5h-8zM1053 998h8v5h-8zM1057 998h8v5h-8zM1061 997h8v5h-8zM1065 996h8v5h-8zM1069 996h8v5h-8zM1074 995h8v5h-8zM1078 994h8v5h-8zM1082 993h8v5h-8zM1086 993h8v5h-8zM1090 992h8v5h-8zM1095 991h8v5h-8zM1099 990h8v5h-8zM1103 989h8v5h-8zM1107 988h8v5h-8zM1111 988h8v5h-8zM1115 987h8v5h-8zM1120 986h8v5h-8zM1124 985h8v5h-8zM1128 984h8v5h-8zM1132 983h8v5h-8zM1136 982h8v5h-8zM1140 981h8v5h-8zM1145 980h8v5h-8zM1149 979h8v5h-8zM1153 978h8v5h-8zM1157 977h8v5h-8zM1161 976h8v5h-8zM1165 975h8v5h-8zM1170 973h8v5h-8zM1174 972h8v5h-8zM1178 971h8v5h-8zM1182 970h8v5h-8zM1186 969h8v5h-8zM1190 967h8v5h-8zM1195 966h8v5h-8zM1199 965h8v5h-8zM1203 963h8v5h-8zM1207 962h8v5h-8zM1211 961h8v5h-8zM1215 959h8v5h-8zM1220 958h8v5h-8zM1224 956h8v5h-8zM1228 955h8v5h-8zM1232 954h8v5h-8zM1236 952h8v5h-8zM1240 951h8v5h-8zM1245 949h8v5h-8zM1249 947h8v5h-8zM1253 946h8v5h-8zM1257 944h8v5h-8zM1261 942h8v5h-8zM1265 941h8v5h-8zM1270 939h8v5h-8zM1274 937h8v5h-8zM1278 935h8v5h-8zM1282 933h8v5h-8zM1286 932h8v5h-8zM1290 930h8v5h-8zM1295 928h8v5h-8zM1299 926h8v5h-8zM1303 924h8v5h-8zM1307 922h8v5h-8zM1311 920h8v5h-8zM1315 918h8v5h-8zM1320 915h8v5h-8zM1324 913h8v5h-8zM1328 911h8v5h-8zM1332 909h8v5h-8zM1336 907h8v5h-8zM1340 905h8v5h-8zM1345 902h8v5h-8zM1349 899h8v5h-8zM1353 897h8v5h-8zM1357 895h8v5h-8zM1361 892h8v5h-8zM1365 890h8v5h-8zM1369 887h8v5h-8zM1374 884h8v5h-8zM1378 882h8v5h-8zM1382 879h8v5h-8zM1386 877h8v5h-8zM1390 874h8v5h-8zM1395 870h8v5h-8zM1399 868h8v5h-8zM1403 865h8v5h-8zM1407 862h8v5h-8zM1411 859h8v5h-8zM1415 856h8v5h-8zM1419 853h8v5h-8zM1424 850h8v5h-8zM1428 847h8v5h-8zM1432 843h8v5h-8zM1436 840h8v5h-8zM1440 837h8v5h-8zM1445 833h8v5h-8zM1449 830h8v5h-8zM1453 827h8v5h-8zM1457 823h8v5h-8zM1461 820h8v5h-8zM1465 816h8v5h-8zM1469 813h8v5h-8zM1474 808h8v5h-8zM1478 805h8v5h-8zM1482 801h8v5h-8zM1486 798h8v5h-8zM1490 794h8v5h-8zM1495 789h8v5h-8zM1499 785h8v5h-8zM1503 781h8v5h-8zM1507 777h8v5h-8zM1511 773h8v5h-8zM1515 769h8v5h-8zM1519 765h8v5h-8zM1524 760h8v5h-8zM1528 756h8v5h-8zM1532 752h8v5h-8zM1536 748h8v5h-8zM1540 744h8v5h-8zM1545 739h8v5h-8zM1549 735h8v5h-8zM1553 731h8v5h-8zM1557 723h8v9h-8zM1561 720h8v5h-8zM1565 716h8v5h-8zM1569 712h8v5h-8zM1574 707h8v5h-8zM1578 699h8v9h-8zM1582 696h8v5h-8zM1586 692h8v5h-8zM1590 688h8v5h-8zM1595 679h8v9h-8zM1599 675h8v5h-8zM1603 671h8v5h-8zM1607 667h8v5h-8zM1611 659h8v9h-8zM1615 655h8v5h-8zM1619 651h8v5h-8zM1624 642h8v9h-8zM1628 638h8v5h-8zM1632 634h8v5h-8zM1636 626h8v9h-8zM1640 622h8v5h-8zM1645 617h8v5h-8zM1649 609h8v9h-8zM1653 605h8v5h-8zM1657 597h8v9h-8zM1661 593h8v5h-8zM1665 589h8v5h-8zM1669 581h8v9h-8zM1674 576h8v5h-8zM1678 568h8v9h-8zM1682 564h8v5h-8zM1686 560h8v5h-8zM1690 552h8v9h-8zM1695 547h8v5h-8zM1699 539h8v9h-8zM1703 535h8v5h-8zM1707 527h8v9h-8zM1711 523h8v5h-8zM1715 515h8v9h-8zM1719 511h8v5h-8zM1724 502h8v9h-8zM1728 498h8v5h-8zM1732 490h8v9h-8zM1736 486h8v5h-8zM1740 478h8v9h-8zM1745 469h8v9h-8zM1749 465h8v5h-8zM1753 457h8v9h-8zM1757 453h8v5h-8zM1761 445h8v9h-8zM1765 441h8v5h-8zM1769 433h8v9h-8zM1774 428h8v5h-8zM1778 420h8v9h-8zM1782 416h8v5h-8zM1786 408h8v9h-8zM1790 400h8v9h-8zM1795 395h8v5h-8zM1799 387h8v9h-8zM1803 383h8v5h-8zM1807 375h8v9h-8zM1811 371h8v5h-8zM1815 363h8v9h-8zM1819 359h8v5h-8zM1824 350h8v9h-8zM1828 342h8v9h-8zM1832 338h8v5h-8zM1836 330h8v9h-8zM1840 326h8v5h-8zM1845 317h8v9h-8zM1849 313h8v5h-8zM1853 305h8v9h-8zM1857 301h8v5h-8zM1861 293h8v9h-8zM1865 289h8v5h-8zM1869 281h8v9h-8zM1874 276h8v5h-8zM1878 268h8v9h-8zM1882 264h8v5h-8zM1886 256h8v9h-8zM1890 252h8v5h-8zM1895 243h8v9h-8zM1899 239h8v5h-8zM1903 231h8v9h-8zM1907 227h8v5h-8zM1911 219h8v9h-8zM1915 215h8v5h-8zM1920 206h8v9h-8zM1924 202h8v5h-8zM1928 198h8v5h-8zM1932 190h8v9h-8zM1936 186h8v5h-8zM1940 178h8v9h-8zM1945 173h8v5h-8zM1949 169h8v5h-8zM1953 161h8v9h-8zM1957 157h8v5h-8zM1961 153h8v5h-8zM1965 145h8v9h-8zM1970 140h8v5h-8zM1974 136h8v5h-8zM1978 128h8v9h-8zM1982 125h8v5h-8zM1986 121h8v5h-8zM1990 113h8v9h-8zM1995 108h8v5h-8zM1999 104h8v5h-8zM2003 100h8v5h-8zM2007 92h8v9h-8zM2011 89h8v5h-8zM2015 85h8v5h-8z" fill="#b00060"/>
<path d="M307 1036h4v1h-4zM315 1036h4v1h-4zM319 1036h5v1h-5zM324 1036h4v1h-4zM328 1036h4v1h-4zM332 1036h4v1h-4zM336 1036h4v1h-4zM340 1036h5v1h-5zM345 1036h4v1h-4zM349 1036h4v1h-4zM353 1036h4v1h-4zM357 1036h4v1h-4zM361 1036h4v1h-4zM365 1036h5v1h-5zM370 1036h4v1h-4zM374 1036h4v1h-4zM378 1036h4v1h-4zM382 1036h4v1h-4zM386 1036h4v1h-4zM390 1036h5v1h-5zM395 1036h4v1h-4zM399 1036h4v1h-4zM403 1036h4v1h-4zM407 1036h4v1h-4zM411 1036h4v1h-4zM415 1036h5v1h-5zM420 1036h4v1h-4zM424 1036h4v1h-4zM428 1036h4v1h-4zM432 1036h4v1h-4zM436 1036h4v1h-4zM440 1036h5v1h-5zM445 1036h4v1h-4zM449 1036h4v1h-4zM645 1028h4v1h-4zM649 1028h4v1h-4zM653 1028h4v1h-4zM657 1028h4v1h-4zM661 1028h4v1h-4zM665 1028h4v1h-4zM669 1028h5v1h-5zM674 1028h4v1h-4zM682 1028h4v1h-4zM686 1028h4v1h-4zM690 1028h5v1h-5zM695 1028h4v1h-4zM699 1028h4v1h-4zM703 1028h4v1h-4zM707 1028h4v1h-4zM715 1028h5v1h-5zM720 1028h4v1h-4zM724 1028h4v1h-4zM728 1028h4v1h-4zM732 1028h4v1h-4zM736 1028h4v1h-4zM745 1028h4v1h-4zM749 1028h4v1h-4zM753 1028h4v1h-4zM757 1028h4v1h-4zM761 1028h4v1h-4zM770 1028h4v1h-4zM774 1028h4v1h-4zM778 1028h4v1h-4zM782 1028h4v1h-4zM845 1020h4v1h-4zM849 1020h4v1h-4zM853 1020h4v1h-4zM861 1020h4v1h-4zM865 1020h4v1h-4zM874 1020h4v1h-4zM878 1020h4v1h-4zM882 1020h4v1h-4zM890 1020h5v1h-5zM895 1020h4v1h-4zM903 1020h4v1h-4zM907 1020h4v1h-4zM945 1012h4v1h-4zM949 1012h4v1h-4zM957 1012h4v1h-4zM965 1012h4v1h-4zM974 1012h4v1h-4zM982 1012h4v1h-4zM1015 1004h4v1h-4zM1028 1004h4v1h-4zM1040 1004h5v1h-5zM1065 996h4v1h-4zM1082 996h4v1h-4zM1107 988h4v1h-4zM1493 796h5v1h-5zM1501 788h6v1h-6zM1509 780h6v1h-6zM1517 772h6v1h-6zM1525 764h7v1h-7zM1533 756h7v1h-7zM1541 748h7v1h-7zM1562 724h7v1h-7zM1570 716h7v1h-7zM1583 700h7v1h-7zM1591 692h7v1h-7zM1595 684h8v1h-8zM1623 652h4v1h-4zM1627 644h5v1h-5zM1635 636h5v1h-5zM1639 628h5v1h-5zM1647 620h6v1h-6zM1651 612h6v1h-6zM1657 604h8v1h-8zM1663 596h6v1h-6zM1669 588h8v1h-8zM1675 580h7v1h-7zM1679 572h7v1h-7zM1687 564h7v1h-7zM1691 556h7v1h-7zM1707 532h8v1h-8zM1724 508h8v1h-8zM1731 500h5v1h-5zM1735 492h5v1h-5zM1740 484h8v1h-8zM1745 476h8v1h-8zM1751 468h6v1h-6zM1755 460h6v1h-6zM1761 452h8v1h-8zM1767 444h6v1h-6zM1771 436h6v1h-6zM1778 428h8v1h-8zM1783 420h7v1h-7zM1787 412h7v1h-7zM1791 404h7v1h-7zM1807 380h8v1h-8zM1824 356h8v1h-8zM1828 348h8v1h-8zM1835 340h5v1h-5zM1839 332h5v1h-5zM1845 324h8v1h-8zM1851 316h6v1h-6zM1855 308h6v1h-6zM1861 300h8v1h-8zM1867 292h6v1h-6zM1871 284h6v1h-6zM1878 276h8v1h-8zM1883 268h7v1h-7zM1887 260h7v1h-7zM1903 236h8v1h-8zM1920 212h8v1h-8zM1927 204h5v1h-5zM1932 196h8v1h-8zM1939 188h5v1h-5zM1943 180h5v1h-5zM1951 172h6v1h-6zM1955 164h6v1h-6zM1963 156h6v1h-6zM1967 148h6v1h-6zM1975 140h7v1h-7zM1988 124h6v1h-6zM1992 116h6v1h-6zM2000 108h7v1h-7zM2013 92h6v1h-6z" fill="#fff"/>
<path d="M307 1033h9v5h-9zM311 1033l4 -1h5v5l-4 1h-5zM315 1032h9v5h-9zM319 1032h10v5h-10zM324 1032h9v5h-9zM328 1032h9v5h-9zM332 1032h9v5h-9zM336 1032h9v5h-9zM340 1032h10v5h-10zM345 1032h9v5h-9zM349 1032h9v5h-9zM353 1032h9v5h-9zM357 1032h9v5h-9zM361 1032h9v5h-9zM365 1032h10v5h-10zM370 1032h9v5h-9zM374 1032h9v5h-9zM378 1032h9v5h-9zM382 1032h9v5h-9zM386 1032h9v5h-9zM390 1032h10v5h-10zM395 1032h9v5h-9zM399 1032h9v5h-9zM403 1032h9v5h-9zM407 1032h9v5h-9zM411 1032h9v5h-9zM415 1032h10v5h-10zM420 1032h9v5h-9zM424 1032h9v5h-9zM428 1032h9v5h-9zM432 1032h9v5h-9zM436 1032h9v5h-9zM440 1032h10v5h-10zM445 1032h9v5h-9zM449 1032h9v5h-9zM453 1032l4 -1h5v5l-4 1h-5zM457 1031h9v5h-9zM461 1031h9v5h-9zM465 1031h9v5h-9zM469 1031h10v5h-10zM474 1031h9v5h-9zM478 1031h9v5h-9zM482 1031h9v5h-9zM486 1031h9v5h-9zM490 1031h10v5h-10zM495 1031h9v5h-9zM499 1031h9v5h-9zM503 1031h9v5h-9zM507 1031h9v5h-9zM511 1031h9v5h-9zM515 1031h10v5h-10zM520 1031h9v5h-9zM524 1031h9v5h-9zM528 1031h9v5h-9zM532 1031h9v5h-9zM536 1031l4 -1h5v5l-4 1h-5zM540 1030h10v5h-10zM545 1030h9v5h-9zM549 1030h9v5h-9zM553 1030h9v5h-9zM557 1030h9v5h-9zM561 1030h9v5h-9zM565 1030h9v5h-9zM569 1030h10v5h-10zM574 1030h9v5h-9zM578 1030h9v5h-9zM582 1030h9v5h-9zM586 1030h9v5h-9zM590 1030h10v5h-10zM595 1030l4 -1h5v5l-4 1h-5zM599 1029h9v5h-9zM603 1029h9v5h-9zM607 1029h9v5h-9zM611 1029h9v5h-9zM615 1029h9v5h-9zM619 1029h10v5h-10zM624 1029h9v5h-9zM628 1029h9v5h-9zM632 1029h9v5h-9zM636 1029h9v5h-9zM640 1029l5 -1h5v5l-5 1h-5zM645 1028h9v5h-9zM649 1028h9v5h-9zM653 1028h9v5h-9zM657 1028h9v5h-9zM661 1028h9v5h-9zM665 1028h9v5h-9zM669 1028h10v5h-10zM674 1028h9v5h-9zM678 1028l4 -1h5v5l-4 1h-5zM682 1027h9v5h-9zM686 1027h9v5h-9zM690 1027h10v5h-10zM695 1027h9v5h-9zM699 1027h9v5h-9zM703 1027h9v5h-9zM707 1027h9v5h-9zM711 1027l4 -1h5v5l-4 1h-5zM715 1026h10v5h-10zM720 1026h9v5h-9zM724 1026h9v5h-9zM728 1026h9v5h-9zM732 1026h9v5h-9zM736 1026h9v5h-9zM740 1026l5 -1h5v5l-5 1h-5zM745 1025h9v5h-9zM749 1025h9v5h-9zM753 1025h9v5h-9zM757 1025h9v5h-9zM761 1025h9v5h-9zM765 1025l5 -1h5v5l-5 1h-5zM770 1024h9v5h-9zM774 1024h9v5h-9zM778 1024h9v5h-9zM782 1024h9v5h-9zM786 1024l4 -1h5v5l-4 1h-5zM790 1023h10v5h-10zM795 1023h9v5h-9zM799 1023h9v5h-9zM803 1023h9v5h-9zM807 1023l4 -1h5v5l-4 1h-5zM811 1022h9v5h-9zM815 1022h9v5h-9zM819 1022h10v5h-10zM824 1022l4 -1h5v5l-4 1h-5zM828 1021h9v5h-9zM832 1021h9v5h-9zM836 1021h9v5h-9zM840 1021l5 -1h5v5l-5 1h-5zM845 1020h9v5h-9zM849 1020h9v5h-9zM853 1020h9v5h-9zM857 1020l4 -1h5v5l-4 1h-5zM861 1019h9v5h-9zM865 1019h9v5h-9zM869 1019l5 -1h5v5l-5 1h-5zM874 1018h9v5h-9zM878 1018h9v5h-9zM882 1018h9v5h-9zM886 1018l4 -1h5v5l-4 1h-5zM890 1017h10v5h-10zM895 1017h9v5h-9zM899 1017l4 -1h5v5l-4 1h-5zM903 1016h9v5h-9zM907 1016h9v5h-9zM911 1016l4 -1h5v5l-4 1h-5zM915 1015h9v5h-9zM919 1015l5 -1h5v5l-5 1h-5zM924 1014h9v5h-9zM928 1014h9v5h-9zM932 1014l4 -1h5v5l-4 1h-5zM936 1013h9v5h-9zM940 1013l5 -1h5v5l-5 1h-5zM945 1012h9v5h-9zM949 1012h9v5h-9zM953 1012l4 -1h5v5l-4 1h-5zM957 1011h9v5h-9zM961 1011l4 -1h5v5l-4 1h-5zM965 1010h9v5h-9zM969 1010l5 -1h5v5l-5 1h-5zM974 1009h9v5h-9zM978 1009l4 -1h5v5l-4 1h-5zM982 1008h9v5h-9zM986 1008l4 -1h5v5l-4 1h-5zM990 1007h10v5h-10zM995 1007l4 -1h5v5l-4 1h-5zM999 1006h9v5h-9zM1003 1006l4 -1h5v5l-4 1h-5zM1007 1005h9v5h-9zM1011 1005l4 -1h5v5l-4 1h-5zM1015 1004h9v5h-9zM1019 1004l5 -1h5v5l-5 1h-5zM1024 1003l4 -1h5v5l-4 1h-5zM1028 1002h9v5h-9zM1032 1002l4 -1h5v5l-4 1h-5zM1036 1001l4 -1h5v5l-4 1h-5zM1040 1000h10v5h-10zM1045 1000l4 -1h5v5l-4 1h-5zM1049 999l4 -1h5v5l-4 1h-5zM1053 998h9v5h-9zM1057 998l4 -1h5v5l-4 1h-5zM1061 997l4 -1h5v5l-4 1h-5zM1065 996h9v5h-9zM1069 996l5 -1h5v5l-5 1h-5zM1074 995l4 -1h5v5l-4 1h-5zM1078 994l4 -1h5v5l-4 1h-5zM1082 993h9v5h-9zM1086 993l4 -1h5v5l-4 1h-5zM1090 992l5 -1h5v5l-5 1h-5zM1095 991l4 -1h5v5l-4 1h-5zM1099 990l4 -1h5v5l-4 1h-5zM1103 989l4 -1h5v5l-4 1h-5zM1107 988h9v5h-9zM1111 988l4 -1h5v5l-4 1h-5zM1115 987l5 -1h5v5l-5 1h-5zM1120 986l4 -1h5v5l-4 1h-5zM1124 985l4 -1h5v5l-4 1h-5zM1128 984l4 -1h5v5l-4 1h-5zM1132 983l4 -1h5v5l-4 1h-5zM1136 982l4 -1h5v5l-4 1h-5zM1140 981l5 -1h5v5l-5 1h-5zM1145 980l4 -1h5v5l-4 1h-5zM1149 979l4 -1h5v5l-4 1h-5zM1153 978l4 -1h5v5l-4 1h-5zM1157 977l4 -1h5v5l-4 1h-5zM1161 976l4 -1h5v5l-4 1h-5zM1165 975l5 -2h5v5l-5 2h-5zM1170 973l4 -1h5v5l-4 1h-5zM1174 972l4 -1h5v5l-4 1h-5zM1178 971l4 -1h5v5l-4 1h-5zM1182 970l4 -1h5v5l-4 1h-5zM1186 969l4 -2h5v5l-4 2h-5zM1190 967l5 -1h5v5l-5 1h-5zM1195 966l4 -1h5v5l-4 1h-5zM1199 965l4 -2h5v5l-4 2h-5zM1203 963l4 -1h5v5l-4 1h-5zM1207 962l4 -1h5v5l-4 1h-5zM1211 961l4 -2h5v5l-4 2h-5zM1215 959l5 -1h5v5l-5 1h-5zM1220 958l4 -2h5v5l-4 2h-5zM1224 956l4 -1h5v5l-4 1h-5zM1228 955l4 -1h5v5l-4 1h-5zM1232 954l4 -2h5v5l-4 2h-5zM1236 952l4 -1h5v5l-4 1h-5zM1240 951l5 -2h5v5l-5 2h-5zM1245 949l4 -2h5v5l-4 2h-5zM1249 947l4 -1h5v5l-4 1h-5zM1253 946l4 -2h5v5l-4 2h-5zM1257 944l4 -2h5v5l-4 2h-5zM1261 942l4 -1h5v5l-4 1h-5zM1265 941l5 -2h5v5l-5 2h-5zM1270 939l4 -2h5v5l-4 2h-5zM1274 937l4 -2h5v5l-4 2h-5zM1278 935l4 -2h5v5l-4 2h-5zM1282 933l4 -1h5v5l-4 1h-5zM1286 932l4 -2h5v5l-4 2h-5zM1290 930l5 -2h5v5l-5 2h-5zM1295 928l4 -2h5v5l-4 2h-5zM1299 926l4 -2h5v5l-4 2h-5zM1303 924l4 -2h5v5l-4 2h-5zM1307 922l4 -2h5v5l-4 2h-5zM1311 920l4 -2h5v5l-4 2h-5zM1315 918l5 -3h5v5l-5 3h-5zM1320 915l4 -2h5v5l-4 2h-5zM1324 913l4 -2h5v5l-4 2h-5zM1328 911l4 -2h5v5l-4 2h-5zM1332 909l4 -2h5v5l-4 2h-5zM1336 907l4 -2h5v5l-4 2h-5zM1340 905l5 -3h5v5l-5 3h-5zM1345 902l4 -3h5v5l-4 3h-5zM1349 899l4 -2h5v5l-4 2h-5zM1353 897l4 -2h5v5l-4 2h-5zM1357 895l4 -3h5v5l-4 3h-5zM1361 892l4 -2h5v5l-4 2h-5zM1365 890l4 -3h5v5l-4 3h-5zM1369 887l5 -3h5v5l-5 3h-5zM1374 884l4 -2h5v5l-4 2h-5zM1378 882l4 -3h5v5l-4 3h-5zM1382 879l4 -2h5v5l-4 2h-5zM1386 877l4 -3h5v5l-4 3h-5zM1390 874l5 -4h5v5l-5 4h-5zM1395 870l4 -2h5v5l-4 2h-5zM1399 868l4 -3h5v5l-4 3h-5zM1403 865l4 -3h5v5l-4 3h-5zM1407 862l4 -3h5v5l-4 3h-5zM1411 859l4 -3h5v5l-4 3h-5zM1415 856l4 -3h5v5l-4 3h-5zM1419 853l5 -3h5v5l-5 3h-5zM1424 850l4 -3h5v5l-4 3h-5zM1428 847l4 -4h5v5l-4 4h-5zM1432 843l4 -3h5v5l-4 3h-5zM1436 840l4 -3h5v5l-4 3h-5zM1440 837l5 -4h5v5l-5 4h-5zM1445 833l4 -3h5v5l-4 3h-5zM1449 830l4 -3h5v5l-4 3h-5zM1453 827l4 -4h5v5l-4 4h-5zM1457 823l4 -3h5v5l-4 3h-5zM1461 820l4 -4h5v5l-4 4h-5zM1465 816l4 -3h5v5l-4 3h-5zM1469 813l5 -5h5v5l-5 5h-5zM1474 808l4 -3h5v5l-4 3h-5zM1478 805l4 -4h5v5l-4 4h-5zM1482 801l4 -3h5v5l-4 3h-5zM1486 798l4 -4h5v5l-4 4h-5zM1490 794l5 -5h5v5l-5 5h-5zM1495 789l4 -4h5v5l-4 4h-5zM1499 785l4 -4h5v5l-4 4h-5zM1503 781l4 -4h5v5l-4 4h-5zM1507 777l4 -4h5v5l-4 4h-5zM1511 773l4 -4h5v5l-4 4h-5zM1515 769l4 -4h5v5l-4 4h-5zM1519 765l5 -5h5v5l-5 5h-5zM1524 760l4 -4h5v5l-4 4h-5zM1528 756l4 -4h5v5l-4 4h-5zM1532 752l4 -4h5v5l-4 4h-5zM1536 748l4 -4h5v5l-4 4h-5zM1540 744l5 -5h5v5l-5 5h-5zM1545 739l4 -4h5v5l-4 4h-5zM1549 735l4 -4h5v5l-4 4h-5zM1553 731l4 -4h5v5l-4 4h-5zM1557 723l4 -3h5v5l-4 3h-5zM1561 720l4 -4h5v5l-4 4h-5zM1565 716l4 -4h5v5l-4 4h-5zM1569 712l5 -5h5v5l-5 5h-5zM1574 707l4 -4h5v5l-4 4h-5zM1578 699l4 -3h5v5l-4 3h-5zM1582 696l4 -4h5v5l-4 4h-5zM1586 692l4 -4h5v5l-4 4h-5zM1590 688l5 -5h5v5l-5 5h-5zM1595 679l4 -4h5v5l-4 4h-5zM1599 675l4 -4h5v5l-4 4h-5zM1603 671l4 -4h5v5l-4 4h-5zM1607 667l4 -4h5v5l-4 4h-5zM1611 659l4 -4h5v5l-4 4h-5zM1615 655l4 -4h5v5l-4 4h-5zM1619 651l5 -5h5v5l-5 5h-5zM1624 642l4 -4h5v5l-4 4h-5zM1628 638l4 -4h5v5l-4 4h-5zM1632 634l4 -4h5v5l-4 4h-5zM1636 626l4 -4h5v5l-4 4h-5zM1640 622l5 -5h5v5l-5 5h-5zM1645 617l4 -4h5v5l-4 4h-5zM1649 609l4 -4h5v5l-4 4h-5zM1653 605l4 -4h5v5l-4 4h-5zM1657 597l4 -4h5v5l-4 4h-5zM1661 593l4 -4h5v5l-4 4h-5zM1665 589l4 -4h5v5l-4 4h-5zM1669 581l5 -5h5v5l-5 5h-5zM1674 576l4 -4h5v5l-4 4h-5zM1678 568l4 -4h5v5l-4 4h-5zM1682 564l4 -4h5v5l-4 4h-5zM1686 560l4 -4h5v5l-4 4h-5zM1690 552l5 -5h5v5l-5 5h-5zM1695 547l4 -4h5v5l-4 4h-5zM1699 539l4 -4h5v5l-4 4h-5zM1703 535l4 -4h5v5l-4 4h-5zM1707 527l4 -4h5v5l-4 4h-5zM1711 523l4 -4h5v5l-4 4h-5zM1715 515l4 -4h5v5l-4 4h-5zM1719 511l5 -5h5v5l-5 5h-5zM1724 502l4 -4h5v5l-4 4h-5zM1728 498l4 -4h5v5l-4 4h-5zM1732 490l4 -4h5v5l-4 4h-5zM1736 486l4 -4h5v5l-4 4h-5zM1740 478l5 -5h5v5l-5 5h-5zM1745 469l4 -4h5v5l-4 4h-5zM1749 465l4 -4h5v5l-4 4h-5zM1753 457l4 -4h5v5l-4 4h-5zM1757 453l4 -4h5v5l-4 4h-5zM1761 445l4 -4h5v5l-4 4h-5zM1765 441l4 -4h5v5l-4 4h-5zM1769 433l5 -5h5v5l-5 5h-5zM1774 428l4 -4h5v5l-4 4h-5zM1778 420l4 -4h5v5l-4 4h-5zM1782 416l4 -4h5v5l-4 4h-5zM1786 408l4 -4h5v5l-4 4h-5zM1790 400l5 -5h5v5l-5 5h-5zM1795 395l4 -4h5v5l-4 4h-5zM1799 387l4 -4h5v5l-4 4h-5zM1803 383l4 -4h5v5l-4 4h-5zM1807 375l4 -4h5v5l-4 4h-5zM1811 371l4 -4h5v5l-4 4h-5zM1815 363l4 -4h5v5l-4 4h-5zM1819 359l5 -5h5v5l-5 5h-5zM1824 350l4 -4h5v5l-4 4h-5zM1828 342l4 -4h5v5l-4 4h-5zM1832 338l4 -4h5v5l-4 4h-5zM1836 330l4 -4h5v5l-4 4h-5zM1840 326l5 -5h5v5l-5 5h-5zM1845 317l4 -4h5v5l-4 4h-5zM1849 313l4 -4h5v5l-4 4h-5zM1853 305l4 -4h5v5l-4 4h-5zM1857 301l4 -4h5v5l-4 4h-5zM1861 293l4 -4h5v5l-4 4h-5zM1865 289l4 -4h5v5l-4 4h-5zM1869 281l5 -5h5v5l-5 5h-5zM1874 276l4 -4h5v5l-4 4h-5zM1878 268l4 -4h5v5l-4 4h-5zM1882 264l4 -4h5v5l-4 4h-5zM1886 256l4 -4h5v5l-4 4h-5zM1890 252l5 -5h5v5l-5 5h-5zM1895 243l4 -4h5v5l-4 4h-5zM1899 239l4 -4h5v5l-4 4h-5zM1903 231l4 -4h5v5l-4 4h-5zM1907 227l4 -4h5v5l-4 4h-5zM1911 219l4 -4h5v5l-4 4h-5zM1915 215l5 -5h5v5l-5 5h-5zM1920 206l4 -4h5v5l-4 4h-5zM1924 202l4 -4h5v5l-4 4h-5zM1928 198l4 -4h5v5l-4 4h-5zM1932 190l4 -4h5v5l-4 4h-5zM1936 186l4 -4h5v5l-4 4h-5zM1940 178l5 -5h5v5l-5 5h-5zM1945 173l4 -4h5v5l-4 4h-5zM1949 169l4 -4h5v5l-4 4h-5zM1953 161l4 -4h5v5l-4 4h-5zM1957 157l4 -4h5v5l-4 4h-5zM1961 153l4 -4h5v5l-4 4h-5zM1965 145l5 -5h5v5l-5 5h-5zM1970 140l4 -4h5v5l-4 4h-5zM1974 136l4 -4h5v5l-4 4h-5zM1978 128l4 -3h5v5l-4 3h-5zM1982 125l4 -4h5v5l-4 4h-5zM1986 121l4 -4h5v5l-4 4h-5zM1990 113l5 -5h5v5l-5 5h-5zM1995 108l4 -4h5v5l-4 4h-5zM1999 104l4 -4h5v5l-4 4h-5zM2003 100l4 -4h5v5l-4 4h-5zM2007 92l4 -3h5v5l-4 3h-5zM2011 89l4 -4h5v5l-4 4h-5z" fill="#b00060"/>
</g>
<path fill="url(#hpurple)" shape-rendering="crispEdges" d="M1861.2 262h17l8 8v17l-8 8h-17l-8 -8v-17z"/>
<path fill="url(#hpurple)" shape-rendering="crispEdges" d="M1721.2 490h17l8 8v17l-8 8h-17l-8 -8v-17z"/>
<path fill="url(#hpurple)" shape-rendering="crispEdges" d="M1577 668h17l8 8v17l-8 8h-17l-8 -8v-17z"/>
<path fill="url(#hpurple)" shape-rendering="crispEdges" d="M1437 825h17l8 8v17l-8 8h-17l-8 -8v-17z"/>
<path fill="url(#hpurple)" shape-rendering="crispEdges" d="M1292.5 911h17l8 8v17l-8 8h-17l-8 -8v-17z"/>
<path fill="url(#hpurple)" shape-rendering="crispEdges" d="M1148.1 972h17l8 8v17l-8 8h-17l-8 -8v-17z"/>
<path fill="url(#hpurple)" shape-rendering="crispEdges" d="M1008.1 986h17l8 8v17l-8 8h-17l-8 -8v-17z"/>
<path fill="url(#hpurple)" shape-rendering="crispEdges" d="M864.1 1006h17l8 8v17l-8 8h-17l-8 -8v-17z"/>
<path fill="url(#hpurple)" shape-rendering="crispEdges" d="M723 1010h17l8 8v17l-8 8h-17l-8 -8v-17z"/>
<path fill="url(#hpurple)" shape-rendering="crispEdges" d="M579 1014h17l8 8v17l-8 8h-17l-8 -8v-17z"/>
</g>
<g>
<g clip-path="url(#cp)" shape-rendering="crispEdges">
<path d="M21 1036h288v5h-288z" fill="#999999"/>
<path d="M23 1041h286v5h-286z" fill="#7c7c7c"/>
<path d="M307 1041h5v5h-5zM311 1041h5v5h-5zM315 1041h5v5h-5zM319 1041h5v5h-5zM324 1041h5v5h-5zM328 1041h5v5h-5zM332 1041h5v5h-5zM336 1041h5v5h-5zM340 1041h5v5h-5zM345 1041h5v5h-5zM349 1041h5v5h-5zM353 1041h5v5h-5zM357 1041h5v5h-5zM361 1041h5v5h-5zM365 1041h5v5h-5zM370 1041h5v5h-5zM374 1041h5v5h-5zM378 1040h5v5h-5zM382 1040h5v5h-5zM386 1040h5v5h-5zM390 1040h5v5h-5zM395 1040h5v5h-5zM399 1040h5v5h-5zM403 1040h5v5h-5zM407 1040h5v5h-5zM411 1040h5v5h-5zM415 1040h5v5h-5zM420 1040h5v5h-5zM424 1040h5v5h-5zM428 1040h5v5h-5zM432 1040h5v5h-5zM436 1040h5v5h-5zM440 1040h5v5h-5zM445 1040h5v5h-5zM449 1040h5v5h-5zM453 1039h5v5h-5zM457 1039h5v5h-5zM461 1039h5v5h-5zM465 1039h5v5h-5zM469 1039h5v5h-5zM474 1039h5v5h-5zM478 1039h5v5h-5zM482 1039h5v5h-5zM486 1039h5v5h-5zM490 1039h5v5h-5zM495 1039h5v5h-5zM499 1039h5v5h-5zM503 1039h5v5h-5zM507 1039h5v5h-5zM511 1038h5v5h-5zM515 1038h5v5h-5zM520 1038h5v5h-5zM524 1038h5v5h-5zM528 1038h5v5h-5zM532 1038h5v5h-5zM536 1038h5v5h-5zM540 1038h5v5h-5zM545 1038h5v5h-5zM549 1038h5v5h-5zM553 1038h5v5h-5zM557 1037h5v5h-5zM561 1037h5v5h-5zM565 1037h5v5h-5zM569 1037h5v5h-5zM574 1037h5v5h-5zM578 1037h5v5h-5zM582 1037h5v5h-5zM586 1037h5v5h-5zM590 1037h5v5h-5zM595 1037h5v5h-5zM599 1036h5v5h-5zM603 1036h5v5h-5zM607 1036h5v5h-5zM611 1036h5v5h-5zM615 1036h5v5h-5zM619 1036h5v5h-5zM624 1036h5v5h-5zM628 1036h5v5h-5zM632 1036h5v5h-5zM636 1035h5v5h-5zM640 1035h5v5h-5zM645 1035h5v5h-5zM649 1035h5v5h-5zM653 1035h5v5h-5zM657 1035h5v5h-5zM661 1035h5v5h-5zM665 1034h5v5h-5zM669 1034h5v5h-5zM674 1034h5v5h-5zM678 1034h5v5h-5zM682 1034h5v5h-5zM686 1034h5v5h-5zM690 1034h5v5h-5zM695 1033h5v5h-5zM699 1033h5v5h-5zM703 1033h5v5h-5zM707 1033h5v5h-5zM711 1033h5v5h-5zM715 1033h5v5h-5zM720 1032h5v5h-5zM724 1032h5v5h-5zM728 1032h5v5h-5zM732 1032h5v5h-5zM736 1032h5v5h-5zM740 1032h5v5h-5zM745 1031h5v5h-5zM749 1031h5v5h-5zM753 1031h5v5h-5zM757 1031h5v5h-5zM761 1031h5v5h-5zM765 1031h5v5h-5zM770 1030h5v5h-5zM774 1030h5v5h-5zM778 1030h5v5h-5zM782 1030h5v5h-5zM786 1029h5v5h-5zM790 1029h5v5h-5zM795 1029h5v5h-5zM799 1029h5v5h-5zM803 1029h5v5h-5zM807 1028h5v5h-5zM811 1028h5v5h-5zM815 1028h5v5h-5zM819 1028h5v5h-5zM824 1027h5v5h-5zM828 1027h5v5h-5zM832 1027h5v5h-5zM836 1027h5v5h-5zM840 1026h5v5h-5zM845 1026h5v5h-5zM849 1026h5v5h-5zM853 1026h5v5h-5zM857 1025h5v5h-5zM861 1025h5v5h-5zM865 1025h5v5h-5zM869 1025h5v5h-5zM874 1024h5v5h-5zM878 1024h5v5h-5zM882 1024h5v5h-5zM886 1023h5v5h-5zM890 1023h5v5h-5zM895 1023h5v5h-5zM899 1022h5v5h-5zM903 1022h5v5h-5zM907 1022h5v5h-5zM911 1022h5v5h-5zM915 1021h5v5h-5zM919 1021h5v5h-5zM924 1020h5v5h-5zM928 1020h5v5h-5zM932 1020h5v5h-5zM936 1019h5v5h-5zM940 1019h5v5h-5zM945 1019h5v5h-5zM949 1018h5v5h-5zM953 1018h5v5h-5zM957 1018h5v5h-5zM961 1017h5v5h-5zM965 1017h5v5h-5zM969 1016h5v5h-5zM974 1016h5v5h-5zM978 1016h5v5h-5zM982 1015h5v5h-5zM986 1015h5v5h-5zM990 1014h5v5h-5zM995 1014h5v5h-5zM999 1013h5v5h-5zM1003 1013h5v5h-5zM1007 1012h5v5h-5zM1011 1012h5v5h-5zM1015 1012h5v5h-5zM1019 1011h5v5h-5zM1024 1011h5v5h-5zM1028 1010h5v5h-5zM1032 1010h5v5h-5zM1036 1009h5v5h-5zM1040 1009h5v5h-5zM1045 1008h5v5h-5zM1049 1007h5v5h-5zM1053 1007h5v5h-5zM1057 1006h5v5h-5zM1061 1006h5v5h-5zM1065 1005h5v5h-5zM1069 1005h5v5h-5zM1074 1004h5v5h-5zM1078 1004h5v5h-5zM1082 1003h5v5h-5zM1086 1002h5v5h-5zM1090 1002h5v5h-5zM1095 1001h5v5h-5zM1099 1000h5v5h-5zM1103 1000h5v5h-5zM1107 999h5v5h-5zM1111 999h5v5h-5zM1115 998h5v5h-5zM1120 997h5v5h-5zM1124 996h5v5h-5zM1128 996h5v5h-5zM1132 995h5v5h-5zM1136 994h5v5h-5zM1140 994h5v5h-5zM1145 993h5v5h-5zM1149 992h5v5h-5zM1153 991h5v5h-5zM1157 991h5v5h-5zM1161 990h5v5h-5zM1165 989h5v5h-5zM1170 988h5v5h-5zM1174 987h5v5h-5zM1178 986h5v5h-5zM1182 986h5v5h-5zM1186 985h5v5h-5zM1190 984h5v5h-5zM1195 983h5v5h-5zM1199 982h5v5h-5zM1203 981h5v5h-5zM1207 980h5v5h-5zM1211 979h5v5h-5zM1215 978h5v5h-5zM1220 977h5v5h-5zM1224 976h5v5h-5zM1228 975h5v5h-5zM1232 974h5v5h-5zM1236 973h5v5h-5zM1240 972h5v5h-5zM1245 971h5v5h-5zM1249 970h5v5h-5zM1253 969h5v5h-5zM1257 968h5v5h-5zM1261 967h5v5h-5zM1265 966h5v5h-5zM1270 965h5v5h-5zM1274 963h5v5h-5zM1278 962h5v5h-5zM1282 961h5v5h-5zM1286 960h5v5h-5zM1290 959h5v5h-5zM1295 957h5v5h-5zM1299 956h5v5h-5zM1303 955h5v5h-5zM1307 953h5v5h-5zM1311 952h5v5h-5zM1315 951h5v5h-5zM1320 949h5v5h-5zM1324 948h5v5h-5zM1328 947h5v5h-5zM1332 945h5v5h-5zM1336 944h5v5h-5zM1340 942h5v5h-5zM1345 941h5v5h-5zM1349 939h5v5h-5zM1353 938h5v5h-5zM1357 936h5v5h-5zM1361 935h5v5h-5zM1365 933h5v5h-5zM1369 931h5v5h-5zM1374 929h5v5h-5zM1378 928h5v5h-5zM1382 926h5v5h-5zM1386 925h5v5h-5zM1390 923h5v5h-5zM1395 921h5v5h-5zM1399 919h5v5h-5zM1403 917h5v5h-5zM1407 915h5v5h-5zM1411 914h5v5h-5zM1415 912h5v5h-5zM1419 910h5v5h-5zM1424 908h5v5h-5zM1428 906h5v5h-5zM1432 904h5v5h-5zM1436 902h5v5h-5zM1440 900h5v5h-5zM1445 897h5v5h-5zM1449 895h5v5h-5zM1453 893h5v5h-5zM1457 891h5v5h-5zM1461 889h5v5h-5zM1465 886h5v5h-5zM1469 884h5v5h-5zM1474 881h5v5h-5zM1478 879h5v5h-5zM1482 877h5v5h-5zM1486 874h5v5h-5zM1490 872h5v5h-5zM1495 869h5v5h-5zM1499 866h5v5h-5zM1503 864h5v5h-5zM1507 861h5v5h-5zM1511 859h5v5h-5zM1515 856h5v5h-5zM1519 854h5v5h-5zM1524 850h5v5h-5zM1528 848h5v5h-5zM1532 845h5v5h-5zM1536 842h5v5h-5zM1540 839h5v5h-5zM1545 835h5v5h-5zM1549 833h5v5h-5zM1553 830h5v5h-5zM1557 827h5v5h-5zM1561 824h5v5h-5zM1565 820h5v5h-5zM1569 817h5v5h-5zM1574 813h5v5h-5zM1578 810h5v5h-5zM1582 807h5v5h-5zM1586 803h5v5h-5zM1590 800h5v5h-5zM1595 796h5v5h-5zM1599 792h5v5h-5zM1603 789h5v5h-5zM1607 785h5v5h-5zM1611 781h5v5h-5zM1615 778h5v5h-5zM1619 774h5v5h-5zM1624 769h5v5h-5zM1628 765h5v5h-5zM1632 762h5v5h-5zM1636 758h5v5h-5zM1640 754h5v5h-5zM1645 749h5v5h-5zM1649 745h5v5h-5zM1653 741h5v5h-5zM1657 737h5v5h-5zM1661 733h5v5h-5zM1665 729h5v5h-5zM1669 721h5v6h-5zM1674 717h5v5h-5zM1678 713h5v5h-5zM1682 709h5v5h-5zM1686 705h5v5h-5zM1690 697h5v6h-5zM1695 692h5v5h-5zM1699 688h5v5h-5zM1703 684h5v5h-5zM1707 676h5v6h-5zM1711 672h5v5h-5zM1715 668h5v5h-5zM1719 660h5v6h-5zM1724 655h5v5h-5zM1728 651h5v5h-5zM1732 643h5v6h-5zM1736 639h5v5h-5zM1740 635h5v5h-5zM1745 626h5v6h-5zM1749 622h5v5h-5zM1753 614h5v6h-5zM1757 610h5v5h-5zM1761 602h5v6h-5zM1765 594h5v6h-5zM1769 590h5v5h-5zM1774 581h5v6h-5zM1778 577h5v5h-5zM1782 569h5v6h-5zM1786 561h5v6h-5zM1790 557h5v5h-5zM1795 548h5v6h-5zM1799 540h5v6h-5zM1803 532h5v6h-5zM1807 528h5v5h-5zM1811 520h5v6h-5zM1815 512h5v6h-5zM1819 504h5v6h-5zM1824 495h5v6h-5zM1828 487h5v6h-5zM1832 479h5v6h-5zM1836 471h5v6h-5zM1840 463h5v6h-5zM1845 454h5v6h-5zM1849 446h5v6h-5zM1853 438h5v6h-5zM1857 430h5v6h-5zM1861 422h5v6h-5zM1865 410h5v10h-5zM1869 402h5v6h-5zM1874 393h5v6h-5zM1878 385h5v6h-5zM1882 373h5v10h-5zM1886 365h5v6h-5zM1890 357h5v6h-5zM1895 344h5v10h-5zM1899 336h5v6h-5zM1903 324h5v10h-5zM1907 316h5v6h-5zM1911 304h5v10h-5zM1915 296h5v6h-5zM1920 283h5v10h-5zM1924 271h5v10h-5zM1928 259h5v10h-5zM1932 251h5v6h-5zM1936 239h5v10h-5zM1940 227h5v10h-5zM1945 214h5v10h-5zM1949 202h5v10h-5zM1953 190h5v10h-5zM1957 178h5v10h-5zM1961 166h5v10h-5zM1965 154h5v10h-5zM1970 141h5v10h-5zM1974 129h5v10h-5zM1978 117h5v10h-5zM1982 105h5v10h-5zM1986 89h5v14h-5z" fill="#7c7c7c"/>
<path d="M307 1044h5v1h-5zM311 1044h5v1h-5zM315 1044h5v1h-5zM319 1044h5v1h-5zM324 1044h5v1h-5zM328 1044h5v1h-5zM332 1044h5v1h-5zM336 1044h5v1h-5zM340 1044h5v1h-5zM345 1044h5v1h-5zM349 1044h5v1h-5zM353 1044h5v1h-5zM357 1044h5v1h-5zM361 1044h5v1h-5zM365 1044h5v1h-5zM370 1044h5v1h-5zM374 1044h5v1h-5zM378 1044h5v1h-5zM382 1044h5v1h-5zM386 1044h5v1h-5zM390 1044h5v1h-5zM395 1044h5v1h-5zM399 1044h5v1h-5zM403 1044h5v1h-5zM407 1044h5v1h-5zM411 1044h5v1h-5zM415 1044h5v1h-5zM420 1044h5v1h-5zM424 1044h5v1h-5zM428 1044h5v1h-5zM432 1044h5v1h-5zM436 1044h5v1h-5zM440 1044h5v1h-5zM445 1044h5v1h-5zM449 1044h5v1h-5zM599 1036h5v1h-5zM603 1036h5v1h-5zM607 1036h5v1h-5zM611 1036h5v1h-5zM615 1036h5v1h-5zM619 1036h5v1h-5zM624 1036h5v1h-5zM628 1036h5v1h-5zM632 1036h5v1h-5zM636 1036h5v1h-5zM640 1036h5v1h-5zM645 1036h5v1h-5zM649 1036h5v1h-5zM653 1036h5v1h-5zM657 1036h5v1h-5zM661 1036h5v1h-5zM665 1036h5v1h-5zM669 1036h5v1h-5zM674 1036h5v1h-5zM678 1036h5v1h-5zM682 1036h5v1h-5zM686 1036h5v1h-5zM690 1036h5v1h-5zM695 1036h5v1h-5zM699 1036h5v1h-5zM703 1036h5v1h-5zM707 1036h5v1h-5zM711 1036h5v1h-5zM715 1036h5v1h-5zM720 1036h5v1h-5zM724 1036h5v1h-5zM728 1036h5v1h-5zM732 1036h5v1h-5zM736 1036h5v1h-5zM740 1036h5v1h-5zM807 1028h5v1h-5zM811 1028h5v1h-5zM815 1028h5v1h-5zM819 1028h5v1h-5zM824 1028h5v1h-5zM828 1028h5v1h-5zM832 1028h5v1h-5zM836 1028h5v1h-5zM840 1028h5v1h-5zM845 1028h5v1h-5zM849 1028h5v1h-5zM853 1028h5v1h-5zM857 1028h5v1h-5zM861 1028h5v1h-5zM865 1028h5v1h-5zM869 1028h5v1h-5zM874 1028h5v1h-5zM878 1028h5v1h-5zM882 1028h5v1h-5zM924 1020h5v1h-5zM928 1020h5v1h-5zM932 1020h5v1h-5zM936 1020h5v1h-5zM940 1020h5v1h-5zM945 1020h5v1h-5zM949 1020h5v1h-5zM953 1020h5v1h-5zM957 1020h5v1h-5zM961 1020h5v1h-5zM965 1020h5v1h-5zM969 1020h5v1h-5zM974 1020h5v1h-5zM978 1020h5v1h-5zM1007 1012h5v1h-5zM1011 1012h5v1h-5zM1015 1012h5v1h-5zM1019 1012h5v1h-5zM1024 1012h5v1h-5zM1028 1012h5v1h-5zM1032 1012h5v1h-5zM1036 1012h5v1h-5zM1040 1012h5v1h-5zM1045 1012h5v1h-5zM1074 1004h5v1h-5zM1078 1004h5v1h-5zM1082 1004h5v1h-5zM1086 1004h5v1h-5zM1090 1004h5v1h-5zM1095 1004h5v1h-5zM1099 1004h5v1h-5zM1103 1004h5v1h-5zM1124 996h5v1h-5zM1128 996h5v1h-5zM1132 996h5v1h-5zM1136 996h5v1h-5zM1140 996h5v1h-5zM1145 996h5v1h-5zM1149 996h5v1h-5zM1170 988h5v1h-5zM1174 988h5v1h-5zM1178 988h5v1h-5zM1182 988h5v1h-5zM1186 988h5v1h-5zM1190 988h5v1h-5zM1207 980h5v1h-5zM1211 980h5v1h-5zM1215 980h5v1h-5zM1220 980h5v1h-5zM1224 980h5v1h-5zM1240 972h5v1h-5zM1245 972h5v1h-5zM1249 972h5v1h-5zM1253 972h5v1h-5zM1257 972h5v1h-5zM1274 964h5v1h-5zM1278 964h5v1h-5zM1282 964h5v1h-5zM1286 964h5v1h-5zM1299 956h5v1h-5zM1303 956h5v1h-5zM1307 956h5v1h-5zM1311 956h5v1h-5zM1324 948h5v1h-5zM1328 948h5v1h-5zM1332 948h5v1h-5zM1336 948h5v1h-5zM1349 940h5v1h-5zM1353 940h5v1h-5zM1357 940h5v1h-5zM1369 932h5v1h-5zM1374 932h5v1h-5zM1378 932h5v1h-5zM1390 924h5v1h-5zM1395 924h5v1h-5zM1407 916h5v1h-5zM1411 916h5v1h-5zM1415 916h5v1h-5zM1424 908h5v1h-5zM1428 908h5v1h-5zM1432 908h5v1h-5zM1440 900h5v1h-5zM1445 900h5v1h-5zM1457 892h5v1h-5zM1461 892h5v1h-5zM1469 884h5v1h-5zM1474 884h5v1h-5zM1486 876h5v1h-5zM1490 876h5v1h-5zM1499 868h5v1h-5zM1503 868h5v1h-5zM1511 860h5v1h-5zM1515 860h5v1h-5zM1524 852h5v1h-5zM1528 852h5v1h-5zM1536 844h5v1h-5zM1545 836h5v1h-5zM1549 836h5v1h-5zM1557 828h5v1h-5zM1561 828h5v1h-5zM1565 820h5v1h-5zM1569 820h5v1h-5zM1578 812h5v1h-5zM1586 804h5v1h-5zM1590 804h5v1h-5zM1595 796h5v1h-5zM1599 796h5v1h-5zM1607 788h5v1h-5zM1615 780h5v1h-5zM1624 772h5v1h-5zM1632 764h5v1h-5zM1640 756h5v1h-5zM1649 748h5v1h-5zM1657 740h5v1h-5zM1665 732h5v1h-5zM1669 724h5v1h-5zM1678 716h5v1h-5zM1686 708h5v1h-5zM1690 700h5v1h-5zM1695 692h5v1h-5zM1699 692h5v1h-5zM1703 684h5v1h-5zM1707 676h5v1h-5zM1711 676h5v1h-5zM1715 668h5v1h-5zM1719 660h5v1h-5zM1728 652h5v1h-5zM1732 644h5v1h-5zM1740 636h5v1h-5zM1745 628h5v1h-5zM1757 612h5v1h-5zM1761 604h5v1h-5zM1765 596h5v1h-5zM1778 580h5v1h-5zM1782 572h5v1h-5zM1786 564h5v1h-5zM1795 548h5v1h-5zM1799 540h5v1h-5zM1803 532h5v1h-5zM1807 532h5v1h-5zM1811 524h5v1h-5zM1815 516h5v1h-5zM1819 508h5v1h-5zM1824 500h5v1h-5zM1828 492h5v1h-5zM1832 484h5v1h-5zM1836 476h5v1h-5zM1840 468h5v1h-5zM1865 412h5v1h-5zM1869 404h5v1h-5zM1874 396h5v1h-5zM1878 388h5v1h-5zM1882 380h5v1h-5zM1895 348h5v1h-5zM1899 340h5v1h-5zM1903 324h5v1h-5zM1903 332h5v1h-5zM1907 316h5v1h-5zM1911 308h5v1h-5zM1915 300h5v1h-5zM1920 284h5v1h-5zM1920 292h5v1h-5zM1924 276h5v1h-5zM1928 260h5v1h-5zM1928 268h5v1h-5zM1932 252h5v1h-5zM1936 244h5v1h-5zM1940 228h5v1h-5zM1940 236h5v1h-5zM1945 220h5v1h-5zM1949 204h5v1h-5zM1953 196h5v1h-5zM1957 180h5v1h-5zM1961 172h5v1h-5zM1965 156h5v1h-5zM1970 148h5v1h-5zM1974 132h5v1h-5zM1978 124h5v1h-5zM1982 108h5v1h-5zM1986 92h5v1h-5zM1986 100h5v1h-5zM21 1036h288v1h-288zM23 1044h286v1h-286z" fill="#fff"/>
<path d="M307 1036h9v5h-9zM311 1036h9v5h-9zM315 1036h9v5h-9zM319 1036h10v5h-10zM324 1036h9v5h-9zM328 1036h9v5h-9zM332 1036h9v5h-9zM336 1036h9v5h-9zM340 1036h10v5h-10zM345 1036h9v5h-9zM349 1036h9v5h-9zM353 1036h9v5h-9zM357 1036h9v5h-9zM361 1036h9v5h-9zM365 1036h10v5h-10zM370 1036h9v5h-9zM374 1036l4 -1h5v5l-4 1h-5zM378 1035h9v5h-9zM382 1035h9v5h-9zM386 1035h9v5h-9zM390 1035h10v5h-10zM395 1035h9v5h-9zM399 1035h9v5h-9zM403 1035h9v5h-9zM407 1035h9v5h-9zM411 1035h9v5h-9zM415 1035h10v5h-10zM420 1035h9v5h-9zM424 1035h9v5h-9zM428 1035h9v5h-9zM432 1035h9v5h-9zM436 1035h9v5h-9zM440 1035h10v5h-10zM445 1035h9v5h-9zM449 1035l4 -1h5v5l-4 1h-5zM453 1034h9v5h-9zM457 1034h9v5h-9zM461 1034h9v5h-9zM465 1034h9v5h-9zM469 1034h10v5h-10zM474 1034h9v5h-9zM478 1034h9v5h-9zM482 1034h9v5h-9zM486 1034h9v5h-9zM490 1034h10v5h-10zM495 1034h9v5h-9zM499 1034h9v5h-9zM503 1034h9v5h-9zM507 1034l4 -1h5v5l-4 1h-5zM511 1033h9v5h-9zM515 1033h10v5h-10zM520 1033h9v5h-9zM524 1033h9v5h-9zM528 1033h9v5h-9zM532 1033h9v5h-9zM536 1033h9v5h-9zM540 1033h10v5h-10zM545 1033h9v5h-9zM549 1033h9v5h-9zM553 1033l4 -1h5v5l-4 1h-5zM557 1032h9v5h-9zM561 1032h9v5h-9zM565 1032h9v5h-9zM569 1032h10v5h-10zM574 1032h9v5h-9zM578 1032h9v5h-9zM582 1032h9v5h-9zM586 1032h9v5h-9zM590 1032h10v5h-10zM595 1032l4 -1h5v5l-4 1h-5zM599 1031h9v5h-9zM603 1031h9v5h-9zM607 1031h9v5h-9zM611 1031h9v5h-9zM615 1031h9v5h-9zM619 1031h10v5h-10zM624 1031h9v5h-9zM628 1031h9v5h-9zM632 1031l4 -1h5v5l-4 1h-5zM636 1030h9v5h-9zM640 1030h10v5h-10zM645 1030h9v5h-9zM649 1030h9v5h-9zM653 1030h9v5h-9zM657 1030h9v5h-9zM661 1030l4 -1h5v5l-4 1h-5zM665 1029h9v5h-9zM669 1029h10v5h-10zM674 1029h9v5h-9zM678 1029h9v5h-9zM682 1029h9v5h-9zM686 1029h9v5h-9zM690 1029l5 -1h5v5l-5 1h-5zM695 1028h9v5h-9zM699 1028h9v5h-9zM703 1028h9v5h-9zM707 1028h9v5h-9zM711 1028h9v5h-9zM715 1028l5 -1h5v5l-5 1h-5zM720 1027h9v5h-9zM724 1027h9v5h-9zM728 1027h9v5h-9zM732 1027h9v5h-9zM736 1027h9v5h-9zM740 1027l5 -1h5v5l-5 1h-5zM745 1026h9v5h-9zM749 1026h9v5h-9zM753 1026h9v5h-9zM757 1026h9v5h-9zM761 1026h9v5h-9zM765 1026l5 -1h5v5l-5 1h-5zM770 1025h9v5h-9zM774 1025h9v5h-9zM778 1025h9v5h-9zM782 1025l4 -1h5v5l-4 1h-5zM786 1024h9v5h-9zM790 1024h10v5h-10zM795 1024h9v5h-9zM799 1024h9v5h-9zM803 1024l4 -1h5v5l-4 1h-5zM807 1023h9v5h-9zM811 1023h9v5h-9zM815 1023h9v5h-9zM819 1023l5 -1h5v5l-5 1h-5zM824 1022h9v5h-9zM828 1022h9v5h-9zM832 1022h9v5h-9zM836 1022l4 -1h5v5l-4 1h-5zM840 1021h10v5h-10zM845 1021h9v5h-9zM849 1021h9v5h-9zM853 1021l4 -1h5v5l-4 1h-5zM857 1020h9v5h-9zM861 1020h9v5h-9zM865 1020h9v5h-9zM869 1020l5 -1h5v5l-5 1h-5zM874 1019h9v5h-9zM878 1019h9v5h-9zM882 1019l4 -1h5v5l-4 1h-5zM886 1018h9v5h-9zM890 1018h10v5h-10zM895 1018l4 -1h5v5l-4 1h-5zM899 1017h9v5h-9zM903 1017h9v5h-9zM907 1017h9v5h-9zM911 1017l4 -1h5v5l-4 1h-5zM915 1016h9v5h-9zM919 1016l5 -1h5v5l-5 1h-5zM924 1015h9v5h-9zM928 1015h9v5h-9zM932 1015l4 -1h5v5l-4 1h-5zM936 1014h9v5h-9zM940 1014h10v5h-10zM945 1014l4 -1h5v5l-4 1h-5zM949 1013h9v5h-9zM953 1013h9v5h-9zM957 1013l4 -1h5v5l-4 1h-5zM961 1012h9v5h-9zM965 1012l4 -1h5v5l-4 1h-5zM969 1011h10v5h-10zM974 1011h9v5h-9zM978 1011l4 -1h5v5l-4 1h-5zM982 1010h9v5h-9zM986 1010l4 -1h5v5l-4 1h-5zM990 1009h10v5h-10zM995 1009l4 -1h5v5l-4 1h-5zM999 1008h9v5h-9zM1003 1008l4 -1h5v5l-4 1h-5zM1007 1007h9v5h-9zM1011 1007h9v5h-9zM1015 1007l4 -1h5v5l-4 1h-5zM1019 1006h10v5h-10zM1024 1006l4 -1h5v5l-4 1h-5zM1028 1005h9v5h-9zM1032 1005l4 -1h5v5l-4 1h-5zM1036 1004h9v5h-9zM1040 1004l5 -1h5v5l-5 1h-5zM1045 1003l4 -1h5v5l-4 1h-5zM1049 1002h9v5h-9zM1053 1002l4 -1h5v5l-4 1h-5zM1057 1001h9v5h-9zM1061 1001l4 -1h5v5l-4 1h-5zM1065 1000h9v5h-9zM1069 1000l5 -1h5v5l-5 1h-5zM1074 999h9v5h-9zM1078 999l4 -1h5v5l-4 1h-5zM1082 998l4 -1h5v5l-4 1h-5zM1086 997h9v5h-9zM1090 997l5 -1h5v5l-5 1h-5zM1095 996l4 -1h5v5l-4 1h-5zM1099 995h9v5h-9zM1103 995l4 -1h5v5l-4 1h-5zM1107 994h9v5h-9zM1111 994l4 -1h5v5l-4 1h-5zM1115 993l5 -1h5v5l-5 1h-5zM1120 992l4 -1h5v5l-4 1h-5zM1124 991h9v5h-9zM1128 991l4 -1h5v5l-4 1h-5zM1132 990l4 -1h5v5l-4 1h-5zM1136 989h9v5h-9zM1140 989l5 -1h5v5l-5 1h-5zM1145 988l4 -1h5v5l-4 1h-5zM1149 987l4 -1h5v5l-4 1h-5zM1153 986h9v5h-9zM1157 986l4 -1h5v5l-4 1h-5zM1161 985l4 -1h5v5l-4 1h-5zM1165 984l5 -1h5v5l-5 1h-5zM1170 983l4 -1h5v5l-4 1h-5zM1174 982l4 -1h5v5l-4 1h-5zM1178 981h9v5h-9zM1182 981l4 -1h5v5l-4 1h-5zM1186 980l4 -1h5v5l-4 1h-5zM1190 979l5 -1h5v5l-5 1h-5zM1195 978l4 -1h5v5l-4 1h-5zM1199 977l4 -1h5v5l-4 1h-5zM1203 976l4 -1h5v5l-4 1h-5zM1207 975l4 -1h5v5l-4 1h-5zM1211 974l4 -1h5v5l-4 1h-5zM1215 973l5 -1h5v5l-5 1h-5zM1220 972l4 -1h5v5l-4 1h-5zM1224 971l4 -1h5v5l-4 1h-5zM1228 970l4 -1h5v5l-4 1h-5zM1232 969l4 -1h5v5l-4 1h-5zM1236 968l4 -1h5v5l-4 1h-5zM1240 967l5 -1h5v5l-5 1h-5zM1245 966l4 -1h5v5l-4 1h-5zM1249 965l4 -1h5v5l-4 1h-5zM1253 964l4 -1h5v5l-4 1h-5zM1257 963l4 -1h5v5l-4 1h-5zM1261 962l4 -1h5v5l-4 1h-5zM1265 961l5 -1h5v5l-5 1h-5zM1270 960l4 -2h5v5l-4 2h-5zM1274 958l4 -1h5v5l-4 1h-5zM1278 957l4 -1h5v5l-4 1h-5zM1282 956l4 -1h5v5l-4 1h-5zM1286 955l4 -1h5v5l-4 1h-5zM1290 954l5 -2h5v5l-5 2h-5zM1295 952l4 -1h5v5l-4 1h-5zM1299 951l4 -1h5v5l-4 1h-5zM1303 950l4 -2h5v5l-4 2h-5zM1307 948l4 -1h5v5l-4 1h-5zM1311 947l4 -1h5v5l-4 1h-5zM1315 946l5 -2h5v5l-5 2h-5zM1320 944l4 -1h5v5l-4 1h-5zM1324 943l4 -1h5v5l-4 1h-5zM1328 942l4 -2h5v5l-4 2h-5zM1332 940l4 -1h5v5l-4 1h-5zM1336 939l4 -2h5v5l-4 2h-5zM1340 937l5 -1h5v5l-5 1h-5zM1345 936l4 -2h5v5l-4 2h-5zM1349 934l4 -1h5v5l-4 1h-5zM1353 933l4 -2h5v5l-4 2h-5zM1357 931l4 -1h5v5l-4 1h-5zM1361 930l4 -2h5v5l-4 2h-5zM1365 928l4 -2h5v5l-4 2h-5zM1369 926l5 -2h5v5l-5 2h-5zM1374 924l4 -1h5v5l-4 1h-5zM1378 923l4 -2h5v5l-4 2h-5zM1382 921l4 -1h5v5l-4 1h-5zM1386 920l4 -2h5v5l-4 2h-5zM1390 918l5 -2h5v5l-5 2h-5zM1395 916l4 -2h5v5l-4 2h-5zM1399 914l4 -2h5v5l-4 2h-5zM1403 912l4 -2h5v5l-4 2h-5zM1407 910l4 -1h5v5l-4 1h-5zM1411 909l4 -2h5v5l-4 2h-5zM1415 907l4 -2h5v5l-4 2h-5zM1419 905l5 -2h5v5l-5 2h-5zM1424 903l4 -2h5v5l-4 2h-5zM1428 901l4 -2h5v5l-4 2h-5zM1432 899l4 -2h5v5l-4 2h-5zM1436 897l4 -2h5v5l-4 2h-5zM1440 895l5 -3h5v5l-5 3h-5zM1445 892l4 -2h5v5l-4 2h-5zM1449 890l4 -2h5v5l-4 2h-5zM1453 888l4 -2h5v5l-4 2h-5zM1457 886l4 -2h5v5l-4 2h-5zM1461 884l4 -3h5v5l-4 3h-5zM1465 881l4 -2h5v5l-4 2h-5zM1469 879l5 -3h5v5l-5 3h-5zM1474 876l4 -2h5v5l-4 2h-5zM1478 874l4 -2h5v5l-4 2h-5zM1482 872l4 -3h5v5l-4 3h-5zM1486 869l4 -2h5v5l-4 2h-5zM1490 867l5 -3h5v5l-5 3h-5zM1495 864l4 -3h5v5l-4 3h-5zM1499 861l4 -2h5v5l-4 2h-5zM1503 859l4 -3h5v5l-4 3h-5zM1507 856l4 -2h5v5l-4 2h-5zM1511 854l4 -3h5v5l-4 3h-5zM1515 851l4 -2h5v5l-4 2h-5zM1519 849l5 -4h5v5l-5 4h-5zM1524 845l4 -2h5v5l-4 2h-5zM1528 843l4 -3h5v5l-4 3h-5zM1532 840l4 -3h5v5l-4 3h-5zM1536 837l4 -3h5v5l-4 3h-5zM1540 834l5 -4h5v5l-5 4h-5zM1545 830l4 -2h5v5l-4 2h-5zM1549 828l4 -3h5v5l-4 3h-5zM1553 825l4 -3h5v5l-4 3h-5zM1557 822l4 -3h5v5l-4 3h-5zM1561 819l4 -4h5v5l-4 4h-5zM1565 815l4 -3h5v5l-4 3h-5zM1569 812l5 -4h5v5l-5 4h-5zM1574 808l4 -3h5v5l-4 3h-5zM1578 805l4 -3h5v5l-4 3h-5zM1582 802l4 -4h5v5l-4 4h-5zM1586 798l4 -3h5v5l-4 3h-5zM1590 795l5 -4h5v5l-5 4h-5zM1595 791l4 -4h5v5l-4 4h-5zM1599 787l4 -3h5v5l-4 3h-5zM1603 784l4 -4h5v5l-4 4h-5zM1607 780l4 -4h5v5l-4 4h-5zM1611 776l4 -3h5v5l-4 3h-5zM1615 773l4 -4h5v5l-4 4h-5zM1619 769l5 -5h5v5l-5 5h-5zM1624 764l4 -4h5v5l-4 4h-5zM1628 760l4 -3h5v5l-4 3h-5zM1632 757l4 -4h5v5l-4 4h-5zM1636 753l4 -4h5v5l-4 4h-5zM1640 749l5 -5h5v5l-5 5h-5zM1645 744l4 -4h5v5l-4 4h-5zM1649 740l4 -4h5v5l-4 4h-5zM1653 736l4 -4h5v5l-4 4h-5zM1657 732l4 -4h5v5l-4 4h-5zM1661 728l4 -4h5v5l-4 4h-5zM1665 724l4 -4h5v5l-4 4h-5zM1669 716l5 -4h5v5l-5 4h-5zM1674 712l4 -4h5v5l-4 4h-5zM1678 708l4 -4h5v5l-4 4h-5zM1682 704l4 -4h5v5l-4 4h-5zM1686 700l4 -4h5v5l-4 4h-5zM1690 692l5 -5h5v5l-5 5h-5zM1695 687l4 -4h5v5l-4 4h-5zM1699 683l4 -4h5v5l-4 4h-5zM1703 679l4 -4h5v5l-4 4h-5zM1707 671l4 -4h5v5l-4 4h-5zM1711 667l4 -4h5v5l-4 4h-5zM1715 663l4 -4h5v5l-4 4h-5zM1719 655l5 -5h5v5l-5 5h-5zM1724 650l4 -4h5v5l-4 4h-5zM1728 646l4 -4h5v5l-4 4h-5zM1732 638l4 -4h5v5l-4 4h-5zM1736 634l4 -4h5v5l-4 4h-5zM1740 630l5 -5h5v5l-5 5h-5zM1745 621l4 -4h5v5l-4 4h-5zM1749 617l4 -4h5v5l-4 4h-5zM1753 609l4 -4h5v5l-4 4h-5zM1757 605l4 -4h5v5l-4 4h-5zM1761 597l4 -4h5v5l-4 4h-5zM1765 589l4 -4h5v5l-4 4h-5zM1769 585l5 -5h5v5l-5 5h-5zM1774 576l4 -4h5v5l-4 4h-5zM1778 572l4 -4h5v5l-4 4h-5zM1782 564l4 -4h5v5l-4 4h-5zM1786 556l4 -4h5v5l-4 4h-5zM1790 552l5 -5h5v5l-5 5h-5zM1795 543l4 -4h5v5l-4 4h-5zM1799 535l4 -4h5v5l-4 4h-5zM1803 527l4 -4h5v5l-4 4h-5zM1807 523l4 -4h5v5l-4 4h-5zM1811 515l4 -4h5v5l-4 4h-5zM1815 507l4 -4h5v5l-4 4h-5zM1819 499l5 -5h5v5l-5 5h-5zM1824 490l4 -4h5v5l-4 4h-5zM1828 482l4 -4h5v5l-4 4h-5zM1832 474l4 -4h5v5l-4 4h-5zM1836 466l4 -4h5v5l-4 4h-5zM1840 458l5 -5h5v5l-5 5h-5zM1845 449l4 -4h5v5l-4 4h-5zM1849 441l4 -4h5v5l-4 4h-5zM1853 433l4 -4h5v5l-4 4h-5zM1857 425l4 -4h5v5l-4 4h-5zM1861 417l4 -4h5v5l-4 4h-5zM1865 405l4 -4h5v5l-4 4h-5zM1869 397l5 -5h5v5l-5 5h-5zM1874 388l4 -4h5v5l-4 4h-5zM1878 380l4 -4h5v5l-4 4h-5zM1882 368l4 -4h5v5l-4 4h-5zM1886 360l4 -4h5v5l-4 4h-5zM1890 352l5 -5h5v5l-5 5h-5zM1895 339l4 -4h5v5l-4 4h-5zM1899 331l4 -4h5v5l-4 4h-5zM1903 319l4 -4h5v5l-4 4h-5zM1907 311l4 -4h5v5l-4 4h-5zM1911 299l4 -4h5v5l-4 4h-5zM1915 291l5 -5h5v5l-5 5h-5zM1920 278l4 -4h5v5l-4 4h-5zM1924 266l4 -4h5v5l-4 4h-5zM1928 254l4 -4h5v5l-4 4h-5zM1932 246l4 -4h5v5l-4 4h-5zM1936 234l4 -4h5v5l-4 4h-5zM1940 222l5 -5h5v5l-5 5h-5zM1945 209l4 -4h5v5l-4 4h-5zM1949 197l4 -4h5v5l-4 4h-5zM1953 185l4 -4h5v5l-4 4h-5zM1957 173l4 -4h5v5l-4 4h-5zM1961 161l4 -4h5v5l-4 4h-5zM1965 149l5 -5h5v5l-5 5h-5zM1970 136l4 -4h5v5l-4 4h-5zM1974 124l4 -4h5v5l-4 4h-5zM1978 112l4 -4h5v5l-4 4h-5zM1982 100l4 -4h5v5l-4 4h-5z" fill="#999999"/>
</g>
<rect x="1853" y="380" width="33" height="32" fill="url(#hgray)" shape-rendering="crispEdges"/>
<rect x="1713" y="644" width="33" height="32" fill="url(#hgray)" shape-rendering="crispEdges"/>
<rect x="1569" y="773" width="33" height="32" fill="url(#hgray)" shape-rendering="crispEdges"/>
<rect x="1429" y="880" width="33" height="32" fill="url(#hgray)" shape-rendering="crispEdges"/>
<rect x="1284" y="940" width="33" height="32" fill="url(#hgray)" shape-rendering="crispEdges"/>
<rect x="1140" y="982" width="33" height="32" fill="url(#hgray)" shape-rendering="crispEdges"/>
<rect x="1000" y="990" width="33" height="32" fill="url(#hgray)" shape-rendering="crispEdges"/>
<rect x="856" y="1010" width="33" height="32" fill="url(#hgray)" shape-rendering="crispEdges"/>
<rect x="715" y="1010" width="33" height="32" fill="url(#hgray)" shape-rendering="crispEdges"/>
<rect x="571" y="1022" width="33" height="32" fill="url(#hgray)" shape-rendering="crispEdges"/>
</g>
<text x="1272.5" y="58" font-size="47.3" font-weight="bold" text-anchor="middle" textLength="578" lengthAdjust="spacing">Overview of all RS curves</text>
<g font-size="42.67">
<text x="310" y="1137" text-anchor="middle">0.01</text>
<text x="782" y="1137" text-anchor="middle">0.1</text>
<text x="1257.5" y="1137" text-anchor="middle">1</text>
<text x="1730.5" y="1137" text-anchor="middle">10</text>
<text x="2202.5" y="1137" text-anchor="middle">100</text>
<text x="1253" y="1223" text-anchor="middle" textLength="113" lengthAdjust="spacing">x axis</text>
<text transform="translate(115 581.5) rotate(-90)" text-anchor="middle" textLength="112" lengthAdjust="spacing">y axis</text>
<text x="1151" y="1322" text-anchor="end" textLength="620" lengthAdjust="spacing">y = ( (A - D)/(1 + (x/C)^B ) ) + D:</text>
<text x="1260.6" y="1322" text-anchor="middle">A</text>
<text x="1475.4" y="1322" text-anchor="middle">B</text>
<text x="1691.8" y="1322" text-anchor="middle">C</text>
<text x="1908.6" y="1322" text-anchor="middle">D</text>
<text x="2126.7" y="1322" text-anchor="middle" textLength="71" lengthAdjust="spacingAndGlyphs">R^2</text>
<rect x="1244" y="1326" width="33" height="4" shape-rendering="crispEdges"/>
<rect x="1461" y="1326" width="29" height="4" shape-rendering="crispEdges"/>
<rect x="1677.5" y="1326" width="29" height="4" shape-rendering="crispEdges"/>
<rect x="1894" y="1326" width="29" height="4" shape-rendering="crispEdges"/>
<rect x="2090" y="1326" width="73" height="4" shape-rendering="crispEdges"/>
<path fill="#0000e0" fill-rule="evenodd" shape-rendering="crispEdges" d="M85.5 1350h16l8.5 8.5v16l-8.5 8.5h-16l-8.5 -8.5v-16zM89 1356h9l6 6v9l-6 6h-9l-6 -6v-9z"/>
<text x="140" y="1385" textLength="1023" lengthAdjust="spacing">1.0 ug/mL SUDV (G26 1.0 ug/mL SUDV: Concentrat...</text>
<text x="1263" y="1385" text-anchor="middle">0.03</text>
<text x="1479.5" y="1385" text-anchor="middle">1.245</text>
<text x="1696" y="1385" text-anchor="middle">5.187</text>
<text x="1912.3" y="1385" text-anchor="middle">3.936</text>
<text x="2128.5" y="1385" text-anchor="middle">0.999</text>
<path fill="url(#hred)" fill-rule="evenodd" shape-rendering="crispEdges" d="M79 1415h33v33h-33zM84 1420h23v23h-23z"/>
<text x="140" y="1448" textLength="1023" lengthAdjust="spacing">0.5 ug/mL SUDV (G26 0.5 ug/mL SUDV: Concentrat...</text>
<text x="1263" y="1448" text-anchor="middle">0.035</text>
<text x="1479.5" y="1448" text-anchor="middle">1.223</text>
<text x="1696" y="1448" text-anchor="middle">5.585</text>
<text x="1912.3" y="1448" text-anchor="middle">3.865</text>
<text x="2128.5" y="1448" text-anchor="middle">0.999</text>
<path fill="#008800" fill-rule="evenodd" d="M95.5 1476.5L114.5 1513L76.5 1513zM95.5 1490L86 1508L105 1508z"/>
<text x="140" y="1511" textLength="1023" lengthAdjust="spacing">0.4 ug/mL SUDV (G26 0.4 ug/mL SUDV: Concentrat...</text>
<text x="1263" y="1511" text-anchor="middle">0.014</text>
<text x="1479.5" y="1511" text-anchor="middle">1.156</text>
<text x="1696" y="1511" text-anchor="middle">6.979</text>
<text x="1912.3" y="1511" text-anchor="middle">3.999</text>
<text x="2128.5" y="1511" text-anchor="middle">1</text>
<path fill="#ff6600" fill-rule="evenodd" d="M95.5 1538.5L114 1557L95.5 1575.5L77 1557zM95.5 1547L85.5 1557L95.5 1567L105.5 1557z"/>
<text x="140" y="1574" textLength="1023" lengthAdjust="spacing">0.3 ug/mL SUDV (G26 0.3 ug/mL SUDV: Concentrat...</text>
<text x="1263" y="1574" text-anchor="middle">0.017</text>
<text x="1479.5" y="1574" text-anchor="middle">1.123</text>
<text x="1696" y="1574" text-anchor="middle">9.262</text>
<text x="1912.3" y="1574" text-anchor="middle">4.169</text>
<text x="2128.5" y="1574" text-anchor="middle">0.999</text>
<path fill="url(#hpurple)" shape-rendering="crispEdges" d="M87 1605h17l8 8v17l-8 8h-17l-8 -8v-17z"/>
<text x="140" y="1637" textLength="1023" lengthAdjust="spacing">0.2 ug/mL SUDV (G26 0.2 ug/mL SUDV: Concentrat...</text>
<text x="1263" y="1637" text-anchor="middle">-0.008</text>
<text x="1479.5" y="1637" text-anchor="middle">0.989</text>
<text x="1696" y="1637" text-anchor="middle">13.877</text>
<text x="1912.3" y="1637" text-anchor="middle">4.596</text>
<text x="2128.5" y="1637" text-anchor="middle">1</text>
<rect x="79" y="1667" width="33" height="32" fill="url(#hgray)" shape-rendering="crispEdges"/>
<text x="140" y="1700" textLength="1023" lengthAdjust="spacing">0.1 ug/mL SUDV (G26 0.1 ug/mL SUDV: Concentrat...</text>
<text x="1263" y="1700" text-anchor="middle">-0.033</text>
<text x="1479.5" y="1700" text-anchor="middle">0.727</text>
<text x="1696" y="1700" text-anchor="middle">2254.631</text>
<text x="1912.3" y="1700" text-anchor="middle">74.199</text>
<text x="2128.5" y="1700" text-anchor="middle">0.999</text>
</g>
</svg></body></html>
